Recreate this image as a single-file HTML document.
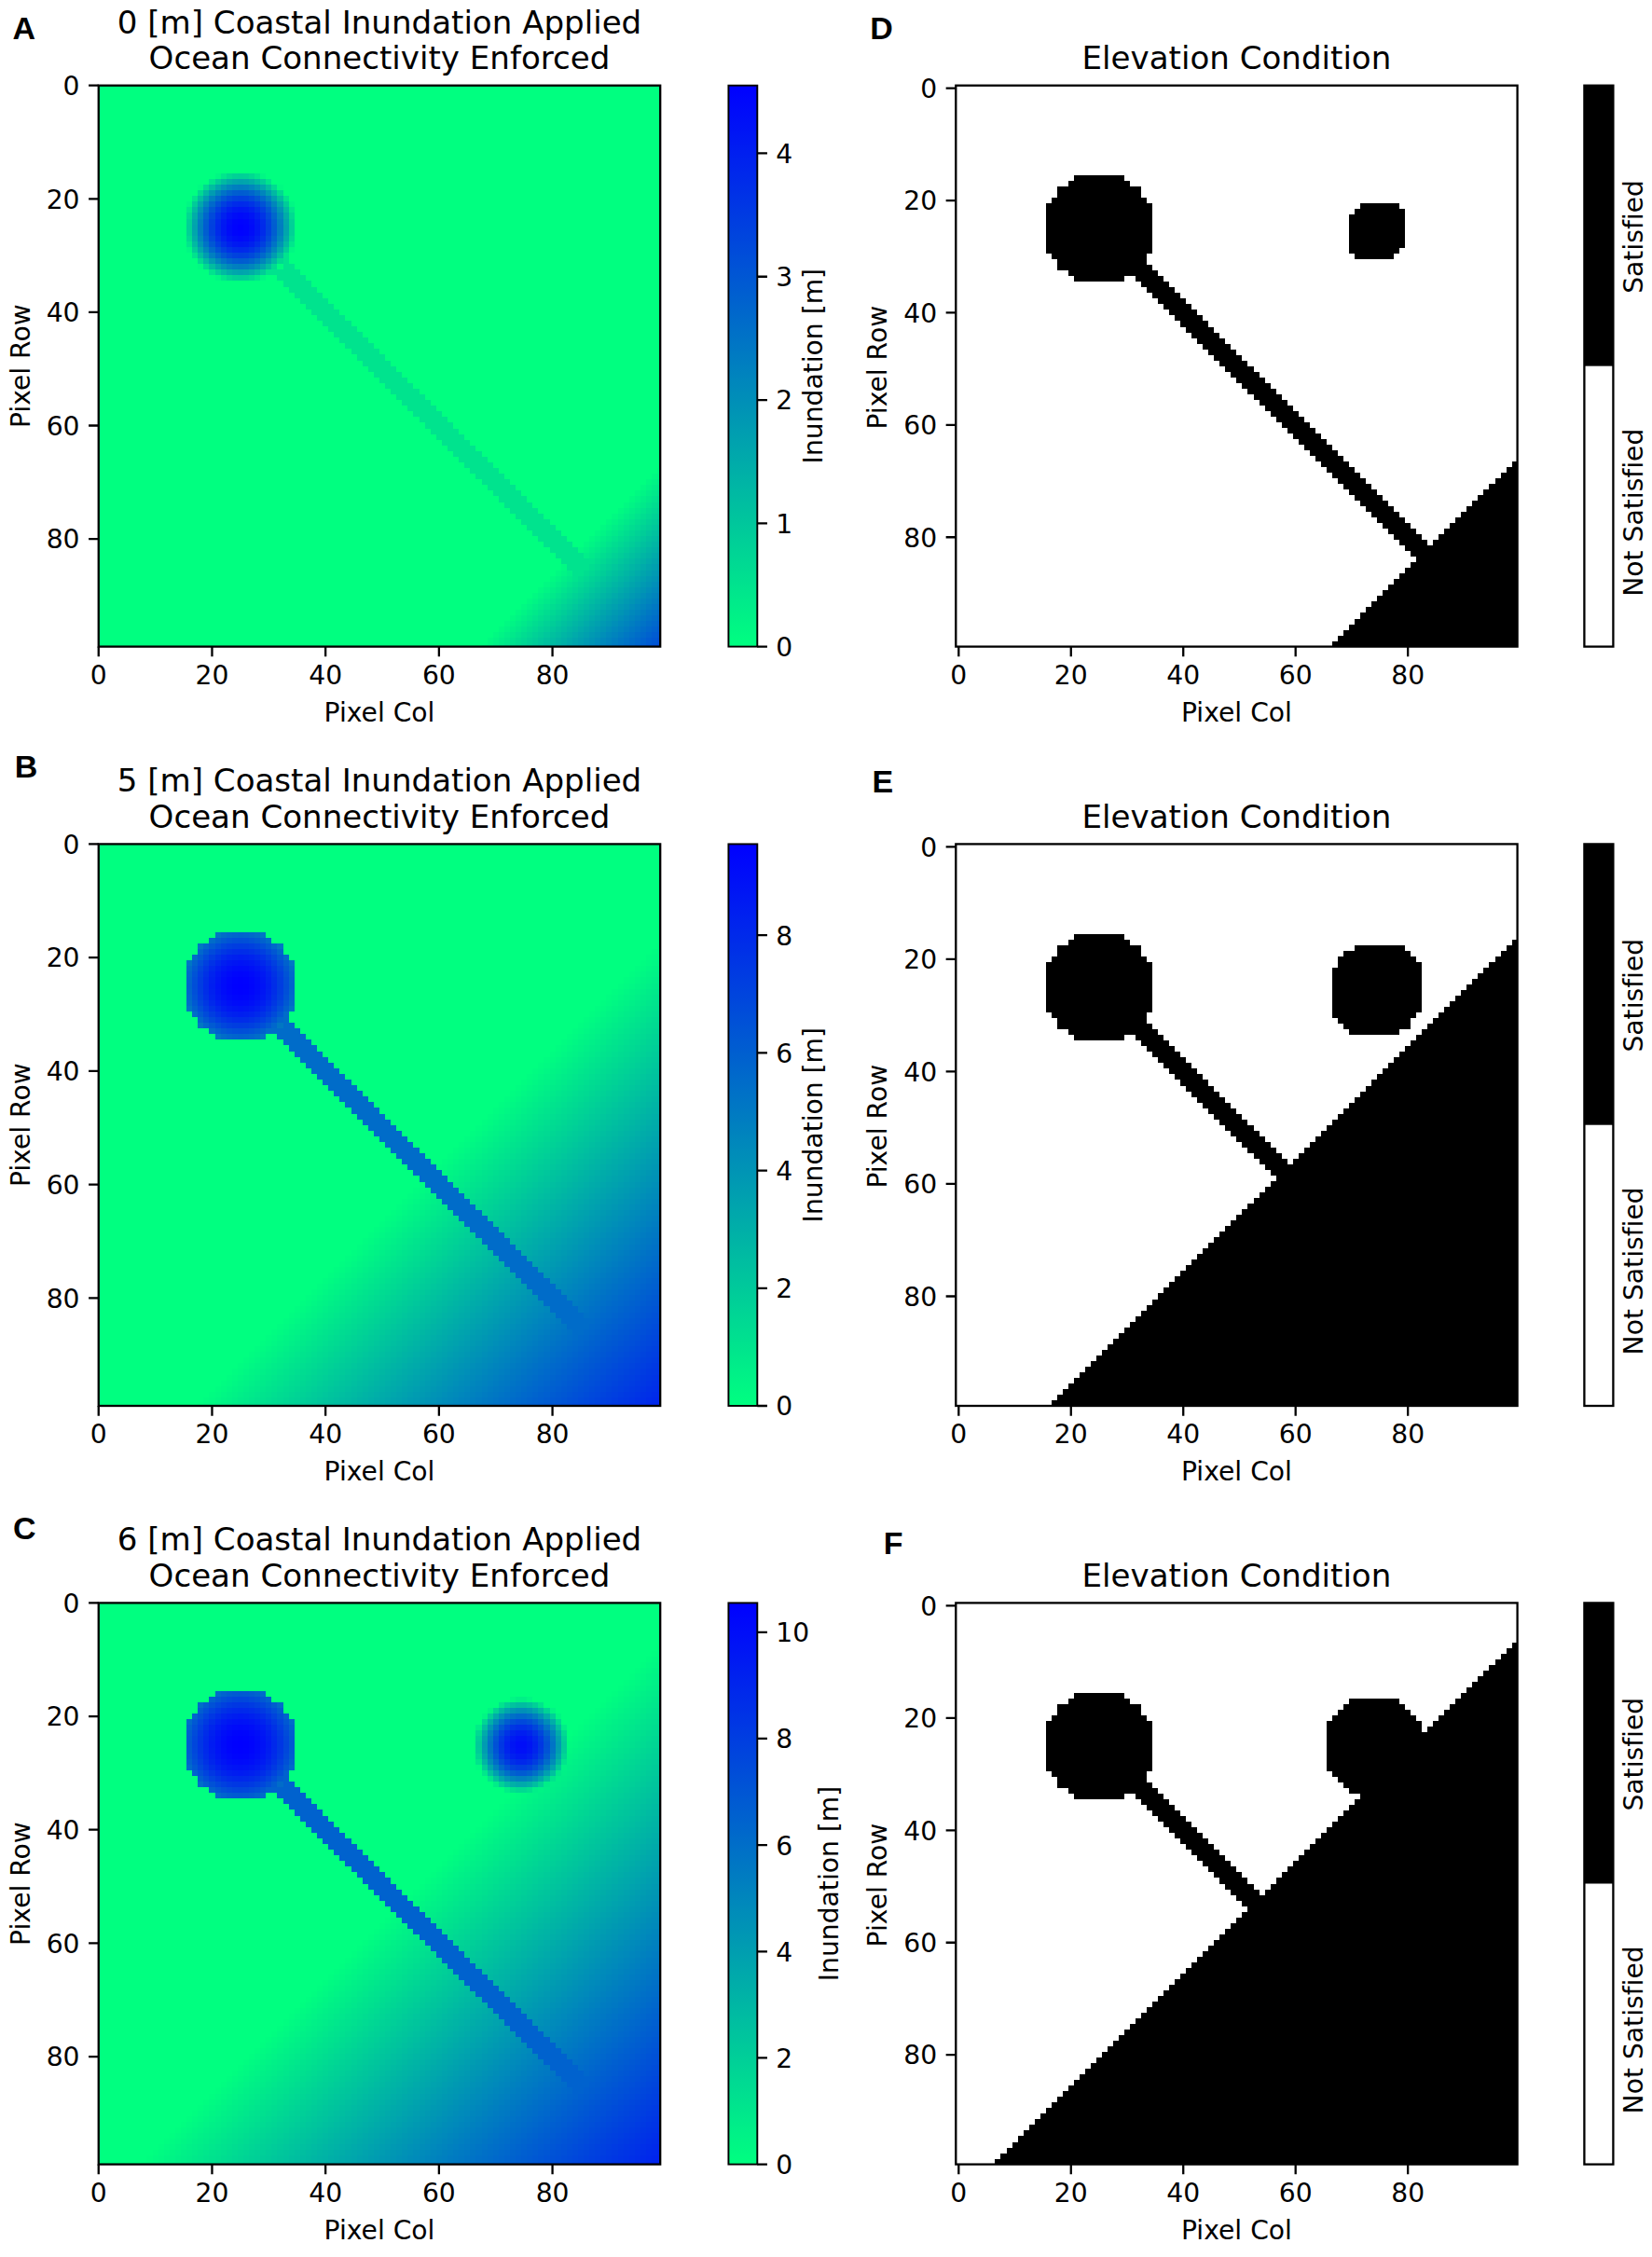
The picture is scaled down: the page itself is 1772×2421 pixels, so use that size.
<!DOCTYPE html>
<html><head><meta charset="utf-8"><title>Coastal Inundation</title>
<style>text{font-variant-ligatures:none;font-feature-settings:"liga" 0,"clig" 0}html,body{margin:0;padding:0;background:#fff}body{width:1772px;height:2421px;overflow:hidden}</style>
</head><body>
<svg width="1772" height="2421" viewBox="0 0 1772 2421" style="display:block">
<rect width="1772" height="2421" fill="#fff"/>
<defs><linearGradient id="wg" x1="0" y1="1" x2="0" y2="0"><stop offset="0" stop-color="#00ff80"/><stop offset="1" stop-color="#0000ff"/></linearGradient></defs>
<clipPath id="c0"><rect x="105.75" y="91.7" width="602.45" height="601.9"/></clipPath>
<g clip-path="url(#c0)"><rect x="105.75" y="91.7" width="602.45" height="601.9" fill="#00ff80"/>
<g transform="translate(102.71,88.66) scale(6.08535,6.07980)" shape-rendering="crispEdges">
<path fill="#00fa82" d="M18 18h1v1h-1zM32 18h1v1h-1zM18 32h1v1h-1zM32 32h1v1h-1z"/><path fill="#00f982" d="M99 68h1v1h-1zM98 69h1v1h-1zM97 70h1v1h-1zM96 71h1v1h-1zM95 72h1v1h-1zM94 73h1v1h-1zM93 74h1v1h-1zM92 75h1v1h-1zM91 76h1v1h-1zM90 77h1v1h-1zM89 78h1v1h-1zM88 79h1v1h-1zM87 80h1v1h-1zM86 81h1v1h-1zM85 82h1v1h-1zM82 85h1v1h-1zM81 86h1v1h-1zM80 87h1v1h-1zM79 88h1v1h-1zM78 89h1v1h-1zM77 90h1v1h-1zM76 91h1v1h-1zM75 92h1v1h-1zM74 93h1v1h-1zM73 94h1v1h-1zM72 95h1v1h-1zM71 96h1v1h-1zM70 97h1v1h-1zM69 98h1v1h-1zM68 99h1v1h-1z"/><path fill="#00f784" d="M21 16h1v1h-1zM29 16h1v1h-1zM16 21h1v1h-1zM34 21h1v1h-1zM16 29h1v1h-1zM34 29h1v1h-1zM21 34h1v1h-1zM29 34h1v1h-1z"/><path fill="#00f485" d="M99 69h1v1h-1zM98 70h1v1h-1zM97 71h1v1h-1zM96 72h1v1h-1zM95 73h1v1h-1zM94 74h1v1h-1zM93 75h1v1h-1zM92 76h1v1h-1zM91 77h1v1h-1zM90 78h1v1h-1zM89 79h1v1h-1zM88 80h1v1h-1zM87 81h1v1h-1zM86 82h1v1h-1zM82 86h1v1h-1zM81 87h1v1h-1zM80 88h1v1h-1zM79 89h1v1h-1zM78 90h1v1h-1zM77 91h1v1h-1zM76 92h1v1h-1zM75 93h1v1h-1zM74 94h1v1h-1zM73 95h1v1h-1zM72 96h1v1h-1zM71 97h1v1h-1zM70 98h1v1h-1zM69 99h1v1h-1z"/><path fill="#00ee88" d="M99 70h1v1h-1zM98 71h1v1h-1zM97 72h1v1h-1zM96 73h1v1h-1zM95 74h1v1h-1zM94 75h1v1h-1zM93 76h1v1h-1zM92 77h1v1h-1zM91 78h1v1h-1zM90 79h1v1h-1zM89 80h1v1h-1zM88 81h1v1h-1zM87 82h1v1h-1zM86 83h1v1h-1zM83 86h1v1h-1zM82 87h1v1h-1zM81 88h1v1h-1zM80 89h1v1h-1zM79 90h1v1h-1zM78 91h1v1h-1zM77 92h1v1h-1zM76 93h1v1h-1zM75 94h1v1h-1zM74 95h1v1h-1zM73 96h1v1h-1zM72 97h1v1h-1zM71 98h1v1h-1zM70 99h1v1h-1z"/><path fill="#00e98a" d="M99 71h1v1h-1zM98 72h1v1h-1zM97 73h1v1h-1zM96 74h1v1h-1zM95 75h1v1h-1zM94 76h1v1h-1zM93 77h1v1h-1zM92 78h1v1h-1zM91 79h1v1h-1zM90 80h1v1h-1zM89 81h1v1h-1zM88 82h1v1h-1zM87 83h1v1h-1zM83 87h1v1h-1zM82 88h1v1h-1zM81 89h1v1h-1zM80 90h1v1h-1zM79 91h1v1h-1zM78 92h1v1h-1zM77 93h1v1h-1zM76 94h1v1h-1zM75 95h1v1h-1zM74 96h1v1h-1zM73 97h1v1h-1zM72 98h1v1h-1zM71 99h1v1h-1z"/><path fill="#00e68c" d="M22 16h1v1h-1zM28 16h1v1h-1zM16 22h1v1h-1zM34 22h1v1h-1zM16 28h1v1h-1zM34 28h1v1h-1zM22 34h1v1h-1zM28 34h1v1h-1z"/><path fill="#00e38e" d="M20 17h1v1h-1zM30 17h1v1h-1zM17 20h1v1h-1zM33 20h1v1h-1zM17 30h1v1h-1zM33 30h1v1h-1zM33 31h1v1h-1zM33 32h2v1h-2zM20 33h1v1h-1zM30 33h6v1h-6zM32 34h5v1h-5zM33 35h5v1h-5zM34 36h5v1h-5zM35 37h5v1h-5zM36 38h5v1h-5zM37 39h5v1h-5zM38 40h5v1h-5zM39 41h5v1h-5zM40 42h5v1h-5zM41 43h5v1h-5zM42 44h5v1h-5zM43 45h5v1h-5zM44 46h5v1h-5zM45 47h5v1h-5zM46 48h5v1h-5zM47 49h5v1h-5zM48 50h5v1h-5zM49 51h5v1h-5zM50 52h5v1h-5zM51 53h5v1h-5zM52 54h5v1h-5zM53 55h5v1h-5zM54 56h5v1h-5zM55 57h5v1h-5zM56 58h5v1h-5zM57 59h5v1h-5zM58 60h5v1h-5zM59 61h5v1h-5zM60 62h5v1h-5zM61 63h5v1h-5zM62 64h5v1h-5zM63 65h5v1h-5zM64 66h5v1h-5zM65 67h5v1h-5zM66 68h5v1h-5zM67 69h5v1h-5zM68 70h5v1h-5zM69 71h5v1h-5zM70 72h5v1h-5zM99 72h1v1h-1zM71 73h5v1h-5zM98 73h1v1h-1zM72 74h5v1h-5zM97 74h1v1h-1zM73 75h5v1h-5zM96 75h1v1h-1zM74 76h5v1h-5zM95 76h1v1h-1zM75 77h5v1h-5zM94 77h1v1h-1zM76 78h5v1h-5zM93 78h1v1h-1zM77 79h5v1h-5zM92 79h1v1h-1zM78 80h5v1h-5zM91 80h1v1h-1zM79 81h5v1h-5zM90 81h1v1h-1zM80 82h5v1h-5zM89 82h1v1h-1zM81 83h5v1h-5zM88 83h1v1h-1zM82 84h6v1h-6zM83 85h4v1h-4zM84 86h2v1h-2zM84 87h1v1h-1zM83 88h1v1h-1zM82 89h1v1h-1zM81 90h1v1h-1zM80 91h1v1h-1zM79 92h1v1h-1zM78 93h1v1h-1zM77 94h1v1h-1zM76 95h1v1h-1zM75 96h1v1h-1zM74 97h1v1h-1zM73 98h1v1h-1zM72 99h1v1h-1z"/><path fill="#00dd90" d="M99 73h1v1h-1zM98 74h1v1h-1zM97 75h1v1h-1zM96 76h1v1h-1zM95 77h1v1h-1zM94 78h1v1h-1zM93 79h1v1h-1zM92 80h1v1h-1zM91 81h1v1h-1zM90 82h1v1h-1zM89 83h1v1h-1zM88 84h1v1h-1zM87 85h1v1h-1zM86 86h1v1h-1zM85 87h1v1h-1zM84 88h1v1h-1zM83 89h1v1h-1zM82 90h1v1h-1zM81 91h1v1h-1zM80 92h1v1h-1zM79 93h1v1h-1zM78 94h1v1h-1zM77 95h1v1h-1zM76 96h1v1h-1zM75 97h1v1h-1zM74 98h1v1h-1zM73 99h1v1h-1z"/><path fill="#00d992" d="M23 16h1v1h-1zM27 16h1v1h-1zM19 18h1v1h-1zM31 18h1v1h-1zM18 19h1v1h-1zM32 19h1v1h-1zM16 23h1v1h-1zM34 23h1v1h-1zM16 27h1v1h-1zM34 27h1v1h-1zM18 31h1v1h-1zM32 31h1v1h-1zM19 32h1v1h-1zM31 32h1v1h-1zM23 34h1v1h-1zM27 34h1v1h-1z"/><path fill="#00d893" d="M99 74h1v1h-1zM98 75h1v1h-1zM97 76h1v1h-1zM96 77h1v1h-1zM95 78h1v1h-1zM94 79h1v1h-1zM93 80h1v1h-1zM92 81h1v1h-1zM91 82h1v1h-1zM90 83h1v1h-1zM89 84h1v1h-1zM88 85h1v1h-1zM87 86h1v1h-1zM86 87h1v1h-1zM85 88h1v1h-1zM84 89h1v1h-1zM83 90h1v1h-1zM82 91h1v1h-1zM81 92h1v1h-1zM80 93h1v1h-1zM79 94h1v1h-1zM78 95h1v1h-1zM77 96h1v1h-1zM76 97h1v1h-1zM75 98h1v1h-1zM74 99h1v1h-1z"/><path fill="#00d296" d="M99 75h1v1h-1zM98 76h1v1h-1zM97 77h1v1h-1zM96 78h1v1h-1zM95 79h1v1h-1zM94 80h1v1h-1zM93 81h1v1h-1zM92 82h1v1h-1zM91 83h1v1h-1zM90 84h1v1h-1zM89 85h1v1h-1zM88 86h1v1h-1zM87 87h1v1h-1zM86 88h1v1h-1zM85 89h1v1h-1zM84 90h1v1h-1zM83 91h1v1h-1zM82 92h1v1h-1zM81 93h1v1h-1zM80 94h1v1h-1zM79 95h1v1h-1zM78 96h1v1h-1zM77 97h1v1h-1zM76 98h1v1h-1zM75 99h1v1h-1z"/><path fill="#00d196" d="M24 16h1v1h-1zM26 16h1v1h-1zM16 24h1v1h-1zM34 24h1v1h-1zM16 26h1v1h-1zM34 26h1v1h-1zM24 34h1v1h-1zM26 34h1v1h-1z"/><path fill="#00cf98" d="M25 16h1v1h-1zM16 25h1v1h-1zM34 25h1v1h-1zM25 34h1v1h-1z"/><path fill="#00cd98" d="M99 76h1v1h-1zM98 77h1v1h-1zM97 78h1v1h-1zM96 79h1v1h-1zM95 80h1v1h-1zM94 81h1v1h-1zM93 82h1v1h-1zM92 83h1v1h-1zM91 84h1v1h-1zM90 85h1v1h-1zM89 86h1v1h-1zM88 87h1v1h-1zM87 88h1v1h-1zM86 89h1v1h-1zM85 90h1v1h-1zM84 91h1v1h-1zM83 92h1v1h-1zM82 93h1v1h-1zM81 94h1v1h-1zM80 95h1v1h-1zM79 96h1v1h-1zM78 97h1v1h-1zM77 98h1v1h-1zM76 99h1v1h-1z"/><path fill="#00cc99" d="M21 17h1v1h-1zM29 17h1v1h-1zM17 21h1v1h-1zM33 21h1v1h-1zM17 29h1v1h-1zM33 29h1v1h-1zM21 33h1v1h-1zM29 33h1v1h-1z"/><path fill="#00c79c" d="M99 77h1v1h-1zM98 78h1v1h-1zM97 79h1v1h-1zM96 80h1v1h-1zM95 81h1v1h-1zM94 82h1v1h-1zM93 83h1v1h-1zM92 84h1v1h-1zM91 85h1v1h-1zM90 86h1v1h-1zM89 87h1v1h-1zM88 88h1v1h-1zM87 89h1v1h-1zM86 90h1v1h-1zM85 91h1v1h-1zM84 92h1v1h-1zM83 93h1v1h-1zM82 94h1v1h-1zM81 95h1v1h-1zM80 96h1v1h-1zM79 97h1v1h-1zM78 98h1v1h-1zM77 99h1v1h-1z"/><path fill="#00c19e" d="M99 78h1v1h-1zM98 79h1v1h-1zM97 80h1v1h-1zM96 81h1v1h-1zM95 82h1v1h-1zM94 83h1v1h-1zM93 84h1v1h-1zM92 85h1v1h-1zM91 86h1v1h-1zM90 87h1v1h-1zM89 88h1v1h-1zM88 89h1v1h-1zM87 90h1v1h-1zM86 91h1v1h-1zM85 92h1v1h-1zM84 93h1v1h-1zM83 94h1v1h-1zM82 95h1v1h-1zM81 96h1v1h-1zM80 97h1v1h-1zM79 98h1v1h-1zM78 99h1v1h-1z"/><path fill="#00bda0" d="M20 18h1v1h-1zM30 18h1v1h-1zM18 20h1v1h-1zM32 20h1v1h-1zM18 30h1v1h-1zM32 30h1v1h-1zM20 32h1v1h-1zM30 32h1v1h-1z"/><path fill="#00bca1" d="M99 79h1v1h-1zM98 80h1v1h-1zM97 81h1v1h-1zM96 82h1v1h-1zM95 83h1v1h-1zM94 84h1v1h-1zM93 85h1v1h-1zM92 86h1v1h-1zM91 87h1v1h-1zM90 88h1v1h-1zM89 89h1v1h-1zM88 90h1v1h-1zM87 91h1v1h-1zM86 92h1v1h-1zM85 93h1v1h-1zM84 94h1v1h-1zM83 95h1v1h-1zM82 96h1v1h-1zM81 97h1v1h-1zM80 98h1v1h-1zM79 99h1v1h-1z"/><path fill="#00baa2" d="M22 17h1v1h-1zM28 17h1v1h-1zM17 22h1v1h-1zM33 22h1v1h-1zM17 28h1v1h-1zM33 28h1v1h-1zM22 33h1v1h-1zM28 33h1v1h-1z"/><path fill="#00b8a3" d="M19 19h1v1h-1zM31 19h1v1h-1zM19 31h1v1h-1zM31 31h1v1h-1z"/><path fill="#00b6a4" d="M99 80h1v1h-1zM98 81h1v1h-1zM97 82h1v1h-1zM96 83h1v1h-1zM95 84h1v1h-1zM94 85h1v1h-1zM93 86h1v1h-1zM92 87h1v1h-1zM91 88h1v1h-1zM90 89h1v1h-1zM89 90h1v1h-1zM88 91h1v1h-1zM87 92h1v1h-1zM86 93h1v1h-1zM85 94h1v1h-1zM84 95h1v1h-1zM83 96h1v1h-1zM82 97h1v1h-1zM81 98h1v1h-1zM80 99h1v1h-1z"/><path fill="#00b1a6" d="M99 81h1v1h-1zM98 82h1v1h-1zM97 83h1v1h-1zM96 84h1v1h-1zM95 85h1v1h-1zM94 86h1v1h-1zM93 87h1v1h-1zM92 88h1v1h-1zM91 89h1v1h-1zM90 90h1v1h-1zM89 91h1v1h-1zM88 92h1v1h-1zM87 93h1v1h-1zM86 94h1v1h-1zM85 95h1v1h-1zM84 96h1v1h-1zM83 97h1v1h-1zM82 98h1v1h-1zM81 99h1v1h-1z"/><path fill="#00ada8" d="M23 17h1v1h-1zM27 17h1v1h-1zM17 23h1v1h-1zM33 23h1v1h-1zM17 27h1v1h-1zM33 27h1v1h-1zM23 33h1v1h-1zM27 33h1v1h-1z"/><path fill="#00abaa" d="M99 82h1v1h-1zM98 83h1v1h-1zM97 84h1v1h-1zM96 85h1v1h-1zM95 86h1v1h-1zM94 87h1v1h-1zM93 88h1v1h-1zM92 89h1v1h-1zM91 90h1v1h-1zM90 91h1v1h-1zM89 92h1v1h-1zM88 93h1v1h-1zM87 94h1v1h-1zM86 95h1v1h-1zM85 96h1v1h-1zM84 97h1v1h-1zM83 98h1v1h-1zM82 99h1v1h-1z"/><path fill="#00a6ac" d="M24 17h1v1h-1zM26 17h1v1h-1zM21 18h1v1h-1zM29 18h1v1h-1zM18 21h1v1h-1zM32 21h1v1h-1zM17 24h1v1h-1zM33 24h1v1h-1zM17 26h1v1h-1zM33 26h1v1h-1zM18 29h1v1h-1zM32 29h1v1h-1zM21 32h1v1h-1zM29 32h1v1h-1zM24 33h1v1h-1zM26 33h1v1h-1z"/><path fill="#00a5ac" d="M99 83h1v1h-1zM98 84h1v1h-1zM97 85h1v1h-1zM96 86h1v1h-1zM95 87h1v1h-1zM94 88h1v1h-1zM93 89h1v1h-1zM92 90h1v1h-1zM91 91h1v1h-1zM90 92h1v1h-1zM89 93h1v1h-1zM88 94h1v1h-1zM87 95h1v1h-1zM86 96h1v1h-1zM85 97h1v1h-1zM84 98h1v1h-1zM83 99h1v1h-1z"/><path fill="#00a3ae" d="M25 17h1v1h-1zM17 25h1v1h-1zM33 25h1v1h-1zM25 33h1v1h-1z"/><path fill="#00a0af" d="M99 84h1v1h-1zM98 85h1v1h-1zM97 86h1v1h-1zM96 87h1v1h-1zM95 88h1v1h-1zM94 89h1v1h-1zM93 90h1v1h-1zM92 91h1v1h-1zM91 92h1v1h-1zM90 93h1v1h-1zM89 94h1v1h-1zM88 95h1v1h-1zM87 96h1v1h-1zM86 97h1v1h-1zM85 98h1v1h-1zM84 99h1v1h-1z"/><path fill="#009cb1" d="M20 19h1v1h-1zM30 19h1v1h-1zM19 20h1v1h-1zM31 20h1v1h-1zM19 30h1v1h-1zM31 30h1v1h-1zM20 31h1v1h-1zM30 31h1v1h-1z"/><path fill="#009ab2" d="M99 85h1v1h-1zM98 86h1v1h-1zM97 87h1v1h-1zM96 88h1v1h-1zM95 89h1v1h-1zM94 90h1v1h-1zM93 91h1v1h-1zM92 92h1v1h-1zM91 93h1v1h-1zM90 94h1v1h-1zM89 95h1v1h-1zM88 96h1v1h-1zM87 97h1v1h-1zM86 98h1v1h-1zM85 99h1v1h-1z"/><path fill="#0095b4" d="M99 86h1v1h-1zM98 87h1v1h-1zM97 88h1v1h-1zM96 89h1v1h-1zM95 90h1v1h-1zM94 91h1v1h-1zM93 92h1v1h-1zM92 93h1v1h-1zM91 94h1v1h-1zM90 95h1v1h-1zM89 96h1v1h-1zM88 97h1v1h-1zM87 98h1v1h-1zM86 99h1v1h-1z"/><path fill="#0094b5" d="M22 18h1v1h-1zM28 18h1v1h-1zM18 22h1v1h-1zM32 22h1v1h-1zM18 28h1v1h-1zM32 28h1v1h-1zM22 32h1v1h-1zM28 32h1v1h-1z"/><path fill="#008fb8" d="M99 87h1v1h-1zM98 88h1v1h-1zM97 89h1v1h-1zM96 90h1v1h-1zM95 91h1v1h-1zM94 92h1v1h-1zM93 93h1v1h-1zM92 94h1v1h-1zM91 95h1v1h-1zM90 96h1v1h-1zM89 97h1v1h-1zM88 98h1v1h-1zM87 99h1v1h-1z"/><path fill="#0089bb" d="M99 88h1v1h-1zM98 89h1v1h-1zM97 90h1v1h-1zM96 91h1v1h-1zM95 92h1v1h-1zM94 93h1v1h-1zM93 94h1v1h-1zM92 95h1v1h-1zM91 96h1v1h-1zM90 97h1v1h-1zM89 98h1v1h-1zM88 99h1v1h-1z"/><path fill="#0087bc" d="M23 18h1v1h-1zM27 18h1v1h-1zM18 23h1v1h-1zM32 23h1v1h-1zM18 27h1v1h-1zM32 27h1v1h-1zM23 32h1v1h-1zM27 32h1v1h-1z"/><path fill="#0085bc" d="M21 19h1v1h-1zM29 19h1v1h-1zM19 21h1v1h-1zM31 21h1v1h-1zM19 29h1v1h-1zM31 29h1v1h-1zM21 31h1v1h-1zM29 31h1v1h-1z"/><path fill="#0084bd" d="M99 89h1v1h-1zM98 90h1v1h-1zM97 91h1v1h-1zM96 92h1v1h-1zM95 93h1v1h-1zM94 94h1v1h-1zM93 95h1v1h-1zM92 96h1v1h-1zM91 97h1v1h-1zM90 98h1v1h-1zM89 99h1v1h-1z"/><path fill="#007fc0" d="M24 18h1v1h-1zM26 18h1v1h-1zM20 20h1v1h-1zM30 20h1v1h-1zM18 24h1v1h-1zM32 24h1v1h-1zM18 26h1v1h-1zM32 26h1v1h-1zM20 30h1v1h-1zM30 30h1v1h-1zM24 32h1v1h-1zM26 32h1v1h-1z"/><path fill="#007ec0" d="M99 90h1v1h-1zM98 91h1v1h-1zM97 92h1v1h-1zM96 93h1v1h-1zM95 94h1v1h-1zM94 95h1v1h-1zM93 96h1v1h-1zM92 97h1v1h-1zM91 98h1v1h-1zM90 99h1v1h-1z"/><path fill="#007dc0" d="M25 18h1v1h-1zM18 25h1v1h-1zM32 25h1v1h-1zM25 32h1v1h-1z"/><path fill="#0078c3" d="M99 91h1v1h-1zM98 92h1v1h-1zM97 93h1v1h-1zM96 94h1v1h-1zM95 95h1v1h-1zM94 96h1v1h-1zM93 97h1v1h-1zM92 98h1v1h-1zM91 99h1v1h-1z"/><path fill="#0073c6" d="M22 19h1v1h-1zM28 19h1v1h-1zM19 22h1v1h-1zM31 22h1v1h-1zM19 28h1v1h-1zM31 28h1v1h-1zM22 31h1v1h-1zM28 31h1v1h-1zM99 92h1v1h-1zM98 93h1v1h-1zM97 94h1v1h-1zM96 95h1v1h-1zM95 96h1v1h-1zM94 97h1v1h-1zM93 98h1v1h-1zM92 99h1v1h-1z"/><path fill="#006dc8" d="M99 93h1v1h-1zM98 94h1v1h-1zM97 95h1v1h-1zM96 96h1v1h-1zM95 97h1v1h-1zM94 98h1v1h-1zM93 99h1v1h-1z"/><path fill="#0069cb" d="M21 20h1v1h-1zM29 20h1v1h-1zM20 21h1v1h-1zM30 21h1v1h-1zM20 29h1v1h-1zM30 29h1v1h-1zM21 30h1v1h-1zM29 30h1v1h-1z"/><path fill="#0068cb" d="M99 94h1v1h-1zM98 95h1v1h-1zM97 96h1v1h-1zM96 97h1v1h-1zM95 98h1v1h-1zM94 99h1v1h-1z"/><path fill="#0066cc" d="M23 19h1v1h-1zM27 19h1v1h-1zM19 23h1v1h-1zM31 23h1v1h-1zM19 27h1v1h-1zM31 27h1v1h-1zM23 31h1v1h-1zM27 31h1v1h-1z"/><path fill="#0062ce" d="M99 95h1v1h-1zM98 96h1v1h-1zM97 97h1v1h-1zM96 98h1v1h-1zM95 99h1v1h-1z"/><path fill="#005ed0" d="M24 19h1v1h-1zM26 19h1v1h-1zM19 24h1v1h-1zM31 24h1v1h-1zM19 26h1v1h-1zM31 26h1v1h-1zM24 31h1v1h-1zM26 31h1v1h-1z"/><path fill="#005cd1" d="M25 19h1v1h-1zM19 25h1v1h-1zM31 25h1v1h-1zM25 31h1v1h-1zM99 96h1v1h-1zM98 97h1v1h-1zM97 98h1v1h-1zM96 99h1v1h-1z"/><path fill="#0057d3" d="M22 20h1v1h-1zM28 20h1v1h-1zM20 22h1v1h-1zM30 22h1v1h-1zM20 28h1v1h-1zM30 28h1v1h-1zM22 30h1v1h-1zM28 30h1v1h-1zM99 97h1v1h-1zM98 98h1v1h-1zM97 99h1v1h-1z"/><path fill="#0052d6" d="M21 21h1v1h-1zM29 21h1v1h-1zM21 29h1v1h-1zM29 29h1v1h-1z"/><path fill="#0051d6" d="M99 98h1v1h-1zM98 99h1v1h-1z"/><path fill="#004cd9" d="M99 99h1v1h-1z"/><path fill="#004ada" d="M23 20h1v1h-1zM27 20h1v1h-1zM20 23h1v1h-1zM30 23h1v1h-1zM20 27h1v1h-1zM30 27h1v1h-1zM23 30h1v1h-1zM27 30h1v1h-1z"/><path fill="#0042de" d="M24 20h1v1h-1zM26 20h1v1h-1zM20 24h1v1h-1zM30 24h1v1h-1zM20 26h1v1h-1zM30 26h1v1h-1zM24 30h1v1h-1zM26 30h1v1h-1z"/><path fill="#0040df" d="M25 20h1v1h-1zM22 21h1v1h-1zM28 21h1v1h-1zM21 22h1v1h-1zM29 22h1v1h-1zM20 25h1v1h-1zM30 25h1v1h-1zM21 28h1v1h-1zM29 28h1v1h-1zM22 29h1v1h-1zM28 29h1v1h-1zM25 30h1v1h-1z"/><path fill="#0033e6" d="M23 21h1v1h-1zM27 21h1v1h-1zM21 23h1v1h-1zM29 23h1v1h-1zM21 27h1v1h-1zM29 27h1v1h-1zM23 29h1v1h-1zM27 29h1v1h-1z"/><path fill="#002ee8" d="M22 22h1v1h-1zM28 22h1v1h-1zM22 28h1v1h-1zM28 28h1v1h-1z"/><path fill="#002bea" d="M24 21h1v1h-1zM26 21h1v1h-1zM21 24h1v1h-1zM29 24h1v1h-1zM21 26h1v1h-1zM29 26h1v1h-1zM24 29h1v1h-1zM26 29h1v1h-1z"/><path fill="#0029eb" d="M25 21h1v1h-1zM21 25h1v1h-1zM29 25h1v1h-1zM25 29h1v1h-1z"/><path fill="#0021ee" d="M23 22h1v1h-1zM27 22h1v1h-1zM22 23h1v1h-1zM28 23h1v1h-1zM22 27h1v1h-1zM28 27h1v1h-1zM23 28h1v1h-1zM27 28h1v1h-1z"/><path fill="#0019f2" d="M24 22h1v1h-1zM26 22h1v1h-1zM22 24h1v1h-1zM28 24h1v1h-1zM22 26h1v1h-1zM28 26h1v1h-1zM24 28h1v1h-1zM26 28h1v1h-1z"/><path fill="#0017f3" d="M25 22h1v1h-1zM22 25h1v1h-1zM28 25h1v1h-1zM25 28h1v1h-1z"/><path fill="#0014f5" d="M23 23h1v1h-1zM27 23h1v1h-1zM23 27h1v1h-1zM27 27h1v1h-1z"/><path fill="#000df8" d="M24 23h1v1h-1zM26 23h1v1h-1zM23 24h1v1h-1zM27 24h1v1h-1zM23 26h1v1h-1zM27 26h1v1h-1zM24 27h1v1h-1zM26 27h1v1h-1z"/><path fill="#000afa" d="M25 23h1v1h-1zM23 25h1v1h-1zM27 25h1v1h-1zM25 27h1v1h-1z"/><path fill="#0005fc" d="M24 24h1v1h-1zM26 24h1v1h-1zM24 26h1v1h-1zM26 26h1v1h-1z"/><path fill="#0003fe" d="M25 24h1v1h-1zM24 25h1v1h-1zM26 25h1v1h-1zM25 26h1v1h-1z"/><path fill="#0000ff" d="M25 25h1v1h-1z"/>
</g></g>
<path d="M105.75 693.6v10.65M227.46 693.6v10.65M349.16 693.6v10.65M470.87 693.6v10.65M592.58 693.6v10.65M105.75 91.7h-10.65M105.75 213.3h-10.65M105.75 334.89h-10.65M105.75 456.49h-10.65M105.75 578.08h-10.65" stroke="#000" stroke-width="2.3" fill="none"/>
<rect x="105.75" y="91.7" width="602.45" height="601.9" fill="none" stroke="#000" stroke-width="2.3"/>
<text x="105.75" y="733.9" font-family='"DejaVu Sans","Liberation Sans",sans-serif' font-size="28.2" text-anchor="middle" fill="#000">0</text>
<text x="227.46" y="733.9" font-family='"DejaVu Sans","Liberation Sans",sans-serif' font-size="28.2" text-anchor="middle" fill="#000">20</text>
<text x="349.16" y="733.9" font-family='"DejaVu Sans","Liberation Sans",sans-serif' font-size="28.2" text-anchor="middle" fill="#000">40</text>
<text x="470.87" y="733.9" font-family='"DejaVu Sans","Liberation Sans",sans-serif' font-size="28.2" text-anchor="middle" fill="#000">60</text>
<text x="592.58" y="733.9" font-family='"DejaVu Sans","Liberation Sans",sans-serif' font-size="28.2" text-anchor="middle" fill="#000">80</text>
<text x="85.55" y="102" font-family='"DejaVu Sans","Liberation Sans",sans-serif' font-size="28.2" text-anchor="end" fill="#000">0</text>
<text x="85.55" y="223.6" font-family='"DejaVu Sans","Liberation Sans",sans-serif' font-size="28.2" text-anchor="end" fill="#000">20</text>
<text x="85.55" y="345.19" font-family='"DejaVu Sans","Liberation Sans",sans-serif' font-size="28.2" text-anchor="end" fill="#000">40</text>
<text x="85.55" y="466.79" font-family='"DejaVu Sans","Liberation Sans",sans-serif' font-size="28.2" text-anchor="end" fill="#000">60</text>
<text x="85.55" y="588.38" font-family='"DejaVu Sans","Liberation Sans",sans-serif' font-size="28.2" text-anchor="end" fill="#000">80</text>
<text x="406.98" y="773.6" font-family='"DejaVu Sans","Liberation Sans",sans-serif' font-size="28.2" text-anchor="middle" fill="#000">Pixel Col</text>
<text transform="translate(31.75,392.65) rotate(-90)" font-family='"DejaVu Sans","Liberation Sans",sans-serif' font-size="28.2" text-anchor="middle" fill="#000">Pixel Row</text>
<text x="406.98" y="35.7" font-family='"DejaVu Sans","Liberation Sans",sans-serif' font-size="34.1" text-anchor="middle" fill="#000">0 [m] Coastal Inundation Applied</text>
<text x="406.98" y="73.9" font-family='"DejaVu Sans","Liberation Sans",sans-serif' font-size="34.1" text-anchor="middle" fill="#000">Ocean Connectivity Enforced</text>
<rect x="781.4" y="91.7" width="30.9" height="601.9" fill="url(#wg)" stroke="#000" stroke-width="1.9"/>
<text x="832.3" y="704" font-family='"DejaVu Sans","Liberation Sans",sans-serif' font-size="28.2" text-anchor="start" fill="#000">0</text>
<text x="832.3" y="571.71" font-family='"DejaVu Sans","Liberation Sans",sans-serif' font-size="28.2" text-anchor="start" fill="#000">1</text>
<text x="832.3" y="439.43" font-family='"DejaVu Sans","Liberation Sans",sans-serif' font-size="28.2" text-anchor="start" fill="#000">2</text>
<text x="832.3" y="307.14" font-family='"DejaVu Sans","Liberation Sans",sans-serif' font-size="28.2" text-anchor="start" fill="#000">3</text>
<text x="832.3" y="174.86" font-family='"DejaVu Sans","Liberation Sans",sans-serif' font-size="28.2" text-anchor="start" fill="#000">4</text>
<path d="M812.3 693.6h10.65M812.3 561.31h10.65M812.3 429.03h10.65M812.3 296.74h10.65M812.3 164.46h10.65" stroke="#000" stroke-width="2.3" fill="none"/>
<text transform="translate(882,392.65) rotate(-90)" font-family='"DejaVu Sans","Liberation Sans",sans-serif' font-size="28.2" text-anchor="middle" fill="#000">Inundation [m]</text>
<text x="13.6" y="42" font-family='"Liberation Sans","DejaVu Sans",sans-serif' font-size="34" text-anchor="start" font-weight="bold" fill="#000">A</text>
<g transform="translate(1025.3,91.7) scale(6.02300,6.01900)" shape-rendering="crispEdges">
<path fill="#000" d="M21 16h9v1h-9zM20 17h11v1h-11zM18 18h15v1h-15zM18 19h15v1h-15zM17 20h17v1h-17zM16 21h19v1h-19zM72 21h7v1h-7zM16 22h19v1h-19zM71 22h9v1h-9zM16 23h19v1h-19zM70 23h10v1h-10zM16 24h19v1h-19zM70 24h10v1h-10zM16 25h19v1h-19zM70 25h10v1h-10zM16 26h19v1h-19zM70 26h10v1h-10zM16 27h19v1h-19zM70 27h10v1h-10zM16 28h19v1h-19zM70 28h10v1h-10zM16 29h19v1h-19zM70 29h9v1h-9zM17 30h17v1h-17zM71 30h7v1h-7zM18 31h16v1h-16zM18 32h17v1h-17zM20 33h16v1h-16zM21 34h9v1h-9zM32 34h5v1h-5zM33 35h5v1h-5zM34 36h5v1h-5zM35 37h5v1h-5zM36 38h5v1h-5zM37 39h5v1h-5zM38 40h5v1h-5zM39 41h5v1h-5zM40 42h5v1h-5zM41 43h5v1h-5zM42 44h5v1h-5zM43 45h5v1h-5zM44 46h5v1h-5zM45 47h5v1h-5zM46 48h5v1h-5zM47 49h5v1h-5zM48 50h5v1h-5zM49 51h5v1h-5zM50 52h5v1h-5zM51 53h5v1h-5zM52 54h5v1h-5zM53 55h5v1h-5zM54 56h5v1h-5zM55 57h5v1h-5zM56 58h5v1h-5zM57 59h5v1h-5zM58 60h5v1h-5zM59 61h5v1h-5zM60 62h5v1h-5zM61 63h5v1h-5zM62 64h5v1h-5zM63 65h5v1h-5zM64 66h5v1h-5zM65 67h5v1h-5zM99 67h1v1h-1zM66 68h5v1h-5zM98 68h2v1h-2zM67 69h5v1h-5zM97 69h3v1h-3zM68 70h5v1h-5zM96 70h4v1h-4zM69 71h5v1h-5zM95 71h5v1h-5zM70 72h5v1h-5zM94 72h6v1h-6zM71 73h5v1h-5zM93 73h7v1h-7zM72 74h5v1h-5zM92 74h8v1h-8zM73 75h5v1h-5zM91 75h9v1h-9zM74 76h5v1h-5zM90 76h10v1h-10zM75 77h5v1h-5zM89 77h11v1h-11zM76 78h5v1h-5zM88 78h12v1h-12zM77 79h5v1h-5zM87 79h13v1h-13zM78 80h5v1h-5zM86 80h14v1h-14zM79 81h5v1h-5zM85 81h15v1h-15zM80 82h20v1h-20zM81 83h19v1h-19zM82 84h18v1h-18zM81 85h19v1h-19zM80 86h20v1h-20zM79 87h21v1h-21zM78 88h22v1h-22zM77 89h23v1h-23zM76 90h24v1h-24zM75 91h25v1h-25zM74 92h26v1h-26zM73 93h27v1h-27zM72 94h28v1h-28zM71 95h29v1h-29zM70 96h30v1h-30zM69 97h31v1h-31zM68 98h32v1h-32zM67 99h33v1h-33z"/>
</g>
<path d="M1028.31 693.6v10.65M1148.77 693.6v10.65M1269.23 693.6v10.65M1389.69 693.6v10.65M1510.15 693.6v10.65M1025.3 94.71h-10.65M1025.3 215.09h-10.65M1025.3 335.47h-10.65M1025.3 455.85h-10.65M1025.3 576.23h-10.65" stroke="#000" stroke-width="2.3" fill="none"/>
<rect x="1025.3" y="91.7" width="602.3" height="601.9" fill="none" stroke="#000" stroke-width="2.3"/>
<text x="1028.31" y="733.9" font-family='"DejaVu Sans","Liberation Sans",sans-serif' font-size="28.2" text-anchor="middle" fill="#000">0</text>
<text x="1148.77" y="733.9" font-family='"DejaVu Sans","Liberation Sans",sans-serif' font-size="28.2" text-anchor="middle" fill="#000">20</text>
<text x="1269.23" y="733.9" font-family='"DejaVu Sans","Liberation Sans",sans-serif' font-size="28.2" text-anchor="middle" fill="#000">40</text>
<text x="1389.69" y="733.9" font-family='"DejaVu Sans","Liberation Sans",sans-serif' font-size="28.2" text-anchor="middle" fill="#000">60</text>
<text x="1510.15" y="733.9" font-family='"DejaVu Sans","Liberation Sans",sans-serif' font-size="28.2" text-anchor="middle" fill="#000">80</text>
<text x="1005.1" y="105.01" font-family='"DejaVu Sans","Liberation Sans",sans-serif' font-size="28.2" text-anchor="end" fill="#000">0</text>
<text x="1005.1" y="225.39" font-family='"DejaVu Sans","Liberation Sans",sans-serif' font-size="28.2" text-anchor="end" fill="#000">20</text>
<text x="1005.1" y="345.77" font-family='"DejaVu Sans","Liberation Sans",sans-serif' font-size="28.2" text-anchor="end" fill="#000">40</text>
<text x="1005.1" y="466.15" font-family='"DejaVu Sans","Liberation Sans",sans-serif' font-size="28.2" text-anchor="end" fill="#000">60</text>
<text x="1005.1" y="586.53" font-family='"DejaVu Sans","Liberation Sans",sans-serif' font-size="28.2" text-anchor="end" fill="#000">80</text>
<text x="1326.45" y="773.6" font-family='"DejaVu Sans","Liberation Sans",sans-serif' font-size="28.2" text-anchor="middle" fill="#000">Pixel Col</text>
<text transform="translate(951,394.15) rotate(-90)" font-family='"DejaVu Sans","Liberation Sans",sans-serif' font-size="28.2" text-anchor="middle" fill="#000">Pixel Row</text>
<text x="1326.45" y="73.9" font-family='"DejaVu Sans","Liberation Sans",sans-serif' font-size="34.1" text-anchor="middle" fill="#000">Elevation Condition</text>
<rect x="1699.4" y="91.7" width="31" height="300.95" fill="#000"/>
<rect x="1699.4" y="91.7" width="31" height="601.9" fill="none" stroke="#000" stroke-width="2.3"/>
<text transform="translate(1762.3,254) rotate(-90)" font-family='"DejaVu Sans","Liberation Sans",sans-serif' font-size="28.2" text-anchor="middle" fill="#000">Satisfied</text>
<text transform="translate(1762.3,549.7) rotate(-90)" font-family='"DejaVu Sans","Liberation Sans",sans-serif' font-size="28.2" text-anchor="middle" fill="#000">Not Satisfied</text>
<text x="933.3" y="41.8" font-family='"Liberation Sans","DejaVu Sans",sans-serif' font-size="34" text-anchor="start" font-weight="bold" fill="#000">D</text>
<clipPath id="c1"><rect x="105.75" y="905.4" width="602.45" height="602.6"/></clipPath>
<g clip-path="url(#c1)"><rect x="105.75" y="905.4" width="602.45" height="602.6" fill="#00ff80"/>
<g transform="translate(102.71,902.36) scale(6.08535,6.08687)" shape-rendering="crispEdges">
<path fill="#00fc81" d="M99 18h1v1h-1zM98 19h1v1h-1zM97 20h1v1h-1zM96 21h1v1h-1zM95 22h1v1h-1zM94 23h1v1h-1zM93 24h1v1h-1zM92 25h1v1h-1zM91 26h1v1h-1zM90 27h1v1h-1zM89 28h1v1h-1zM88 29h1v1h-1zM87 30h1v1h-1zM86 31h1v1h-1zM85 32h1v1h-1zM84 33h1v1h-1zM83 34h1v1h-1zM82 35h1v1h-1zM81 36h1v1h-1zM80 37h1v1h-1zM79 38h1v1h-1zM78 39h1v1h-1zM77 40h1v1h-1zM76 41h1v1h-1zM75 42h1v1h-1zM74 43h1v1h-1zM73 44h1v1h-1zM72 45h1v1h-1zM71 46h1v1h-1zM70 47h1v1h-1zM69 48h1v1h-1zM68 49h1v1h-1zM67 50h1v1h-1zM66 51h1v1h-1zM65 52h1v1h-1zM64 53h1v1h-1zM63 54h1v1h-1zM62 55h1v1h-1zM61 56h1v1h-1zM60 57h1v1h-1zM57 60h1v1h-1zM56 61h1v1h-1zM55 62h1v1h-1zM54 63h1v1h-1zM53 64h1v1h-1zM52 65h1v1h-1zM51 66h1v1h-1zM50 67h1v1h-1zM49 68h1v1h-1zM48 69h1v1h-1zM47 70h1v1h-1zM46 71h1v1h-1zM45 72h1v1h-1zM44 73h1v1h-1zM43 74h1v1h-1zM42 75h1v1h-1zM41 76h1v1h-1zM40 77h1v1h-1zM39 78h1v1h-1zM38 79h1v1h-1zM37 80h1v1h-1zM36 81h1v1h-1zM35 82h1v1h-1zM34 83h1v1h-1zM33 84h1v1h-1zM32 85h1v1h-1zM31 86h1v1h-1zM30 87h1v1h-1zM29 88h1v1h-1zM28 89h1v1h-1zM27 90h1v1h-1zM26 91h1v1h-1zM25 92h1v1h-1zM24 93h1v1h-1zM23 94h1v1h-1zM22 95h1v1h-1zM21 96h1v1h-1zM20 97h1v1h-1zM19 98h1v1h-1zM18 99h1v1h-1z"/><path fill="#00fa82" d="M99 19h1v1h-1zM98 20h1v1h-1zM97 21h1v1h-1zM96 22h1v1h-1zM95 23h1v1h-1zM94 24h1v1h-1zM93 25h1v1h-1zM92 26h1v1h-1zM91 27h1v1h-1zM90 28h1v1h-1zM89 29h1v1h-1zM88 30h1v1h-1zM87 31h1v1h-1zM86 32h1v1h-1zM85 33h1v1h-1zM84 34h1v1h-1zM83 35h1v1h-1zM82 36h1v1h-1zM81 37h1v1h-1zM80 38h1v1h-1zM79 39h1v1h-1zM78 40h1v1h-1zM77 41h1v1h-1zM76 42h1v1h-1zM75 43h1v1h-1zM74 44h1v1h-1zM73 45h1v1h-1zM72 46h1v1h-1zM71 47h1v1h-1zM70 48h1v1h-1zM69 49h1v1h-1zM68 50h1v1h-1zM67 51h1v1h-1zM66 52h1v1h-1zM65 53h1v1h-1zM64 54h1v1h-1zM63 55h1v1h-1zM62 56h1v1h-1zM61 57h1v1h-1zM57 61h1v1h-1zM56 62h1v1h-1zM55 63h1v1h-1zM54 64h1v1h-1zM53 65h1v1h-1zM52 66h1v1h-1zM51 67h1v1h-1zM50 68h1v1h-1zM49 69h1v1h-1zM48 70h1v1h-1zM47 71h1v1h-1zM46 72h1v1h-1zM45 73h1v1h-1zM44 74h1v1h-1zM43 75h1v1h-1zM42 76h1v1h-1zM41 77h1v1h-1zM40 78h1v1h-1zM39 79h1v1h-1zM38 80h1v1h-1zM37 81h1v1h-1zM36 82h1v1h-1zM35 83h1v1h-1zM34 84h1v1h-1zM33 85h1v1h-1zM32 86h1v1h-1zM31 87h1v1h-1zM30 88h1v1h-1zM29 89h1v1h-1zM28 90h1v1h-1zM27 91h1v1h-1zM26 92h1v1h-1zM25 93h1v1h-1zM24 94h1v1h-1zM23 95h1v1h-1zM22 96h1v1h-1zM21 97h1v1h-1zM20 98h1v1h-1zM19 99h1v1h-1z"/><path fill="#00f784" d="M99 20h1v1h-1zM98 21h1v1h-1zM97 22h1v1h-1zM96 23h1v1h-1zM95 24h1v1h-1zM94 25h1v1h-1zM93 26h1v1h-1zM92 27h1v1h-1zM91 28h1v1h-1zM90 29h1v1h-1zM89 30h1v1h-1zM88 31h1v1h-1zM87 32h1v1h-1zM86 33h1v1h-1zM85 34h1v1h-1zM84 35h1v1h-1zM83 36h1v1h-1zM82 37h1v1h-1zM81 38h1v1h-1zM80 39h1v1h-1zM79 40h1v1h-1zM78 41h1v1h-1zM77 42h1v1h-1zM76 43h1v1h-1zM75 44h1v1h-1zM74 45h1v1h-1zM73 46h1v1h-1zM72 47h1v1h-1zM71 48h1v1h-1zM70 49h1v1h-1zM69 50h1v1h-1zM68 51h1v1h-1zM67 52h1v1h-1zM66 53h1v1h-1zM65 54h1v1h-1zM64 55h1v1h-1zM63 56h1v1h-1zM62 57h1v1h-1zM61 58h1v1h-1zM58 61h1v1h-1zM57 62h1v1h-1zM56 63h1v1h-1zM55 64h1v1h-1zM54 65h1v1h-1zM53 66h1v1h-1zM52 67h1v1h-1zM51 68h1v1h-1zM50 69h1v1h-1zM49 70h1v1h-1zM48 71h1v1h-1zM47 72h1v1h-1zM46 73h1v1h-1zM45 74h1v1h-1zM44 75h1v1h-1zM43 76h1v1h-1zM42 77h1v1h-1zM41 78h1v1h-1zM40 79h1v1h-1zM39 80h1v1h-1zM38 81h1v1h-1zM37 82h1v1h-1zM36 83h1v1h-1zM35 84h1v1h-1zM34 85h1v1h-1zM33 86h1v1h-1zM32 87h1v1h-1zM31 88h1v1h-1zM30 89h1v1h-1zM29 90h1v1h-1zM28 91h1v1h-1zM27 92h1v1h-1zM26 93h1v1h-1zM25 94h1v1h-1zM24 95h1v1h-1zM23 96h1v1h-1zM22 97h1v1h-1zM21 98h1v1h-1zM20 99h1v1h-1z"/><path fill="#00f485" d="M99 21h1v1h-1zM98 22h1v1h-1zM97 23h1v1h-1zM96 24h1v1h-1zM95 25h1v1h-1zM94 26h1v1h-1zM93 27h1v1h-1zM92 28h1v1h-1zM91 29h1v1h-1zM90 30h1v1h-1zM89 31h1v1h-1zM88 32h1v1h-1zM87 33h1v1h-1zM86 34h1v1h-1zM85 35h1v1h-1zM84 36h1v1h-1zM83 37h1v1h-1zM82 38h1v1h-1zM81 39h1v1h-1zM80 40h1v1h-1zM79 41h1v1h-1zM78 42h1v1h-1zM77 43h1v1h-1zM76 44h1v1h-1zM75 45h1v1h-1zM74 46h1v1h-1zM73 47h1v1h-1zM72 48h1v1h-1zM71 49h1v1h-1zM70 50h1v1h-1zM69 51h1v1h-1zM68 52h1v1h-1zM67 53h1v1h-1zM66 54h1v1h-1zM65 55h1v1h-1zM64 56h1v1h-1zM63 57h1v1h-1zM62 58h1v1h-1zM58 62h1v1h-1zM57 63h1v1h-1zM56 64h1v1h-1zM55 65h1v1h-1zM54 66h1v1h-1zM53 67h1v1h-1zM52 68h1v1h-1zM51 69h1v1h-1zM50 70h1v1h-1zM49 71h1v1h-1zM48 72h1v1h-1zM47 73h1v1h-1zM46 74h1v1h-1zM45 75h1v1h-1zM44 76h1v1h-1zM43 77h1v1h-1zM42 78h1v1h-1zM41 79h1v1h-1zM40 80h1v1h-1zM39 81h1v1h-1zM38 82h1v1h-1zM37 83h1v1h-1zM36 84h1v1h-1zM35 85h1v1h-1zM34 86h1v1h-1zM33 87h1v1h-1zM32 88h1v1h-1zM31 89h1v1h-1zM30 90h1v1h-1zM29 91h1v1h-1zM28 92h1v1h-1zM27 93h1v1h-1zM26 94h1v1h-1zM25 95h1v1h-1zM24 96h1v1h-1zM23 97h1v1h-1zM22 98h1v1h-1zM21 99h1v1h-1z"/><path fill="#00f286" d="M99 22h1v1h-1zM98 23h1v1h-1zM97 24h1v1h-1zM96 25h1v1h-1zM95 26h1v1h-1zM94 27h1v1h-1zM93 28h1v1h-1zM92 29h1v1h-1zM91 30h1v1h-1zM90 31h1v1h-1zM89 32h1v1h-1zM88 33h1v1h-1zM87 34h1v1h-1zM86 35h1v1h-1zM85 36h1v1h-1zM84 37h1v1h-1zM83 38h1v1h-1zM82 39h1v1h-1zM81 40h1v1h-1zM80 41h1v1h-1zM79 42h1v1h-1zM78 43h1v1h-1zM77 44h1v1h-1zM76 45h1v1h-1zM75 46h1v1h-1zM74 47h1v1h-1zM73 48h1v1h-1zM72 49h1v1h-1zM71 50h1v1h-1zM70 51h1v1h-1zM69 52h1v1h-1zM68 53h1v1h-1zM67 54h1v1h-1zM66 55h1v1h-1zM65 56h1v1h-1zM64 57h1v1h-1zM63 58h1v1h-1zM62 59h1v1h-1zM59 62h1v1h-1zM58 63h1v1h-1zM57 64h1v1h-1zM56 65h1v1h-1zM55 66h1v1h-1zM54 67h1v1h-1zM53 68h1v1h-1zM52 69h1v1h-1zM51 70h1v1h-1zM50 71h1v1h-1zM49 72h1v1h-1zM48 73h1v1h-1zM47 74h1v1h-1zM46 75h1v1h-1zM45 76h1v1h-1zM44 77h1v1h-1zM43 78h1v1h-1zM42 79h1v1h-1zM41 80h1v1h-1zM40 81h1v1h-1zM39 82h1v1h-1zM38 83h1v1h-1zM37 84h1v1h-1zM36 85h1v1h-1zM35 86h1v1h-1zM34 87h1v1h-1zM33 88h1v1h-1zM32 89h1v1h-1zM31 90h1v1h-1zM30 91h1v1h-1zM29 92h1v1h-1zM28 93h1v1h-1zM27 94h1v1h-1zM26 95h1v1h-1zM25 96h1v1h-1zM24 97h1v1h-1zM23 98h1v1h-1zM22 99h1v1h-1z"/><path fill="#00ef88" d="M99 23h1v1h-1zM98 24h1v1h-1zM97 25h1v1h-1zM96 26h1v1h-1zM95 27h1v1h-1zM94 28h1v1h-1zM93 29h1v1h-1zM92 30h1v1h-1zM91 31h1v1h-1zM90 32h1v1h-1zM89 33h1v1h-1zM88 34h1v1h-1zM87 35h1v1h-1zM86 36h1v1h-1zM85 37h1v1h-1zM84 38h1v1h-1zM83 39h1v1h-1zM82 40h1v1h-1zM81 41h1v1h-1zM80 42h1v1h-1zM79 43h1v1h-1zM78 44h1v1h-1zM77 45h1v1h-1zM76 46h1v1h-1zM75 47h1v1h-1zM74 48h1v1h-1zM73 49h1v1h-1zM72 50h1v1h-1zM71 51h1v1h-1zM70 52h1v1h-1zM69 53h1v1h-1zM68 54h1v1h-1zM67 55h1v1h-1zM66 56h1v1h-1zM65 57h1v1h-1zM64 58h1v1h-1zM63 59h1v1h-1zM59 63h1v1h-1zM58 64h1v1h-1zM57 65h1v1h-1zM56 66h1v1h-1zM55 67h1v1h-1zM54 68h1v1h-1zM53 69h1v1h-1zM52 70h1v1h-1zM51 71h1v1h-1zM50 72h1v1h-1zM49 73h1v1h-1zM48 74h1v1h-1zM47 75h1v1h-1zM46 76h1v1h-1zM45 77h1v1h-1zM44 78h1v1h-1zM43 79h1v1h-1zM42 80h1v1h-1zM41 81h1v1h-1zM40 82h1v1h-1zM39 83h1v1h-1zM38 84h1v1h-1zM37 85h1v1h-1zM36 86h1v1h-1zM35 87h1v1h-1zM34 88h1v1h-1zM33 89h1v1h-1zM32 90h1v1h-1zM31 91h1v1h-1zM30 92h1v1h-1zM29 93h1v1h-1zM28 94h1v1h-1zM27 95h1v1h-1zM26 96h1v1h-1zM25 97h1v1h-1zM24 98h1v1h-1zM23 99h1v1h-1z"/><path fill="#00ec89" d="M99 24h1v1h-1zM98 25h1v1h-1zM97 26h1v1h-1zM96 27h1v1h-1zM95 28h1v1h-1zM94 29h1v1h-1zM93 30h1v1h-1zM92 31h1v1h-1zM91 32h1v1h-1zM90 33h1v1h-1zM89 34h1v1h-1zM88 35h1v1h-1zM87 36h1v1h-1zM86 37h1v1h-1zM85 38h1v1h-1zM84 39h1v1h-1zM83 40h1v1h-1zM82 41h1v1h-1zM81 42h1v1h-1zM80 43h1v1h-1zM79 44h1v1h-1zM78 45h1v1h-1zM77 46h1v1h-1zM76 47h1v1h-1zM75 48h1v1h-1zM74 49h1v1h-1zM73 50h1v1h-1zM72 51h1v1h-1zM71 52h1v1h-1zM70 53h1v1h-1zM69 54h1v1h-1zM68 55h1v1h-1zM67 56h1v1h-1zM66 57h1v1h-1zM65 58h1v1h-1zM64 59h1v1h-1zM63 60h1v1h-1zM60 63h1v1h-1zM59 64h1v1h-1zM58 65h1v1h-1zM57 66h1v1h-1zM56 67h1v1h-1zM55 68h1v1h-1zM54 69h1v1h-1zM53 70h1v1h-1zM52 71h1v1h-1zM51 72h1v1h-1zM50 73h1v1h-1zM49 74h1v1h-1zM48 75h1v1h-1zM47 76h1v1h-1zM46 77h1v1h-1zM45 78h1v1h-1zM44 79h1v1h-1zM43 80h1v1h-1zM42 81h1v1h-1zM41 82h1v1h-1zM40 83h1v1h-1zM39 84h1v1h-1zM38 85h1v1h-1zM37 86h1v1h-1zM36 87h1v1h-1zM35 88h1v1h-1zM34 89h1v1h-1zM33 90h1v1h-1zM32 91h1v1h-1zM31 92h1v1h-1zM30 93h1v1h-1zM29 94h1v1h-1zM28 95h1v1h-1zM27 96h1v1h-1zM26 97h1v1h-1zM25 98h1v1h-1zM24 99h1v1h-1z"/><path fill="#00ea8a" d="M99 25h1v1h-1zM98 26h1v1h-1zM97 27h1v1h-1zM96 28h1v1h-1zM95 29h1v1h-1zM94 30h1v1h-1zM93 31h1v1h-1zM92 32h1v1h-1zM91 33h1v1h-1zM90 34h1v1h-1zM89 35h1v1h-1zM88 36h1v1h-1zM87 37h1v1h-1zM86 38h1v1h-1zM85 39h1v1h-1zM84 40h1v1h-1zM83 41h1v1h-1zM82 42h1v1h-1zM81 43h1v1h-1zM80 44h1v1h-1zM79 45h1v1h-1zM78 46h1v1h-1zM77 47h1v1h-1zM76 48h1v1h-1zM75 49h1v1h-1zM74 50h1v1h-1zM73 51h1v1h-1zM72 52h1v1h-1zM71 53h1v1h-1zM70 54h1v1h-1zM69 55h1v1h-1zM68 56h1v1h-1zM67 57h1v1h-1zM66 58h1v1h-1zM65 59h1v1h-1zM64 60h1v1h-1zM60 64h1v1h-1zM59 65h1v1h-1zM58 66h1v1h-1zM57 67h1v1h-1zM56 68h1v1h-1zM55 69h1v1h-1zM54 70h1v1h-1zM53 71h1v1h-1zM52 72h1v1h-1zM51 73h1v1h-1zM50 74h1v1h-1zM49 75h1v1h-1zM48 76h1v1h-1zM47 77h1v1h-1zM46 78h1v1h-1zM45 79h1v1h-1zM44 80h1v1h-1zM43 81h1v1h-1zM42 82h1v1h-1zM41 83h1v1h-1zM40 84h1v1h-1zM39 85h1v1h-1zM38 86h1v1h-1zM37 87h1v1h-1zM36 88h1v1h-1zM35 89h1v1h-1zM34 90h1v1h-1zM33 91h1v1h-1zM32 92h1v1h-1zM31 93h1v1h-1zM30 94h1v1h-1zM29 95h1v1h-1zM28 96h1v1h-1zM27 97h1v1h-1zM26 98h1v1h-1zM25 99h1v1h-1z"/><path fill="#00e78c" d="M99 26h1v1h-1zM98 27h1v1h-1zM97 28h1v1h-1zM96 29h1v1h-1zM95 30h1v1h-1zM94 31h1v1h-1zM93 32h1v1h-1zM92 33h1v1h-1zM91 34h1v1h-1zM90 35h1v1h-1zM89 36h1v1h-1zM88 37h1v1h-1zM87 38h1v1h-1zM86 39h1v1h-1zM85 40h1v1h-1zM84 41h1v1h-1zM83 42h1v1h-1zM82 43h1v1h-1zM81 44h1v1h-1zM80 45h1v1h-1zM79 46h1v1h-1zM78 47h1v1h-1zM77 48h1v1h-1zM76 49h1v1h-1zM75 50h1v1h-1zM74 51h1v1h-1zM73 52h1v1h-1zM72 53h1v1h-1zM71 54h1v1h-1zM70 55h1v1h-1zM69 56h1v1h-1zM68 57h1v1h-1zM67 58h1v1h-1zM66 59h1v1h-1zM65 60h1v1h-1zM64 61h1v1h-1zM61 64h1v1h-1zM60 65h1v1h-1zM59 66h1v1h-1zM58 67h1v1h-1zM57 68h1v1h-1zM56 69h1v1h-1zM55 70h1v1h-1zM54 71h1v1h-1zM53 72h1v1h-1zM52 73h1v1h-1zM51 74h1v1h-1zM50 75h1v1h-1zM49 76h1v1h-1zM48 77h1v1h-1zM47 78h1v1h-1zM46 79h1v1h-1zM45 80h1v1h-1zM44 81h1v1h-1zM43 82h1v1h-1zM42 83h1v1h-1zM41 84h1v1h-1zM40 85h1v1h-1zM39 86h1v1h-1zM38 87h1v1h-1zM37 88h1v1h-1zM36 89h1v1h-1zM35 90h1v1h-1zM34 91h1v1h-1zM33 92h1v1h-1zM32 93h1v1h-1zM31 94h1v1h-1zM30 95h1v1h-1zM29 96h1v1h-1zM28 97h1v1h-1zM27 98h1v1h-1zM26 99h1v1h-1z"/><path fill="#00e48d" d="M99 27h1v1h-1zM98 28h1v1h-1zM97 29h1v1h-1zM96 30h1v1h-1zM95 31h1v1h-1zM94 32h1v1h-1zM93 33h1v1h-1zM92 34h1v1h-1zM91 35h1v1h-1zM90 36h1v1h-1zM89 37h1v1h-1zM88 38h1v1h-1zM87 39h1v1h-1zM86 40h1v1h-1zM85 41h1v1h-1zM84 42h1v1h-1zM83 43h1v1h-1zM82 44h1v1h-1zM81 45h1v1h-1zM80 46h1v1h-1zM79 47h1v1h-1zM78 48h1v1h-1zM77 49h1v1h-1zM76 50h1v1h-1zM75 51h1v1h-1zM74 52h1v1h-1zM73 53h1v1h-1zM72 54h1v1h-1zM71 55h1v1h-1zM70 56h1v1h-1zM69 57h1v1h-1zM68 58h1v1h-1zM67 59h1v1h-1zM66 60h1v1h-1zM65 61h1v1h-1zM61 65h1v1h-1zM60 66h1v1h-1zM59 67h1v1h-1zM58 68h1v1h-1zM57 69h1v1h-1zM56 70h1v1h-1zM55 71h1v1h-1zM54 72h1v1h-1zM53 73h1v1h-1zM52 74h1v1h-1zM51 75h1v1h-1zM50 76h1v1h-1zM49 77h1v1h-1zM48 78h1v1h-1zM47 79h1v1h-1zM46 80h1v1h-1zM45 81h1v1h-1zM44 82h1v1h-1zM43 83h1v1h-1zM42 84h1v1h-1zM41 85h1v1h-1zM40 86h1v1h-1zM39 87h1v1h-1zM38 88h1v1h-1zM37 89h1v1h-1zM36 90h1v1h-1zM35 91h1v1h-1zM34 92h1v1h-1zM33 93h1v1h-1zM32 94h1v1h-1zM31 95h1v1h-1zM30 96h1v1h-1zM29 97h1v1h-1zM28 98h1v1h-1zM27 99h1v1h-1z"/><path fill="#00e28e" d="M99 28h1v1h-1zM98 29h1v1h-1zM97 30h1v1h-1zM96 31h1v1h-1zM95 32h1v1h-1zM94 33h1v1h-1zM93 34h1v1h-1zM92 35h1v1h-1zM91 36h1v1h-1zM90 37h1v1h-1zM89 38h1v1h-1zM88 39h1v1h-1zM87 40h1v1h-1zM86 41h1v1h-1zM85 42h1v1h-1zM84 43h1v1h-1zM83 44h1v1h-1zM82 45h1v1h-1zM81 46h1v1h-1zM80 47h1v1h-1zM79 48h1v1h-1zM78 49h1v1h-1zM77 50h1v1h-1zM76 51h1v1h-1zM75 52h1v1h-1zM74 53h1v1h-1zM73 54h1v1h-1zM72 55h1v1h-1zM71 56h1v1h-1zM70 57h1v1h-1zM69 58h1v1h-1zM68 59h1v1h-1zM67 60h1v1h-1zM66 61h1v1h-1zM65 62h1v1h-1zM62 65h1v1h-1zM61 66h1v1h-1zM60 67h1v1h-1zM59 68h1v1h-1zM58 69h1v1h-1zM57 70h1v1h-1zM56 71h1v1h-1zM55 72h1v1h-1zM54 73h1v1h-1zM53 74h1v1h-1zM52 75h1v1h-1zM51 76h1v1h-1zM50 77h1v1h-1zM49 78h1v1h-1zM48 79h1v1h-1zM47 80h1v1h-1zM46 81h1v1h-1zM45 82h1v1h-1zM44 83h1v1h-1zM43 84h1v1h-1zM42 85h1v1h-1zM41 86h1v1h-1zM40 87h1v1h-1zM39 88h1v1h-1zM38 89h1v1h-1zM37 90h1v1h-1zM36 91h1v1h-1zM35 92h1v1h-1zM34 93h1v1h-1zM33 94h1v1h-1zM32 95h1v1h-1zM31 96h1v1h-1zM30 97h1v1h-1zM29 98h1v1h-1zM28 99h1v1h-1z"/><path fill="#00df90" d="M99 29h1v1h-1zM98 30h1v1h-1zM97 31h1v1h-1zM96 32h1v1h-1zM95 33h1v1h-1zM94 34h1v1h-1zM93 35h1v1h-1zM92 36h1v1h-1zM91 37h1v1h-1zM90 38h1v1h-1zM89 39h1v1h-1zM88 40h1v1h-1zM87 41h1v1h-1zM86 42h1v1h-1zM85 43h1v1h-1zM84 44h1v1h-1zM83 45h1v1h-1zM82 46h1v1h-1zM81 47h1v1h-1zM80 48h1v1h-1zM79 49h1v1h-1zM78 50h1v1h-1zM77 51h1v1h-1zM76 52h1v1h-1zM75 53h1v1h-1zM74 54h1v1h-1zM73 55h1v1h-1zM72 56h1v1h-1zM71 57h1v1h-1zM70 58h1v1h-1zM69 59h1v1h-1zM68 60h1v1h-1zM67 61h1v1h-1zM66 62h1v1h-1zM62 66h1v1h-1zM61 67h1v1h-1zM60 68h1v1h-1zM59 69h1v1h-1zM58 70h1v1h-1zM57 71h1v1h-1zM56 72h1v1h-1zM55 73h1v1h-1zM54 74h1v1h-1zM53 75h1v1h-1zM52 76h1v1h-1zM51 77h1v1h-1zM50 78h1v1h-1zM49 79h1v1h-1zM48 80h1v1h-1zM47 81h1v1h-1zM46 82h1v1h-1zM45 83h1v1h-1zM44 84h1v1h-1zM43 85h1v1h-1zM42 86h1v1h-1zM41 87h1v1h-1zM40 88h1v1h-1zM39 89h1v1h-1zM38 90h1v1h-1zM37 91h1v1h-1zM36 92h1v1h-1zM35 93h1v1h-1zM34 94h1v1h-1zM33 95h1v1h-1zM32 96h1v1h-1zM31 97h1v1h-1zM30 98h1v1h-1zM29 99h1v1h-1z"/><path fill="#00dc91" d="M99 30h1v1h-1zM98 31h1v1h-1zM97 32h1v1h-1zM96 33h1v1h-1zM95 34h1v1h-1zM94 35h1v1h-1zM93 36h1v1h-1zM92 37h1v1h-1zM91 38h1v1h-1zM90 39h1v1h-1zM89 40h1v1h-1zM88 41h1v1h-1zM87 42h1v1h-1zM86 43h1v1h-1zM85 44h1v1h-1zM84 45h1v1h-1zM83 46h1v1h-1zM82 47h1v1h-1zM81 48h1v1h-1zM80 49h1v1h-1zM79 50h1v1h-1zM78 51h1v1h-1zM77 52h1v1h-1zM76 53h1v1h-1zM75 54h1v1h-1zM74 55h1v1h-1zM73 56h1v1h-1zM72 57h1v1h-1zM71 58h1v1h-1zM70 59h1v1h-1zM69 60h1v1h-1zM68 61h1v1h-1zM67 62h1v1h-1zM66 63h1v1h-1zM63 66h1v1h-1zM62 67h1v1h-1zM61 68h1v1h-1zM60 69h1v1h-1zM59 70h1v1h-1zM58 71h1v1h-1zM57 72h1v1h-1zM56 73h1v1h-1zM55 74h1v1h-1zM54 75h1v1h-1zM53 76h1v1h-1zM52 77h1v1h-1zM51 78h1v1h-1zM50 79h1v1h-1zM49 80h1v1h-1zM48 81h1v1h-1zM47 82h1v1h-1zM46 83h1v1h-1zM45 84h1v1h-1zM44 85h1v1h-1zM43 86h1v1h-1zM42 87h1v1h-1zM41 88h1v1h-1zM40 89h1v1h-1zM39 90h1v1h-1zM38 91h1v1h-1zM37 92h1v1h-1zM36 93h1v1h-1zM35 94h1v1h-1zM34 95h1v1h-1zM33 96h1v1h-1zM32 97h1v1h-1zM31 98h1v1h-1zM30 99h1v1h-1z"/><path fill="#00da92" d="M99 31h1v1h-1zM98 32h1v1h-1zM97 33h1v1h-1zM96 34h1v1h-1zM95 35h1v1h-1zM94 36h1v1h-1zM93 37h1v1h-1zM92 38h1v1h-1zM91 39h1v1h-1zM90 40h1v1h-1zM89 41h1v1h-1zM88 42h1v1h-1zM87 43h1v1h-1zM86 44h1v1h-1zM85 45h1v1h-1zM84 46h1v1h-1zM83 47h1v1h-1zM82 48h1v1h-1zM81 49h1v1h-1zM80 50h1v1h-1zM79 51h1v1h-1zM78 52h1v1h-1zM77 53h1v1h-1zM76 54h1v1h-1zM75 55h1v1h-1zM74 56h1v1h-1zM73 57h1v1h-1zM72 58h1v1h-1zM71 59h1v1h-1zM70 60h1v1h-1zM69 61h1v1h-1zM68 62h1v1h-1zM67 63h1v1h-1zM63 67h1v1h-1zM62 68h1v1h-1zM61 69h1v1h-1zM60 70h1v1h-1zM59 71h1v1h-1zM58 72h1v1h-1zM57 73h1v1h-1zM56 74h1v1h-1zM55 75h1v1h-1zM54 76h1v1h-1zM53 77h1v1h-1zM52 78h1v1h-1zM51 79h1v1h-1zM50 80h1v1h-1zM49 81h1v1h-1zM48 82h1v1h-1zM47 83h1v1h-1zM46 84h1v1h-1zM45 85h1v1h-1zM44 86h1v1h-1zM43 87h1v1h-1zM42 88h1v1h-1zM41 89h1v1h-1zM40 90h1v1h-1zM39 91h1v1h-1zM38 92h1v1h-1zM37 93h1v1h-1zM36 94h1v1h-1zM35 95h1v1h-1zM34 96h1v1h-1zM33 97h1v1h-1zM32 98h1v1h-1zM31 99h1v1h-1z"/><path fill="#00d793" d="M99 32h1v1h-1zM98 33h1v1h-1zM97 34h1v1h-1zM96 35h1v1h-1zM95 36h1v1h-1zM94 37h1v1h-1zM93 38h1v1h-1zM92 39h1v1h-1zM91 40h1v1h-1zM90 41h1v1h-1zM89 42h1v1h-1zM88 43h1v1h-1zM87 44h1v1h-1zM86 45h1v1h-1zM85 46h1v1h-1zM84 47h1v1h-1zM83 48h1v1h-1zM82 49h1v1h-1zM81 50h1v1h-1zM80 51h1v1h-1zM79 52h1v1h-1zM78 53h1v1h-1zM77 54h1v1h-1zM76 55h1v1h-1zM75 56h1v1h-1zM74 57h1v1h-1zM73 58h1v1h-1zM72 59h1v1h-1zM71 60h1v1h-1zM70 61h1v1h-1zM69 62h1v1h-1zM68 63h1v1h-1zM67 64h1v1h-1zM64 67h1v1h-1zM63 68h1v1h-1zM62 69h1v1h-1zM61 70h1v1h-1zM60 71h1v1h-1zM59 72h1v1h-1zM58 73h1v1h-1zM57 74h1v1h-1zM56 75h1v1h-1zM55 76h1v1h-1zM54 77h1v1h-1zM53 78h1v1h-1zM52 79h1v1h-1zM51 80h1v1h-1zM50 81h1v1h-1zM49 82h1v1h-1zM48 83h1v1h-1zM47 84h1v1h-1zM46 85h1v1h-1zM45 86h1v1h-1zM44 87h1v1h-1zM43 88h1v1h-1zM42 89h1v1h-1zM41 90h1v1h-1zM40 91h1v1h-1zM39 92h1v1h-1zM38 93h1v1h-1zM37 94h1v1h-1zM36 95h1v1h-1zM35 96h1v1h-1zM34 97h1v1h-1zM33 98h1v1h-1zM32 99h1v1h-1z"/><path fill="#00d495" d="M99 33h1v1h-1zM98 34h1v1h-1zM97 35h1v1h-1zM96 36h1v1h-1zM95 37h1v1h-1zM94 38h1v1h-1zM93 39h1v1h-1zM92 40h1v1h-1zM91 41h1v1h-1zM90 42h1v1h-1zM89 43h1v1h-1zM88 44h1v1h-1zM87 45h1v1h-1zM86 46h1v1h-1zM85 47h1v1h-1zM84 48h1v1h-1zM83 49h1v1h-1zM82 50h1v1h-1zM81 51h1v1h-1zM80 52h1v1h-1zM79 53h1v1h-1zM78 54h1v1h-1zM77 55h1v1h-1zM76 56h1v1h-1zM75 57h1v1h-1zM74 58h1v1h-1zM73 59h1v1h-1zM72 60h1v1h-1zM71 61h1v1h-1zM70 62h1v1h-1zM69 63h1v1h-1zM68 64h1v1h-1zM64 68h1v1h-1zM63 69h1v1h-1zM62 70h1v1h-1zM61 71h1v1h-1zM60 72h1v1h-1zM59 73h1v1h-1zM58 74h1v1h-1zM57 75h1v1h-1zM56 76h1v1h-1zM55 77h1v1h-1zM54 78h1v1h-1zM53 79h1v1h-1zM52 80h1v1h-1zM51 81h1v1h-1zM50 82h1v1h-1zM49 83h1v1h-1zM48 84h1v1h-1zM47 85h1v1h-1zM46 86h1v1h-1zM45 87h1v1h-1zM44 88h1v1h-1zM43 89h1v1h-1zM42 90h1v1h-1zM41 91h1v1h-1zM40 92h1v1h-1zM39 93h1v1h-1zM38 94h1v1h-1zM37 95h1v1h-1zM36 96h1v1h-1zM35 97h1v1h-1zM34 98h1v1h-1zM33 99h1v1h-1z"/><path fill="#00d296" d="M99 34h1v1h-1zM98 35h1v1h-1zM97 36h1v1h-1zM96 37h1v1h-1zM95 38h1v1h-1zM94 39h1v1h-1zM93 40h1v1h-1zM92 41h1v1h-1zM91 42h1v1h-1zM90 43h1v1h-1zM89 44h1v1h-1zM88 45h1v1h-1zM87 46h1v1h-1zM86 47h1v1h-1zM85 48h1v1h-1zM84 49h1v1h-1zM83 50h1v1h-1zM82 51h1v1h-1zM81 52h1v1h-1zM80 53h1v1h-1zM79 54h1v1h-1zM78 55h1v1h-1zM77 56h1v1h-1zM76 57h1v1h-1zM75 58h1v1h-1zM74 59h1v1h-1zM73 60h1v1h-1zM72 61h1v1h-1zM71 62h1v1h-1zM70 63h1v1h-1zM69 64h1v1h-1zM68 65h1v1h-1zM65 68h1v1h-1zM64 69h1v1h-1zM63 70h1v1h-1zM62 71h1v1h-1zM61 72h1v1h-1zM60 73h1v1h-1zM59 74h1v1h-1zM58 75h1v1h-1zM57 76h1v1h-1zM56 77h1v1h-1zM55 78h1v1h-1zM54 79h1v1h-1zM53 80h1v1h-1zM52 81h1v1h-1zM51 82h1v1h-1zM50 83h1v1h-1zM49 84h1v1h-1zM48 85h1v1h-1zM47 86h1v1h-1zM46 87h1v1h-1zM45 88h1v1h-1zM44 89h1v1h-1zM43 90h1v1h-1zM42 91h1v1h-1zM41 92h1v1h-1zM40 93h1v1h-1zM39 94h1v1h-1zM38 95h1v1h-1zM37 96h1v1h-1zM36 97h1v1h-1zM35 98h1v1h-1zM34 99h1v1h-1z"/><path fill="#00cf98" d="M99 35h1v1h-1zM98 36h1v1h-1zM97 37h1v1h-1zM96 38h1v1h-1zM95 39h1v1h-1zM94 40h1v1h-1zM93 41h1v1h-1zM92 42h1v1h-1zM91 43h1v1h-1zM90 44h1v1h-1zM89 45h1v1h-1zM88 46h1v1h-1zM87 47h1v1h-1zM86 48h1v1h-1zM85 49h1v1h-1zM84 50h1v1h-1zM83 51h1v1h-1zM82 52h1v1h-1zM81 53h1v1h-1zM80 54h1v1h-1zM79 55h1v1h-1zM78 56h1v1h-1zM77 57h1v1h-1zM76 58h1v1h-1zM75 59h1v1h-1zM74 60h1v1h-1zM73 61h1v1h-1zM72 62h1v1h-1zM71 63h1v1h-1zM70 64h1v1h-1zM69 65h1v1h-1zM65 69h1v1h-1zM64 70h1v1h-1zM63 71h1v1h-1zM62 72h1v1h-1zM61 73h1v1h-1zM60 74h1v1h-1zM59 75h1v1h-1zM58 76h1v1h-1zM57 77h1v1h-1zM56 78h1v1h-1zM55 79h1v1h-1zM54 80h1v1h-1zM53 81h1v1h-1zM52 82h1v1h-1zM51 83h1v1h-1zM50 84h1v1h-1zM49 85h1v1h-1zM48 86h1v1h-1zM47 87h1v1h-1zM46 88h1v1h-1zM45 89h1v1h-1zM44 90h1v1h-1zM43 91h1v1h-1zM42 92h1v1h-1zM41 93h1v1h-1zM40 94h1v1h-1zM39 95h1v1h-1zM38 96h1v1h-1zM37 97h1v1h-1zM36 98h1v1h-1zM35 99h1v1h-1z"/><path fill="#00cc99" d="M99 36h1v1h-1zM98 37h1v1h-1zM97 38h1v1h-1zM96 39h1v1h-1zM95 40h1v1h-1zM94 41h1v1h-1zM93 42h1v1h-1zM92 43h1v1h-1zM91 44h1v1h-1zM90 45h1v1h-1zM89 46h1v1h-1zM88 47h1v1h-1zM87 48h1v1h-1zM86 49h1v1h-1zM85 50h1v1h-1zM84 51h1v1h-1zM83 52h1v1h-1zM82 53h1v1h-1zM81 54h1v1h-1zM80 55h1v1h-1zM79 56h1v1h-1zM78 57h1v1h-1zM77 58h1v1h-1zM76 59h1v1h-1zM75 60h1v1h-1zM74 61h1v1h-1zM73 62h1v1h-1zM72 63h1v1h-1zM71 64h1v1h-1zM70 65h1v1h-1zM69 66h1v1h-1zM66 69h1v1h-1zM65 70h1v1h-1zM64 71h1v1h-1zM63 72h1v1h-1zM62 73h1v1h-1zM61 74h1v1h-1zM60 75h1v1h-1zM59 76h1v1h-1zM58 77h1v1h-1zM57 78h1v1h-1zM56 79h1v1h-1zM55 80h1v1h-1zM54 81h1v1h-1zM53 82h1v1h-1zM52 83h1v1h-1zM51 84h1v1h-1zM50 85h1v1h-1zM49 86h1v1h-1zM48 87h1v1h-1zM47 88h1v1h-1zM46 89h1v1h-1zM45 90h1v1h-1zM44 91h1v1h-1zM43 92h1v1h-1zM42 93h1v1h-1zM41 94h1v1h-1zM40 95h1v1h-1zM39 96h1v1h-1zM38 97h1v1h-1zM37 98h1v1h-1zM36 99h1v1h-1z"/><path fill="#00ca9a" d="M99 37h1v1h-1zM98 38h1v1h-1zM97 39h1v1h-1zM96 40h1v1h-1zM95 41h1v1h-1zM94 42h1v1h-1zM93 43h1v1h-1zM92 44h1v1h-1zM91 45h1v1h-1zM90 46h1v1h-1zM89 47h1v1h-1zM88 48h1v1h-1zM87 49h1v1h-1zM86 50h1v1h-1zM85 51h1v1h-1zM84 52h1v1h-1zM83 53h1v1h-1zM82 54h1v1h-1zM81 55h1v1h-1zM80 56h1v1h-1zM79 57h1v1h-1zM78 58h1v1h-1zM77 59h1v1h-1zM76 60h1v1h-1zM75 61h1v1h-1zM74 62h1v1h-1zM73 63h1v1h-1zM72 64h1v1h-1zM71 65h1v1h-1zM70 66h1v1h-1zM66 70h1v1h-1zM65 71h1v1h-1zM64 72h1v1h-1zM63 73h1v1h-1zM62 74h1v1h-1zM61 75h1v1h-1zM60 76h1v1h-1zM59 77h1v1h-1zM58 78h1v1h-1zM57 79h1v1h-1zM56 80h1v1h-1zM55 81h1v1h-1zM54 82h1v1h-1zM53 83h1v1h-1zM52 84h1v1h-1zM51 85h1v1h-1zM50 86h1v1h-1zM49 87h1v1h-1zM48 88h1v1h-1zM47 89h1v1h-1zM46 90h1v1h-1zM45 91h1v1h-1zM44 92h1v1h-1zM43 93h1v1h-1zM42 94h1v1h-1zM41 95h1v1h-1zM40 96h1v1h-1zM39 97h1v1h-1zM38 98h1v1h-1zM37 99h1v1h-1z"/><path fill="#00c79c" d="M99 38h1v1h-1zM98 39h1v1h-1zM97 40h1v1h-1zM96 41h1v1h-1zM95 42h1v1h-1zM94 43h1v1h-1zM93 44h1v1h-1zM92 45h1v1h-1zM91 46h1v1h-1zM90 47h1v1h-1zM89 48h1v1h-1zM88 49h1v1h-1zM87 50h1v1h-1zM86 51h1v1h-1zM85 52h1v1h-1zM84 53h1v1h-1zM83 54h1v1h-1zM82 55h1v1h-1zM81 56h1v1h-1zM80 57h1v1h-1zM79 58h1v1h-1zM78 59h1v1h-1zM77 60h1v1h-1zM76 61h1v1h-1zM75 62h1v1h-1zM74 63h1v1h-1zM73 64h1v1h-1zM72 65h1v1h-1zM71 66h1v1h-1zM70 67h1v1h-1zM67 70h1v1h-1zM66 71h1v1h-1zM65 72h1v1h-1zM64 73h1v1h-1zM63 74h1v1h-1zM62 75h1v1h-1zM61 76h1v1h-1zM60 77h1v1h-1zM59 78h1v1h-1zM58 79h1v1h-1zM57 80h1v1h-1zM56 81h1v1h-1zM55 82h1v1h-1zM54 83h1v1h-1zM53 84h1v1h-1zM52 85h1v1h-1zM51 86h1v1h-1zM50 87h1v1h-1zM49 88h1v1h-1zM48 89h1v1h-1zM47 90h1v1h-1zM46 91h1v1h-1zM45 92h1v1h-1zM44 93h1v1h-1zM43 94h1v1h-1zM42 95h1v1h-1zM41 96h1v1h-1zM40 97h1v1h-1zM39 98h1v1h-1zM38 99h1v1h-1z"/><path fill="#00c49d" d="M99 39h1v1h-1zM98 40h1v1h-1zM97 41h1v1h-1zM96 42h1v1h-1zM95 43h1v1h-1zM94 44h1v1h-1zM93 45h1v1h-1zM92 46h1v1h-1zM91 47h1v1h-1zM90 48h1v1h-1zM89 49h1v1h-1zM88 50h1v1h-1zM87 51h1v1h-1zM86 52h1v1h-1zM85 53h1v1h-1zM84 54h1v1h-1zM83 55h1v1h-1zM82 56h1v1h-1zM81 57h1v1h-1zM80 58h1v1h-1zM79 59h1v1h-1zM78 60h1v1h-1zM77 61h1v1h-1zM76 62h1v1h-1zM75 63h1v1h-1zM74 64h1v1h-1zM73 65h1v1h-1zM72 66h1v1h-1zM71 67h1v1h-1zM67 71h1v1h-1zM66 72h1v1h-1zM65 73h1v1h-1zM64 74h1v1h-1zM63 75h1v1h-1zM62 76h1v1h-1zM61 77h1v1h-1zM60 78h1v1h-1zM59 79h1v1h-1zM58 80h1v1h-1zM57 81h1v1h-1zM56 82h1v1h-1zM55 83h1v1h-1zM54 84h1v1h-1zM53 85h1v1h-1zM52 86h1v1h-1zM51 87h1v1h-1zM50 88h1v1h-1zM49 89h1v1h-1zM48 90h1v1h-1zM47 91h1v1h-1zM46 92h1v1h-1zM45 93h1v1h-1zM44 94h1v1h-1zM43 95h1v1h-1zM42 96h1v1h-1zM41 97h1v1h-1zM40 98h1v1h-1zM39 99h1v1h-1z"/><path fill="#00c29e" d="M99 40h1v1h-1zM98 41h1v1h-1zM97 42h1v1h-1zM96 43h1v1h-1zM95 44h1v1h-1zM94 45h1v1h-1zM93 46h1v1h-1zM92 47h1v1h-1zM91 48h1v1h-1zM90 49h1v1h-1zM89 50h1v1h-1zM88 51h1v1h-1zM87 52h1v1h-1zM86 53h1v1h-1zM85 54h1v1h-1zM84 55h1v1h-1zM83 56h1v1h-1zM82 57h1v1h-1zM81 58h1v1h-1zM80 59h1v1h-1zM79 60h1v1h-1zM78 61h1v1h-1zM77 62h1v1h-1zM76 63h1v1h-1zM75 64h1v1h-1zM74 65h1v1h-1zM73 66h1v1h-1zM72 67h1v1h-1zM71 68h1v1h-1zM68 71h1v1h-1zM67 72h1v1h-1zM66 73h1v1h-1zM65 74h1v1h-1zM64 75h1v1h-1zM63 76h1v1h-1zM62 77h1v1h-1zM61 78h1v1h-1zM60 79h1v1h-1zM59 80h1v1h-1zM58 81h1v1h-1zM57 82h1v1h-1zM56 83h1v1h-1zM55 84h1v1h-1zM54 85h1v1h-1zM53 86h1v1h-1zM52 87h1v1h-1zM51 88h1v1h-1zM50 89h1v1h-1zM49 90h1v1h-1zM48 91h1v1h-1zM47 92h1v1h-1zM46 93h1v1h-1zM45 94h1v1h-1zM44 95h1v1h-1zM43 96h1v1h-1zM42 97h1v1h-1zM41 98h1v1h-1zM40 99h1v1h-1z"/><path fill="#00bfa0" d="M99 41h1v1h-1zM98 42h1v1h-1zM97 43h1v1h-1zM96 44h1v1h-1zM95 45h1v1h-1zM94 46h1v1h-1zM93 47h1v1h-1zM92 48h1v1h-1zM91 49h1v1h-1zM90 50h1v1h-1zM89 51h1v1h-1zM88 52h1v1h-1zM87 53h1v1h-1zM86 54h1v1h-1zM85 55h1v1h-1zM84 56h1v1h-1zM83 57h1v1h-1zM82 58h1v1h-1zM81 59h1v1h-1zM80 60h1v1h-1zM79 61h1v1h-1zM78 62h1v1h-1zM77 63h1v1h-1zM76 64h1v1h-1zM75 65h1v1h-1zM74 66h1v1h-1zM73 67h1v1h-1zM72 68h1v1h-1zM68 72h1v1h-1zM67 73h1v1h-1zM66 74h1v1h-1zM65 75h1v1h-1zM64 76h1v1h-1zM63 77h1v1h-1zM62 78h1v1h-1zM61 79h1v1h-1zM60 80h1v1h-1zM59 81h1v1h-1zM58 82h1v1h-1zM57 83h1v1h-1zM56 84h1v1h-1zM55 85h1v1h-1zM54 86h1v1h-1zM53 87h1v1h-1zM52 88h1v1h-1zM51 89h1v1h-1zM50 90h1v1h-1zM49 91h1v1h-1zM48 92h1v1h-1zM47 93h1v1h-1zM46 94h1v1h-1zM45 95h1v1h-1zM44 96h1v1h-1zM43 97h1v1h-1zM42 98h1v1h-1zM41 99h1v1h-1z"/><path fill="#00bca1" d="M99 42h1v1h-1zM98 43h1v1h-1zM97 44h1v1h-1zM96 45h1v1h-1zM95 46h1v1h-1zM94 47h1v1h-1zM93 48h1v1h-1zM92 49h1v1h-1zM91 50h1v1h-1zM90 51h1v1h-1zM89 52h1v1h-1zM88 53h1v1h-1zM87 54h1v1h-1zM86 55h1v1h-1zM85 56h1v1h-1zM84 57h1v1h-1zM83 58h1v1h-1zM82 59h1v1h-1zM81 60h1v1h-1zM80 61h1v1h-1zM79 62h1v1h-1zM78 63h1v1h-1zM77 64h1v1h-1zM76 65h1v1h-1zM75 66h1v1h-1zM74 67h1v1h-1zM73 68h1v1h-1zM72 69h1v1h-1zM69 72h1v1h-1zM68 73h1v1h-1zM67 74h1v1h-1zM66 75h1v1h-1zM65 76h1v1h-1zM64 77h1v1h-1zM63 78h1v1h-1zM62 79h1v1h-1zM61 80h1v1h-1zM60 81h1v1h-1zM59 82h1v1h-1zM58 83h1v1h-1zM57 84h1v1h-1zM56 85h1v1h-1zM55 86h1v1h-1zM54 87h1v1h-1zM53 88h1v1h-1zM52 89h1v1h-1zM51 90h1v1h-1zM50 91h1v1h-1zM49 92h1v1h-1zM48 93h1v1h-1zM47 94h1v1h-1zM46 95h1v1h-1zM45 96h1v1h-1zM44 97h1v1h-1zM43 98h1v1h-1zM42 99h1v1h-1z"/><path fill="#00baa2" d="M99 43h1v1h-1zM98 44h1v1h-1zM97 45h1v1h-1zM96 46h1v1h-1zM95 47h1v1h-1zM94 48h1v1h-1zM93 49h1v1h-1zM92 50h1v1h-1zM91 51h1v1h-1zM90 52h1v1h-1zM89 53h1v1h-1zM88 54h1v1h-1zM87 55h1v1h-1zM86 56h1v1h-1zM85 57h1v1h-1zM84 58h1v1h-1zM83 59h1v1h-1zM82 60h1v1h-1zM81 61h1v1h-1zM80 62h1v1h-1zM79 63h1v1h-1zM78 64h1v1h-1zM77 65h1v1h-1zM76 66h1v1h-1zM75 67h1v1h-1zM74 68h1v1h-1zM73 69h1v1h-1zM69 73h1v1h-1zM68 74h1v1h-1zM67 75h1v1h-1zM66 76h1v1h-1zM65 77h1v1h-1zM64 78h1v1h-1zM63 79h1v1h-1zM62 80h1v1h-1zM61 81h1v1h-1zM60 82h1v1h-1zM59 83h1v1h-1zM58 84h1v1h-1zM57 85h1v1h-1zM56 86h1v1h-1zM55 87h1v1h-1zM54 88h1v1h-1zM53 89h1v1h-1zM52 90h1v1h-1zM51 91h1v1h-1zM50 92h1v1h-1zM49 93h1v1h-1zM48 94h1v1h-1zM47 95h1v1h-1zM46 96h1v1h-1zM45 97h1v1h-1zM44 98h1v1h-1zM43 99h1v1h-1z"/><path fill="#00b7a3" d="M99 44h1v1h-1zM98 45h1v1h-1zM97 46h1v1h-1zM96 47h1v1h-1zM95 48h1v1h-1zM94 49h1v1h-1zM93 50h1v1h-1zM92 51h1v1h-1zM91 52h1v1h-1zM90 53h1v1h-1zM89 54h1v1h-1zM88 55h1v1h-1zM87 56h1v1h-1zM86 57h1v1h-1zM85 58h1v1h-1zM84 59h1v1h-1zM83 60h1v1h-1zM82 61h1v1h-1zM81 62h1v1h-1zM80 63h1v1h-1zM79 64h1v1h-1zM78 65h1v1h-1zM77 66h1v1h-1zM76 67h1v1h-1zM75 68h1v1h-1zM74 69h1v1h-1zM73 70h1v1h-1zM70 73h1v1h-1zM69 74h1v1h-1zM68 75h1v1h-1zM67 76h1v1h-1zM66 77h1v1h-1zM65 78h1v1h-1zM64 79h1v1h-1zM63 80h1v1h-1zM62 81h1v1h-1zM61 82h1v1h-1zM60 83h1v1h-1zM59 84h1v1h-1zM58 85h1v1h-1zM57 86h1v1h-1zM56 87h1v1h-1zM55 88h1v1h-1zM54 89h1v1h-1zM53 90h1v1h-1zM52 91h1v1h-1zM51 92h1v1h-1zM50 93h1v1h-1zM49 94h1v1h-1zM48 95h1v1h-1zM47 96h1v1h-1zM46 97h1v1h-1zM45 98h1v1h-1zM44 99h1v1h-1z"/><path fill="#00b4a5" d="M99 45h1v1h-1zM98 46h1v1h-1zM97 47h1v1h-1zM96 48h1v1h-1zM95 49h1v1h-1zM94 50h1v1h-1zM93 51h1v1h-1zM92 52h1v1h-1zM91 53h1v1h-1zM90 54h1v1h-1zM89 55h1v1h-1zM88 56h1v1h-1zM87 57h1v1h-1zM86 58h1v1h-1zM85 59h1v1h-1zM84 60h1v1h-1zM83 61h1v1h-1zM82 62h1v1h-1zM81 63h1v1h-1zM80 64h1v1h-1zM79 65h1v1h-1zM78 66h1v1h-1zM77 67h1v1h-1zM76 68h1v1h-1zM75 69h1v1h-1zM74 70h1v1h-1zM70 74h1v1h-1zM69 75h1v1h-1zM68 76h1v1h-1zM67 77h1v1h-1zM66 78h1v1h-1zM65 79h1v1h-1zM64 80h1v1h-1zM63 81h1v1h-1zM62 82h1v1h-1zM61 83h1v1h-1zM60 84h1v1h-1zM59 85h1v1h-1zM58 86h1v1h-1zM57 87h1v1h-1zM56 88h1v1h-1zM55 89h1v1h-1zM54 90h1v1h-1zM53 91h1v1h-1zM52 92h1v1h-1zM51 93h1v1h-1zM50 94h1v1h-1zM49 95h1v1h-1zM48 96h1v1h-1zM47 97h1v1h-1zM46 98h1v1h-1zM45 99h1v1h-1z"/><path fill="#00b2a6" d="M99 46h1v1h-1zM98 47h1v1h-1zM97 48h1v1h-1zM96 49h1v1h-1zM95 50h1v1h-1zM94 51h1v1h-1zM93 52h1v1h-1zM92 53h1v1h-1zM91 54h1v1h-1zM90 55h1v1h-1zM89 56h1v1h-1zM88 57h1v1h-1zM87 58h1v1h-1zM86 59h1v1h-1zM85 60h1v1h-1zM84 61h1v1h-1zM83 62h1v1h-1zM82 63h1v1h-1zM81 64h1v1h-1zM80 65h1v1h-1zM79 66h1v1h-1zM78 67h1v1h-1zM77 68h1v1h-1zM76 69h1v1h-1zM75 70h1v1h-1zM74 71h1v1h-1zM71 74h1v1h-1zM70 75h1v1h-1zM69 76h1v1h-1zM68 77h1v1h-1zM67 78h1v1h-1zM66 79h1v1h-1zM65 80h1v1h-1zM64 81h1v1h-1zM63 82h1v1h-1zM62 83h1v1h-1zM61 84h1v1h-1zM60 85h1v1h-1zM59 86h1v1h-1zM58 87h1v1h-1zM57 88h1v1h-1zM56 89h1v1h-1zM55 90h1v1h-1zM54 91h1v1h-1zM53 92h1v1h-1zM52 93h1v1h-1zM51 94h1v1h-1zM50 95h1v1h-1zM49 96h1v1h-1zM48 97h1v1h-1zM47 98h1v1h-1zM46 99h1v1h-1z"/><path fill="#00afa8" d="M99 47h1v1h-1zM98 48h1v1h-1zM97 49h1v1h-1zM96 50h1v1h-1zM95 51h1v1h-1zM94 52h1v1h-1zM93 53h1v1h-1zM92 54h1v1h-1zM91 55h1v1h-1zM90 56h1v1h-1zM89 57h1v1h-1zM88 58h1v1h-1zM87 59h1v1h-1zM86 60h1v1h-1zM85 61h1v1h-1zM84 62h1v1h-1zM83 63h1v1h-1zM82 64h1v1h-1zM81 65h1v1h-1zM80 66h1v1h-1zM79 67h1v1h-1zM78 68h1v1h-1zM77 69h1v1h-1zM76 70h1v1h-1zM75 71h1v1h-1zM71 75h1v1h-1zM70 76h1v1h-1zM69 77h1v1h-1zM68 78h1v1h-1zM67 79h1v1h-1zM66 80h1v1h-1zM65 81h1v1h-1zM64 82h1v1h-1zM63 83h1v1h-1zM62 84h1v1h-1zM61 85h1v1h-1zM60 86h1v1h-1zM59 87h1v1h-1zM58 88h1v1h-1zM57 89h1v1h-1zM56 90h1v1h-1zM55 91h1v1h-1zM54 92h1v1h-1zM53 93h1v1h-1zM52 94h1v1h-1zM51 95h1v1h-1zM50 96h1v1h-1zM49 97h1v1h-1zM48 98h1v1h-1zM47 99h1v1h-1z"/><path fill="#00aca9" d="M99 48h1v1h-1zM98 49h1v1h-1zM97 50h1v1h-1zM96 51h1v1h-1zM95 52h1v1h-1zM94 53h1v1h-1zM93 54h1v1h-1zM92 55h1v1h-1zM91 56h1v1h-1zM90 57h1v1h-1zM89 58h1v1h-1zM88 59h1v1h-1zM87 60h1v1h-1zM86 61h1v1h-1zM85 62h1v1h-1zM84 63h1v1h-1zM83 64h1v1h-1zM82 65h1v1h-1zM81 66h1v1h-1zM80 67h1v1h-1zM79 68h1v1h-1zM78 69h1v1h-1zM77 70h1v1h-1zM76 71h1v1h-1zM75 72h1v1h-1zM72 75h1v1h-1zM71 76h1v1h-1zM70 77h1v1h-1zM69 78h1v1h-1zM68 79h1v1h-1zM67 80h1v1h-1zM66 81h1v1h-1zM65 82h1v1h-1zM64 83h1v1h-1zM63 84h1v1h-1zM62 85h1v1h-1zM61 86h1v1h-1zM60 87h1v1h-1zM59 88h1v1h-1zM58 89h1v1h-1zM57 90h1v1h-1zM56 91h1v1h-1zM55 92h1v1h-1zM54 93h1v1h-1zM53 94h1v1h-1zM52 95h1v1h-1zM51 96h1v1h-1zM50 97h1v1h-1zM49 98h1v1h-1zM48 99h1v1h-1z"/><path fill="#00aaaa" d="M99 49h1v1h-1zM98 50h1v1h-1zM97 51h1v1h-1zM96 52h1v1h-1zM95 53h1v1h-1zM94 54h1v1h-1zM93 55h1v1h-1zM92 56h1v1h-1zM91 57h1v1h-1zM90 58h1v1h-1zM89 59h1v1h-1zM88 60h1v1h-1zM87 61h1v1h-1zM86 62h1v1h-1zM85 63h1v1h-1zM84 64h1v1h-1zM83 65h1v1h-1zM82 66h1v1h-1zM81 67h1v1h-1zM80 68h1v1h-1zM79 69h1v1h-1zM78 70h1v1h-1zM77 71h1v1h-1zM76 72h1v1h-1zM72 76h1v1h-1zM71 77h1v1h-1zM70 78h1v1h-1zM69 79h1v1h-1zM68 80h1v1h-1zM67 81h1v1h-1zM66 82h1v1h-1zM65 83h1v1h-1zM64 84h1v1h-1zM63 85h1v1h-1zM62 86h1v1h-1zM61 87h1v1h-1zM60 88h1v1h-1zM59 89h1v1h-1zM58 90h1v1h-1zM57 91h1v1h-1zM56 92h1v1h-1zM55 93h1v1h-1zM54 94h1v1h-1zM53 95h1v1h-1zM52 96h1v1h-1zM51 97h1v1h-1zM50 98h1v1h-1zM49 99h1v1h-1z"/><path fill="#00a7ac" d="M99 50h1v1h-1zM98 51h1v1h-1zM97 52h1v1h-1zM96 53h1v1h-1zM95 54h1v1h-1zM94 55h1v1h-1zM93 56h1v1h-1zM92 57h1v1h-1zM91 58h1v1h-1zM90 59h1v1h-1zM89 60h1v1h-1zM88 61h1v1h-1zM87 62h1v1h-1zM86 63h1v1h-1zM85 64h1v1h-1zM84 65h1v1h-1zM83 66h1v1h-1zM82 67h1v1h-1zM81 68h1v1h-1zM80 69h1v1h-1zM79 70h1v1h-1zM78 71h1v1h-1zM77 72h1v1h-1zM76 73h1v1h-1zM73 76h1v1h-1zM72 77h1v1h-1zM71 78h1v1h-1zM70 79h1v1h-1zM69 80h1v1h-1zM68 81h1v1h-1zM67 82h1v1h-1zM66 83h1v1h-1zM65 84h1v1h-1zM64 85h1v1h-1zM63 86h1v1h-1zM62 87h1v1h-1zM61 88h1v1h-1zM60 89h1v1h-1zM59 90h1v1h-1zM58 91h1v1h-1zM57 92h1v1h-1zM56 93h1v1h-1zM55 94h1v1h-1zM54 95h1v1h-1zM53 96h1v1h-1zM52 97h1v1h-1zM51 98h1v1h-1zM50 99h1v1h-1z"/><path fill="#00a4ad" d="M99 51h1v1h-1zM98 52h1v1h-1zM97 53h1v1h-1zM96 54h1v1h-1zM95 55h1v1h-1zM94 56h1v1h-1zM93 57h1v1h-1zM92 58h1v1h-1zM91 59h1v1h-1zM90 60h1v1h-1zM89 61h1v1h-1zM88 62h1v1h-1zM87 63h1v1h-1zM86 64h1v1h-1zM85 65h1v1h-1zM84 66h1v1h-1zM83 67h1v1h-1zM82 68h1v1h-1zM81 69h1v1h-1zM80 70h1v1h-1zM79 71h1v1h-1zM78 72h1v1h-1zM77 73h1v1h-1zM73 77h1v1h-1zM72 78h1v1h-1zM71 79h1v1h-1zM70 80h1v1h-1zM69 81h1v1h-1zM68 82h1v1h-1zM67 83h1v1h-1zM66 84h1v1h-1zM65 85h1v1h-1zM64 86h1v1h-1zM63 87h1v1h-1zM62 88h1v1h-1zM61 89h1v1h-1zM60 90h1v1h-1zM59 91h1v1h-1zM58 92h1v1h-1zM57 93h1v1h-1zM56 94h1v1h-1zM55 95h1v1h-1zM54 96h1v1h-1zM53 97h1v1h-1zM52 98h1v1h-1zM51 99h1v1h-1z"/><path fill="#00a2ae" d="M99 52h1v1h-1zM98 53h1v1h-1zM97 54h1v1h-1zM96 55h1v1h-1zM95 56h1v1h-1zM94 57h1v1h-1zM93 58h1v1h-1zM92 59h1v1h-1zM91 60h1v1h-1zM90 61h1v1h-1zM89 62h1v1h-1zM88 63h1v1h-1zM87 64h1v1h-1zM86 65h1v1h-1zM85 66h1v1h-1zM84 67h1v1h-1zM83 68h1v1h-1zM82 69h1v1h-1zM81 70h1v1h-1zM80 71h1v1h-1zM79 72h1v1h-1zM78 73h1v1h-1zM77 74h1v1h-1zM74 77h1v1h-1zM73 78h1v1h-1zM72 79h1v1h-1zM71 80h1v1h-1zM70 81h1v1h-1zM69 82h1v1h-1zM68 83h1v1h-1zM67 84h1v1h-1zM66 85h1v1h-1zM65 86h1v1h-1zM64 87h1v1h-1zM63 88h1v1h-1zM62 89h1v1h-1zM61 90h1v1h-1zM60 91h1v1h-1zM59 92h1v1h-1zM58 93h1v1h-1zM57 94h1v1h-1zM56 95h1v1h-1zM55 96h1v1h-1zM54 97h1v1h-1zM53 98h1v1h-1zM52 99h1v1h-1z"/><path fill="#009fb0" d="M99 53h1v1h-1zM98 54h1v1h-1zM97 55h1v1h-1zM96 56h1v1h-1zM95 57h1v1h-1zM94 58h1v1h-1zM93 59h1v1h-1zM92 60h1v1h-1zM91 61h1v1h-1zM90 62h1v1h-1zM89 63h1v1h-1zM88 64h1v1h-1zM87 65h1v1h-1zM86 66h1v1h-1zM85 67h1v1h-1zM84 68h1v1h-1zM83 69h1v1h-1zM82 70h1v1h-1zM81 71h1v1h-1zM80 72h1v1h-1zM79 73h1v1h-1zM78 74h1v1h-1zM74 78h1v1h-1zM73 79h1v1h-1zM72 80h1v1h-1zM71 81h1v1h-1zM70 82h1v1h-1zM69 83h1v1h-1zM68 84h1v1h-1zM67 85h1v1h-1zM66 86h1v1h-1zM65 87h1v1h-1zM64 88h1v1h-1zM63 89h1v1h-1zM62 90h1v1h-1zM61 91h1v1h-1zM60 92h1v1h-1zM59 93h1v1h-1zM58 94h1v1h-1zM57 95h1v1h-1zM56 96h1v1h-1zM55 97h1v1h-1zM54 98h1v1h-1zM53 99h1v1h-1z"/><path fill="#009cb1" d="M99 54h1v1h-1zM98 55h1v1h-1zM97 56h1v1h-1zM96 57h1v1h-1zM95 58h1v1h-1zM94 59h1v1h-1zM93 60h1v1h-1zM92 61h1v1h-1zM91 62h1v1h-1zM90 63h1v1h-1zM89 64h1v1h-1zM88 65h1v1h-1zM87 66h1v1h-1zM86 67h1v1h-1zM85 68h1v1h-1zM84 69h1v1h-1zM83 70h1v1h-1zM82 71h1v1h-1zM81 72h1v1h-1zM80 73h1v1h-1zM79 74h1v1h-1zM78 75h1v1h-1zM75 78h1v1h-1zM74 79h1v1h-1zM73 80h1v1h-1zM72 81h1v1h-1zM71 82h1v1h-1zM70 83h1v1h-1zM69 84h1v1h-1zM68 85h1v1h-1zM67 86h1v1h-1zM66 87h1v1h-1zM65 88h1v1h-1zM64 89h1v1h-1zM63 90h1v1h-1zM62 91h1v1h-1zM61 92h1v1h-1zM60 93h1v1h-1zM59 94h1v1h-1zM58 95h1v1h-1zM57 96h1v1h-1zM56 97h1v1h-1zM55 98h1v1h-1zM54 99h1v1h-1z"/><path fill="#009ab2" d="M99 55h1v1h-1zM98 56h1v1h-1zM97 57h1v1h-1zM96 58h1v1h-1zM95 59h1v1h-1zM94 60h1v1h-1zM93 61h1v1h-1zM92 62h1v1h-1zM91 63h1v1h-1zM90 64h1v1h-1zM89 65h1v1h-1zM88 66h1v1h-1zM87 67h1v1h-1zM86 68h1v1h-1zM85 69h1v1h-1zM84 70h1v1h-1zM83 71h1v1h-1zM82 72h1v1h-1zM81 73h1v1h-1zM80 74h1v1h-1zM79 75h1v1h-1zM75 79h1v1h-1zM74 80h1v1h-1zM73 81h1v1h-1zM72 82h1v1h-1zM71 83h1v1h-1zM70 84h1v1h-1zM69 85h1v1h-1zM68 86h1v1h-1zM67 87h1v1h-1zM66 88h1v1h-1zM65 89h1v1h-1zM64 90h1v1h-1zM63 91h1v1h-1zM62 92h1v1h-1zM61 93h1v1h-1zM60 94h1v1h-1zM59 95h1v1h-1zM58 96h1v1h-1zM57 97h1v1h-1zM56 98h1v1h-1zM55 99h1v1h-1z"/><path fill="#0097b3" d="M99 56h1v1h-1zM98 57h1v1h-1zM97 58h1v1h-1zM96 59h1v1h-1zM95 60h1v1h-1zM94 61h1v1h-1zM93 62h1v1h-1zM92 63h1v1h-1zM91 64h1v1h-1zM90 65h1v1h-1zM89 66h1v1h-1zM88 67h1v1h-1zM87 68h1v1h-1zM86 69h1v1h-1zM85 70h1v1h-1zM84 71h1v1h-1zM83 72h1v1h-1zM82 73h1v1h-1zM81 74h1v1h-1zM80 75h1v1h-1zM79 76h1v1h-1zM76 79h1v1h-1zM75 80h1v1h-1zM74 81h1v1h-1zM73 82h1v1h-1zM72 83h1v1h-1zM71 84h1v1h-1zM70 85h1v1h-1zM69 86h1v1h-1zM68 87h1v1h-1zM67 88h1v1h-1zM66 89h1v1h-1zM65 90h1v1h-1zM64 91h1v1h-1zM63 92h1v1h-1zM62 93h1v1h-1zM61 94h1v1h-1zM60 95h1v1h-1zM59 96h1v1h-1zM58 97h1v1h-1zM57 98h1v1h-1zM56 99h1v1h-1z"/><path fill="#0094b5" d="M99 57h1v1h-1zM98 58h1v1h-1zM97 59h1v1h-1zM96 60h1v1h-1zM95 61h1v1h-1zM94 62h1v1h-1zM93 63h1v1h-1zM92 64h1v1h-1zM91 65h1v1h-1zM90 66h1v1h-1zM89 67h1v1h-1zM88 68h1v1h-1zM87 69h1v1h-1zM86 70h1v1h-1zM85 71h1v1h-1zM84 72h1v1h-1zM83 73h1v1h-1zM82 74h1v1h-1zM81 75h1v1h-1zM80 76h1v1h-1zM76 80h1v1h-1zM75 81h1v1h-1zM74 82h1v1h-1zM73 83h1v1h-1zM72 84h1v1h-1zM71 85h1v1h-1zM70 86h1v1h-1zM69 87h1v1h-1zM68 88h1v1h-1zM67 89h1v1h-1zM66 90h1v1h-1zM65 91h1v1h-1zM64 92h1v1h-1zM63 93h1v1h-1zM62 94h1v1h-1zM61 95h1v1h-1zM60 96h1v1h-1zM59 97h1v1h-1zM58 98h1v1h-1zM57 99h1v1h-1z"/><path fill="#0092b6" d="M99 58h1v1h-1zM98 59h1v1h-1zM97 60h1v1h-1zM96 61h1v1h-1zM95 62h1v1h-1zM94 63h1v1h-1zM93 64h1v1h-1zM92 65h1v1h-1zM91 66h1v1h-1zM90 67h1v1h-1zM89 68h1v1h-1zM88 69h1v1h-1zM87 70h1v1h-1zM86 71h1v1h-1zM85 72h1v1h-1zM84 73h1v1h-1zM83 74h1v1h-1zM82 75h1v1h-1zM81 76h1v1h-1zM80 77h1v1h-1zM77 80h1v1h-1zM76 81h1v1h-1zM75 82h1v1h-1zM74 83h1v1h-1zM73 84h1v1h-1zM72 85h1v1h-1zM71 86h1v1h-1zM70 87h1v1h-1zM69 88h1v1h-1zM68 89h1v1h-1zM67 90h1v1h-1zM66 91h1v1h-1zM65 92h1v1h-1zM64 93h1v1h-1zM63 94h1v1h-1zM62 95h1v1h-1zM61 96h1v1h-1zM60 97h1v1h-1zM59 98h1v1h-1zM58 99h1v1h-1z"/><path fill="#008fb8" d="M99 59h1v1h-1zM98 60h1v1h-1zM97 61h1v1h-1zM96 62h1v1h-1zM95 63h1v1h-1zM94 64h1v1h-1zM93 65h1v1h-1zM92 66h1v1h-1zM91 67h1v1h-1zM90 68h1v1h-1zM89 69h1v1h-1zM88 70h1v1h-1zM87 71h1v1h-1zM86 72h1v1h-1zM85 73h1v1h-1zM84 74h1v1h-1zM83 75h1v1h-1zM82 76h1v1h-1zM81 77h1v1h-1zM77 81h1v1h-1zM76 82h1v1h-1zM75 83h1v1h-1zM74 84h1v1h-1zM73 85h1v1h-1zM72 86h1v1h-1zM71 87h1v1h-1zM70 88h1v1h-1zM69 89h1v1h-1zM68 90h1v1h-1zM67 91h1v1h-1zM66 92h1v1h-1zM65 93h1v1h-1zM64 94h1v1h-1zM63 95h1v1h-1zM62 96h1v1h-1zM61 97h1v1h-1zM60 98h1v1h-1zM59 99h1v1h-1z"/><path fill="#008cb9" d="M99 60h1v1h-1zM98 61h1v1h-1zM97 62h1v1h-1zM96 63h1v1h-1zM95 64h1v1h-1zM94 65h1v1h-1zM93 66h1v1h-1zM92 67h1v1h-1zM91 68h1v1h-1zM90 69h1v1h-1zM89 70h1v1h-1zM88 71h1v1h-1zM87 72h1v1h-1zM86 73h1v1h-1zM85 74h1v1h-1zM84 75h1v1h-1zM83 76h1v1h-1zM82 77h1v1h-1zM81 78h1v1h-1zM78 81h1v1h-1zM77 82h1v1h-1zM76 83h1v1h-1zM75 84h1v1h-1zM74 85h1v1h-1zM73 86h1v1h-1zM72 87h1v1h-1zM71 88h1v1h-1zM70 89h1v1h-1zM69 90h1v1h-1zM68 91h1v1h-1zM67 92h1v1h-1zM66 93h1v1h-1zM65 94h1v1h-1zM64 95h1v1h-1zM63 96h1v1h-1zM62 97h1v1h-1zM61 98h1v1h-1zM60 99h1v1h-1z"/><path fill="#008aba" d="M99 61h1v1h-1zM98 62h1v1h-1zM97 63h1v1h-1zM96 64h1v1h-1zM95 65h1v1h-1zM94 66h1v1h-1zM93 67h1v1h-1zM92 68h1v1h-1zM91 69h1v1h-1zM90 70h1v1h-1zM89 71h1v1h-1zM88 72h1v1h-1zM87 73h1v1h-1zM86 74h1v1h-1zM85 75h1v1h-1zM84 76h1v1h-1zM83 77h1v1h-1zM82 78h1v1h-1zM78 82h1v1h-1zM77 83h1v1h-1zM76 84h1v1h-1zM75 85h1v1h-1zM74 86h1v1h-1zM73 87h1v1h-1zM72 88h1v1h-1zM71 89h1v1h-1zM70 90h1v1h-1zM69 91h1v1h-1zM68 92h1v1h-1zM67 93h1v1h-1zM66 94h1v1h-1zM65 95h1v1h-1zM64 96h1v1h-1zM63 97h1v1h-1zM62 98h1v1h-1zM61 99h1v1h-1z"/><path fill="#0087bc" d="M99 62h1v1h-1zM98 63h1v1h-1zM97 64h1v1h-1zM96 65h1v1h-1zM95 66h1v1h-1zM94 67h1v1h-1zM93 68h1v1h-1zM92 69h1v1h-1zM91 70h1v1h-1zM90 71h1v1h-1zM89 72h1v1h-1zM88 73h1v1h-1zM87 74h1v1h-1zM86 75h1v1h-1zM85 76h1v1h-1zM84 77h1v1h-1zM83 78h1v1h-1zM82 79h1v1h-1zM79 82h1v1h-1zM78 83h1v1h-1zM77 84h1v1h-1zM76 85h1v1h-1zM75 86h1v1h-1zM74 87h1v1h-1zM73 88h1v1h-1zM72 89h1v1h-1zM71 90h1v1h-1zM70 91h1v1h-1zM69 92h1v1h-1zM68 93h1v1h-1zM67 94h1v1h-1zM66 95h1v1h-1zM65 96h1v1h-1zM64 97h1v1h-1zM63 98h1v1h-1zM62 99h1v1h-1z"/><path fill="#0084bd" d="M99 63h1v1h-1zM98 64h1v1h-1zM97 65h1v1h-1zM96 66h1v1h-1zM95 67h1v1h-1zM94 68h1v1h-1zM93 69h1v1h-1zM92 70h1v1h-1zM91 71h1v1h-1zM90 72h1v1h-1zM89 73h1v1h-1zM88 74h1v1h-1zM87 75h1v1h-1zM86 76h1v1h-1zM85 77h1v1h-1zM84 78h1v1h-1zM83 79h1v1h-1zM79 83h1v1h-1zM78 84h1v1h-1zM77 85h1v1h-1zM76 86h1v1h-1zM75 87h1v1h-1zM74 88h1v1h-1zM73 89h1v1h-1zM72 90h1v1h-1zM71 91h1v1h-1zM70 92h1v1h-1zM69 93h1v1h-1zM68 94h1v1h-1zM67 95h1v1h-1zM66 96h1v1h-1zM65 97h1v1h-1zM64 98h1v1h-1zM63 99h1v1h-1z"/><path fill="#0082be" d="M99 64h1v1h-1zM98 65h1v1h-1zM97 66h1v1h-1zM96 67h1v1h-1zM95 68h1v1h-1zM94 69h1v1h-1zM93 70h1v1h-1zM92 71h1v1h-1zM91 72h1v1h-1zM90 73h1v1h-1zM89 74h1v1h-1zM88 75h1v1h-1zM87 76h1v1h-1zM86 77h1v1h-1zM85 78h1v1h-1zM84 79h1v1h-1zM83 80h1v1h-1zM80 83h1v1h-1zM79 84h1v1h-1zM78 85h1v1h-1zM77 86h1v1h-1zM76 87h1v1h-1zM75 88h1v1h-1zM74 89h1v1h-1zM73 90h1v1h-1zM72 91h1v1h-1zM71 92h1v1h-1zM70 93h1v1h-1zM69 94h1v1h-1zM68 95h1v1h-1zM67 96h1v1h-1zM66 97h1v1h-1zM65 98h1v1h-1zM64 99h1v1h-1z"/><path fill="#007fc0" d="M99 65h1v1h-1zM98 66h1v1h-1zM97 67h1v1h-1zM96 68h1v1h-1zM95 69h1v1h-1zM94 70h1v1h-1zM93 71h1v1h-1zM92 72h1v1h-1zM91 73h1v1h-1zM90 74h1v1h-1zM89 75h1v1h-1zM88 76h1v1h-1zM87 77h1v1h-1zM86 78h1v1h-1zM85 79h1v1h-1zM84 80h1v1h-1zM80 84h1v1h-1zM79 85h1v1h-1zM78 86h1v1h-1zM77 87h1v1h-1zM76 88h1v1h-1zM75 89h1v1h-1zM74 90h1v1h-1zM73 91h1v1h-1zM72 92h1v1h-1zM71 93h1v1h-1zM70 94h1v1h-1zM69 95h1v1h-1zM68 96h1v1h-1zM67 97h1v1h-1zM66 98h1v1h-1zM65 99h1v1h-1z"/><path fill="#007cc1" d="M99 66h1v1h-1zM98 67h1v1h-1zM97 68h1v1h-1zM96 69h1v1h-1zM95 70h1v1h-1zM94 71h1v1h-1zM93 72h1v1h-1zM92 73h1v1h-1zM91 74h1v1h-1zM90 75h1v1h-1zM89 76h1v1h-1zM88 77h1v1h-1zM87 78h1v1h-1zM86 79h1v1h-1zM85 80h1v1h-1zM84 81h1v1h-1zM81 84h1v1h-1zM80 85h1v1h-1zM79 86h1v1h-1zM78 87h1v1h-1zM77 88h1v1h-1zM76 89h1v1h-1zM75 90h1v1h-1zM74 91h1v1h-1zM73 92h1v1h-1zM72 93h1v1h-1zM71 94h1v1h-1zM70 95h1v1h-1zM69 96h1v1h-1zM68 97h1v1h-1zM67 98h1v1h-1zM66 99h1v1h-1z"/><path fill="#0079c2" d="M99 67h1v1h-1zM98 68h1v1h-1zM97 69h1v1h-1zM96 70h1v1h-1zM95 71h1v1h-1zM94 72h1v1h-1zM93 73h1v1h-1zM92 74h1v1h-1zM91 75h1v1h-1zM90 76h1v1h-1zM89 77h1v1h-1zM88 78h1v1h-1zM87 79h1v1h-1zM86 80h1v1h-1zM85 81h1v1h-1zM81 85h1v1h-1zM80 86h1v1h-1zM79 87h1v1h-1zM78 88h1v1h-1zM77 89h1v1h-1zM76 90h1v1h-1zM75 91h1v1h-1zM74 92h1v1h-1zM73 93h1v1h-1zM72 94h1v1h-1zM71 95h1v1h-1zM70 96h1v1h-1zM69 97h1v1h-1zM68 98h1v1h-1zM67 99h1v1h-1z"/><path fill="#0077c3" d="M18 18h1v1h-1zM32 18h1v1h-1zM18 32h1v1h-1zM32 32h1v1h-1zM99 68h1v1h-1zM98 69h1v1h-1zM97 70h1v1h-1zM96 71h1v1h-1zM95 72h1v1h-1zM94 73h1v1h-1zM93 74h1v1h-1zM92 75h1v1h-1zM91 76h1v1h-1zM90 77h1v1h-1zM89 78h1v1h-1zM88 79h1v1h-1zM87 80h1v1h-1zM86 81h1v1h-1zM85 82h1v1h-1zM82 85h1v1h-1zM81 86h1v1h-1zM80 87h1v1h-1zM79 88h1v1h-1zM78 89h1v1h-1zM77 90h1v1h-1zM76 91h1v1h-1zM75 92h1v1h-1zM74 93h1v1h-1zM73 94h1v1h-1zM72 95h1v1h-1zM71 96h1v1h-1zM70 97h1v1h-1zM69 98h1v1h-1zM68 99h1v1h-1z"/><path fill="#0076c4" d="M21 16h1v1h-1zM29 16h1v1h-1zM16 21h1v1h-1zM34 21h1v1h-1zM16 29h1v1h-1zM34 29h1v1h-1zM21 34h1v1h-1zM29 34h1v1h-1z"/><path fill="#0074c5" d="M99 69h1v1h-1zM98 70h1v1h-1zM97 71h1v1h-1zM96 72h1v1h-1zM95 73h1v1h-1zM94 74h1v1h-1zM93 75h1v1h-1zM92 76h1v1h-1zM91 77h1v1h-1zM90 78h1v1h-1zM89 79h1v1h-1zM88 80h1v1h-1zM87 81h1v1h-1zM86 82h1v1h-1zM82 86h1v1h-1zM81 87h1v1h-1zM80 88h1v1h-1zM79 89h1v1h-1zM78 90h1v1h-1zM77 91h1v1h-1zM76 92h1v1h-1zM75 93h1v1h-1zM74 94h1v1h-1zM73 95h1v1h-1zM72 96h1v1h-1zM71 97h1v1h-1zM70 98h1v1h-1zM69 99h1v1h-1z"/><path fill="#0071c6" d="M99 70h1v1h-1zM98 71h1v1h-1zM97 72h1v1h-1zM96 73h1v1h-1zM95 74h1v1h-1zM94 75h1v1h-1zM93 76h1v1h-1zM92 77h1v1h-1zM91 78h1v1h-1zM90 79h1v1h-1zM89 80h1v1h-1zM88 81h1v1h-1zM87 82h1v1h-1zM86 83h1v1h-1zM83 86h1v1h-1zM82 87h1v1h-1zM81 88h1v1h-1zM80 89h1v1h-1zM79 90h1v1h-1zM78 91h1v1h-1zM77 92h1v1h-1zM76 93h1v1h-1zM75 94h1v1h-1zM74 95h1v1h-1zM73 96h1v1h-1zM72 97h1v1h-1zM71 98h1v1h-1zM70 99h1v1h-1z"/><path fill="#006fc8" d="M99 71h1v1h-1zM98 72h1v1h-1zM97 73h1v1h-1zM96 74h1v1h-1zM95 75h1v1h-1zM94 76h1v1h-1zM93 77h1v1h-1zM92 78h1v1h-1zM91 79h1v1h-1zM90 80h1v1h-1zM89 81h1v1h-1zM88 82h1v1h-1zM87 83h1v1h-1zM83 87h1v1h-1zM82 88h1v1h-1zM81 89h1v1h-1zM80 90h1v1h-1zM79 91h1v1h-1zM78 92h1v1h-1zM77 93h1v1h-1zM76 94h1v1h-1zM75 95h1v1h-1zM74 96h1v1h-1zM73 97h1v1h-1zM72 98h1v1h-1zM71 99h1v1h-1z"/><path fill="#006dc8" d="M22 16h1v1h-1zM28 16h1v1h-1zM16 22h1v1h-1zM34 22h1v1h-1zM16 28h1v1h-1zM34 28h1v1h-1zM22 34h1v1h-1zM28 34h1v1h-1z"/><path fill="#006cc9" d="M20 17h1v1h-1zM30 17h1v1h-1zM17 20h1v1h-1zM33 20h1v1h-1zM17 30h1v1h-1zM33 30h1v1h-1zM33 31h1v1h-1zM33 32h2v1h-2zM20 33h1v1h-1zM30 33h6v1h-6zM32 34h5v1h-5zM33 35h5v1h-5zM34 36h5v1h-5zM35 37h5v1h-5zM36 38h5v1h-5zM37 39h5v1h-5zM38 40h5v1h-5zM39 41h5v1h-5zM40 42h5v1h-5zM41 43h5v1h-5zM42 44h5v1h-5zM43 45h5v1h-5zM44 46h5v1h-5zM45 47h5v1h-5zM46 48h5v1h-5zM47 49h5v1h-5zM48 50h5v1h-5zM49 51h5v1h-5zM50 52h5v1h-5zM51 53h5v1h-5zM52 54h5v1h-5zM53 55h5v1h-5zM54 56h5v1h-5zM55 57h5v1h-5zM56 58h5v1h-5zM57 59h5v1h-5zM58 60h5v1h-5zM59 61h5v1h-5zM60 62h5v1h-5zM61 63h5v1h-5zM62 64h5v1h-5zM63 65h5v1h-5zM64 66h5v1h-5zM65 67h5v1h-5zM66 68h5v1h-5zM67 69h5v1h-5zM68 70h5v1h-5zM69 71h5v1h-5zM70 72h5v1h-5zM99 72h1v1h-1zM71 73h5v1h-5zM98 73h1v1h-1zM72 74h5v1h-5zM97 74h1v1h-1zM73 75h5v1h-5zM96 75h1v1h-1zM74 76h5v1h-5zM95 76h1v1h-1zM75 77h5v1h-5zM94 77h1v1h-1zM76 78h5v1h-5zM93 78h1v1h-1zM77 79h5v1h-5zM92 79h1v1h-1zM78 80h5v1h-5zM91 80h1v1h-1zM79 81h5v1h-5zM90 81h1v1h-1zM80 82h5v1h-5zM89 82h1v1h-1zM81 83h5v1h-5zM88 83h1v1h-1zM82 84h6v1h-6zM83 85h4v1h-4zM84 86h2v1h-2zM84 87h1v1h-1zM83 88h1v1h-1zM82 89h1v1h-1zM81 90h1v1h-1zM80 91h1v1h-1zM79 92h1v1h-1zM78 93h1v1h-1zM77 94h1v1h-1zM76 95h1v1h-1zM75 96h1v1h-1zM74 97h1v1h-1zM73 98h1v1h-1zM72 99h1v1h-1z"/><path fill="#0069cb" d="M99 73h1v1h-1zM98 74h1v1h-1zM97 75h1v1h-1zM96 76h1v1h-1zM95 77h1v1h-1zM94 78h1v1h-1zM93 79h1v1h-1zM92 80h1v1h-1zM91 81h1v1h-1zM90 82h1v1h-1zM89 83h1v1h-1zM88 84h1v1h-1zM87 85h1v1h-1zM86 86h1v1h-1zM85 87h1v1h-1zM84 88h1v1h-1zM83 89h1v1h-1zM82 90h1v1h-1zM81 91h1v1h-1zM80 92h1v1h-1zM79 93h1v1h-1zM78 94h1v1h-1zM77 95h1v1h-1zM76 96h1v1h-1zM75 97h1v1h-1zM74 98h1v1h-1zM73 99h1v1h-1z"/><path fill="#0067cc" d="M23 16h1v1h-1zM27 16h1v1h-1zM19 18h1v1h-1zM31 18h1v1h-1zM18 19h1v1h-1zM32 19h1v1h-1zM16 23h1v1h-1zM34 23h1v1h-1zM16 27h1v1h-1zM34 27h1v1h-1zM18 31h1v1h-1zM32 31h1v1h-1zM19 32h1v1h-1zM31 32h1v1h-1zM23 34h1v1h-1zM27 34h1v1h-1zM99 74h1v1h-1zM98 75h1v1h-1zM97 76h1v1h-1zM96 77h1v1h-1zM95 78h1v1h-1zM94 79h1v1h-1zM93 80h1v1h-1zM92 81h1v1h-1zM91 82h1v1h-1zM90 83h1v1h-1zM89 84h1v1h-1zM88 85h1v1h-1zM87 86h1v1h-1zM86 87h1v1h-1zM85 88h1v1h-1zM84 89h1v1h-1zM83 90h1v1h-1zM82 91h1v1h-1zM81 92h1v1h-1zM80 93h1v1h-1zM79 94h1v1h-1zM78 95h1v1h-1zM77 96h1v1h-1zM76 97h1v1h-1zM75 98h1v1h-1zM74 99h1v1h-1z"/><path fill="#0064cd" d="M24 16h1v1h-1zM26 16h1v1h-1zM16 24h1v1h-1zM34 24h1v1h-1zM16 26h1v1h-1zM34 26h1v1h-1zM24 34h1v1h-1zM26 34h1v1h-1zM99 75h1v1h-1zM98 76h1v1h-1zM97 77h1v1h-1zM96 78h1v1h-1zM95 79h1v1h-1zM94 80h1v1h-1zM93 81h1v1h-1zM92 82h1v1h-1zM91 83h1v1h-1zM90 84h1v1h-1zM89 85h1v1h-1zM88 86h1v1h-1zM87 87h1v1h-1zM86 88h1v1h-1zM85 89h1v1h-1zM84 90h1v1h-1zM83 91h1v1h-1zM82 92h1v1h-1zM81 93h1v1h-1zM80 94h1v1h-1zM79 95h1v1h-1zM78 96h1v1h-1zM77 97h1v1h-1zM76 98h1v1h-1zM75 99h1v1h-1z"/><path fill="#0062ce" d="M25 16h1v1h-1zM16 25h1v1h-1zM34 25h1v1h-1zM25 34h1v1h-1z"/><path fill="#0061ce" d="M21 17h1v1h-1zM29 17h1v1h-1zM17 21h1v1h-1zM33 21h1v1h-1zM17 29h1v1h-1zM33 29h1v1h-1zM21 33h1v1h-1zM29 33h1v1h-1zM99 76h1v1h-1zM98 77h1v1h-1zM97 78h1v1h-1zM96 79h1v1h-1zM95 80h1v1h-1zM94 81h1v1h-1zM93 82h1v1h-1zM92 83h1v1h-1zM91 84h1v1h-1zM90 85h1v1h-1zM89 86h1v1h-1zM88 87h1v1h-1zM87 88h1v1h-1zM86 89h1v1h-1zM85 90h1v1h-1zM84 91h1v1h-1zM83 92h1v1h-1zM82 93h1v1h-1zM81 94h1v1h-1zM80 95h1v1h-1zM79 96h1v1h-1zM78 97h1v1h-1zM77 98h1v1h-1zM76 99h1v1h-1z"/><path fill="#005fd0" d="M99 77h1v1h-1zM98 78h1v1h-1zM97 79h1v1h-1zM96 80h1v1h-1zM95 81h1v1h-1zM94 82h1v1h-1zM93 83h1v1h-1zM92 84h1v1h-1zM91 85h1v1h-1zM90 86h1v1h-1zM89 87h1v1h-1zM88 88h1v1h-1zM87 89h1v1h-1zM86 90h1v1h-1zM85 91h1v1h-1zM84 92h1v1h-1zM83 93h1v1h-1zM82 94h1v1h-1zM81 95h1v1h-1zM80 96h1v1h-1zM79 97h1v1h-1zM78 98h1v1h-1zM77 99h1v1h-1z"/><path fill="#005cd1" d="M99 78h1v1h-1zM98 79h1v1h-1zM97 80h1v1h-1zM96 81h1v1h-1zM95 82h1v1h-1zM94 83h1v1h-1zM93 84h1v1h-1zM92 85h1v1h-1zM91 86h1v1h-1zM90 87h1v1h-1zM89 88h1v1h-1zM88 89h1v1h-1zM87 90h1v1h-1zM86 91h1v1h-1zM85 92h1v1h-1zM84 93h1v1h-1zM83 94h1v1h-1zM82 95h1v1h-1zM81 96h1v1h-1zM80 97h1v1h-1zM79 98h1v1h-1zM78 99h1v1h-1z"/><path fill="#005ad2" d="M20 18h1v1h-1zM30 18h1v1h-1zM18 20h1v1h-1zM32 20h1v1h-1zM18 30h1v1h-1zM32 30h1v1h-1zM20 32h1v1h-1zM30 32h1v1h-1z"/><path fill="#0059d2" d="M22 17h1v1h-1zM28 17h1v1h-1zM17 22h1v1h-1zM33 22h1v1h-1zM17 28h1v1h-1zM33 28h1v1h-1zM22 33h1v1h-1zM28 33h1v1h-1zM99 79h1v1h-1zM98 80h1v1h-1zM97 81h1v1h-1zM96 82h1v1h-1zM95 83h1v1h-1zM94 84h1v1h-1zM93 85h1v1h-1zM92 86h1v1h-1zM91 87h1v1h-1zM90 88h1v1h-1zM89 89h1v1h-1zM88 90h1v1h-1zM87 91h1v1h-1zM86 92h1v1h-1zM85 93h1v1h-1zM84 94h1v1h-1zM83 95h1v1h-1zM82 96h1v1h-1zM81 97h1v1h-1zM80 98h1v1h-1zM79 99h1v1h-1z"/><path fill="#0057d3" d="M19 19h1v1h-1zM31 19h1v1h-1zM19 31h1v1h-1zM31 31h1v1h-1zM99 80h1v1h-1zM98 81h1v1h-1zM97 82h1v1h-1zM96 83h1v1h-1zM95 84h1v1h-1zM94 85h1v1h-1zM93 86h1v1h-1zM92 87h1v1h-1zM91 88h1v1h-1zM90 89h1v1h-1zM89 90h1v1h-1zM88 91h1v1h-1zM87 92h1v1h-1zM86 93h1v1h-1zM85 94h1v1h-1zM84 95h1v1h-1zM83 96h1v1h-1zM82 97h1v1h-1zM81 98h1v1h-1zM80 99h1v1h-1z"/><path fill="#0054d5" d="M99 81h1v1h-1zM98 82h1v1h-1zM97 83h1v1h-1zM96 84h1v1h-1zM95 85h1v1h-1zM94 86h1v1h-1zM93 87h1v1h-1zM92 88h1v1h-1zM91 89h1v1h-1zM90 90h1v1h-1zM89 91h1v1h-1zM88 92h1v1h-1zM87 93h1v1h-1zM86 94h1v1h-1zM85 95h1v1h-1zM84 96h1v1h-1zM83 97h1v1h-1zM82 98h1v1h-1zM81 99h1v1h-1z"/><path fill="#0053d6" d="M23 17h1v1h-1zM27 17h1v1h-1zM17 23h1v1h-1zM33 23h1v1h-1zM17 27h1v1h-1zM33 27h1v1h-1zM23 33h1v1h-1zM27 33h1v1h-1z"/><path fill="#0051d6" d="M99 82h1v1h-1zM98 83h1v1h-1zM97 84h1v1h-1zM96 85h1v1h-1zM95 86h1v1h-1zM94 87h1v1h-1zM93 88h1v1h-1zM92 89h1v1h-1zM91 90h1v1h-1zM90 91h1v1h-1zM89 92h1v1h-1zM88 93h1v1h-1zM87 94h1v1h-1zM86 95h1v1h-1zM85 96h1v1h-1zM84 97h1v1h-1zM83 98h1v1h-1zM82 99h1v1h-1z"/><path fill="#004fd8" d="M24 17h1v1h-1zM26 17h1v1h-1zM21 18h1v1h-1zM29 18h1v1h-1zM18 21h1v1h-1zM32 21h1v1h-1zM17 24h1v1h-1zM33 24h1v1h-1zM17 26h1v1h-1zM33 26h1v1h-1zM18 29h1v1h-1zM32 29h1v1h-1zM21 32h1v1h-1zM29 32h1v1h-1zM24 33h1v1h-1zM26 33h1v1h-1zM99 83h1v1h-1zM98 84h1v1h-1zM97 85h1v1h-1zM96 86h1v1h-1zM95 87h1v1h-1zM94 88h1v1h-1zM93 89h1v1h-1zM92 90h1v1h-1zM91 91h1v1h-1zM90 92h1v1h-1zM89 93h1v1h-1zM88 94h1v1h-1zM87 95h1v1h-1zM86 96h1v1h-1zM85 97h1v1h-1zM84 98h1v1h-1zM83 99h1v1h-1z"/><path fill="#004ed8" d="M25 17h1v1h-1zM17 25h1v1h-1zM33 25h1v1h-1zM25 33h1v1h-1z"/><path fill="#004cd9" d="M99 84h1v1h-1zM98 85h1v1h-1zM97 86h1v1h-1zM96 87h1v1h-1zM95 88h1v1h-1zM94 89h1v1h-1zM93 90h1v1h-1zM92 91h1v1h-1zM91 92h1v1h-1zM90 93h1v1h-1zM89 94h1v1h-1zM88 95h1v1h-1zM87 96h1v1h-1zM86 97h1v1h-1zM85 98h1v1h-1zM84 99h1v1h-1z"/><path fill="#004ada" d="M20 19h1v1h-1zM30 19h1v1h-1zM19 20h1v1h-1zM31 20h1v1h-1zM19 30h1v1h-1zM31 30h1v1h-1zM20 31h1v1h-1zM30 31h1v1h-1z"/><path fill="#0049db" d="M99 85h1v1h-1zM98 86h1v1h-1zM97 87h1v1h-1zM96 88h1v1h-1zM95 89h1v1h-1zM94 90h1v1h-1zM93 91h1v1h-1zM92 92h1v1h-1zM91 93h1v1h-1zM90 94h1v1h-1zM89 95h1v1h-1zM88 96h1v1h-1zM87 97h1v1h-1zM86 98h1v1h-1zM85 99h1v1h-1z"/><path fill="#0047dc" d="M99 86h1v1h-1zM98 87h1v1h-1zM97 88h1v1h-1zM96 89h1v1h-1zM95 90h1v1h-1zM94 91h1v1h-1zM93 92h1v1h-1zM92 93h1v1h-1zM91 94h1v1h-1zM90 95h1v1h-1zM89 96h1v1h-1zM88 97h1v1h-1zM87 98h1v1h-1zM86 99h1v1h-1z"/><path fill="#0046dc" d="M22 18h1v1h-1zM28 18h1v1h-1zM18 22h1v1h-1zM32 22h1v1h-1zM18 28h1v1h-1zM32 28h1v1h-1zM22 32h1v1h-1zM28 32h1v1h-1z"/><path fill="#0044dd" d="M99 87h1v1h-1zM98 88h1v1h-1zM97 89h1v1h-1zM96 90h1v1h-1zM95 91h1v1h-1zM94 92h1v1h-1zM93 93h1v1h-1zM92 94h1v1h-1zM91 95h1v1h-1zM90 96h1v1h-1zM89 97h1v1h-1zM88 98h1v1h-1zM87 99h1v1h-1z"/><path fill="#0041de" d="M99 88h1v1h-1zM98 89h1v1h-1zM97 90h1v1h-1zM96 91h1v1h-1zM95 92h1v1h-1zM94 93h1v1h-1zM93 94h1v1h-1zM92 95h1v1h-1zM91 96h1v1h-1zM90 97h1v1h-1zM89 98h1v1h-1zM88 99h1v1h-1z"/><path fill="#0040df" d="M23 18h1v1h-1zM27 18h1v1h-1zM18 23h1v1h-1zM32 23h1v1h-1zM18 27h1v1h-1zM32 27h1v1h-1zM23 32h1v1h-1zM27 32h1v1h-1z"/><path fill="#003fe0" d="M21 19h1v1h-1zM29 19h1v1h-1zM19 21h1v1h-1zM31 21h1v1h-1zM19 29h1v1h-1zM31 29h1v1h-1zM21 31h1v1h-1zM29 31h1v1h-1zM99 89h1v1h-1zM98 90h1v1h-1zM97 91h1v1h-1zM96 92h1v1h-1zM95 93h1v1h-1zM94 94h1v1h-1zM93 95h1v1h-1zM92 96h1v1h-1zM91 97h1v1h-1zM90 98h1v1h-1zM89 99h1v1h-1z"/><path fill="#003de0" d="M24 18h1v1h-1zM26 18h1v1h-1zM20 20h1v1h-1zM30 20h1v1h-1zM18 24h1v1h-1zM32 24h1v1h-1zM18 26h1v1h-1zM32 26h1v1h-1zM20 30h1v1h-1zM30 30h1v1h-1zM24 32h1v1h-1zM26 32h1v1h-1z"/><path fill="#003ce1" d="M25 18h1v1h-1zM18 25h1v1h-1zM32 25h1v1h-1zM25 32h1v1h-1zM99 90h1v1h-1zM98 91h1v1h-1zM97 92h1v1h-1zM96 93h1v1h-1zM95 94h1v1h-1zM94 95h1v1h-1zM93 96h1v1h-1zM92 97h1v1h-1zM91 98h1v1h-1zM90 99h1v1h-1z"/><path fill="#0039e2" d="M99 91h1v1h-1zM98 92h1v1h-1zM97 93h1v1h-1zM96 94h1v1h-1zM95 95h1v1h-1zM94 96h1v1h-1zM93 97h1v1h-1zM92 98h1v1h-1zM91 99h1v1h-1z"/><path fill="#0037e3" d="M22 19h1v1h-1zM28 19h1v1h-1zM19 22h1v1h-1zM31 22h1v1h-1zM19 28h1v1h-1zM31 28h1v1h-1zM22 31h1v1h-1zM28 31h1v1h-1zM99 92h1v1h-1zM98 93h1v1h-1zM97 94h1v1h-1zM96 95h1v1h-1zM95 96h1v1h-1zM94 97h1v1h-1zM93 98h1v1h-1zM92 99h1v1h-1z"/><path fill="#0034e5" d="M99 93h1v1h-1zM98 94h1v1h-1zM97 95h1v1h-1zM96 96h1v1h-1zM95 97h1v1h-1zM94 98h1v1h-1zM93 99h1v1h-1z"/><path fill="#0032e6" d="M21 20h1v1h-1zM29 20h1v1h-1zM20 21h1v1h-1zM30 21h1v1h-1zM20 29h1v1h-1zM30 29h1v1h-1zM21 30h1v1h-1zM29 30h1v1h-1z"/><path fill="#0031e6" d="M23 19h1v1h-1zM27 19h1v1h-1zM19 23h1v1h-1zM31 23h1v1h-1zM19 27h1v1h-1zM31 27h1v1h-1zM23 31h1v1h-1zM27 31h1v1h-1zM99 94h1v1h-1zM98 95h1v1h-1zM97 96h1v1h-1zM96 97h1v1h-1zM95 98h1v1h-1zM94 99h1v1h-1z"/><path fill="#002fe8" d="M99 95h1v1h-1zM98 96h1v1h-1zM97 97h1v1h-1zM96 98h1v1h-1zM95 99h1v1h-1z"/><path fill="#002de8" d="M24 19h1v1h-1zM26 19h1v1h-1zM19 24h1v1h-1zM31 24h1v1h-1zM19 26h1v1h-1zM31 26h1v1h-1zM24 31h1v1h-1zM26 31h1v1h-1z"/><path fill="#002ce9" d="M25 19h1v1h-1zM19 25h1v1h-1zM31 25h1v1h-1zM25 31h1v1h-1zM99 96h1v1h-1zM98 97h1v1h-1zM97 98h1v1h-1zM96 99h1v1h-1z"/><path fill="#0029eb" d="M22 20h1v1h-1zM28 20h1v1h-1zM20 22h1v1h-1zM30 22h1v1h-1zM20 28h1v1h-1zM30 28h1v1h-1zM22 30h1v1h-1zM28 30h1v1h-1zM99 97h1v1h-1zM98 98h1v1h-1zM97 99h1v1h-1z"/><path fill="#0027ec" d="M21 21h1v1h-1zM29 21h1v1h-1zM21 29h1v1h-1zM29 29h1v1h-1zM99 98h1v1h-1zM98 99h1v1h-1z"/><path fill="#0024ed" d="M99 99h1v1h-1z"/><path fill="#0023ee" d="M23 20h1v1h-1zM27 20h1v1h-1zM20 23h1v1h-1zM30 23h1v1h-1zM20 27h1v1h-1zM30 27h1v1h-1zM23 30h1v1h-1zM27 30h1v1h-1z"/><path fill="#0020ef" d="M24 20h1v1h-1zM26 20h1v1h-1zM20 24h1v1h-1zM30 24h1v1h-1zM20 26h1v1h-1zM30 26h1v1h-1zM24 30h1v1h-1zM26 30h1v1h-1z"/><path fill="#001ef0" d="M25 20h1v1h-1zM22 21h1v1h-1zM28 21h1v1h-1zM21 22h1v1h-1zM29 22h1v1h-1zM20 25h1v1h-1zM30 25h1v1h-1zM21 28h1v1h-1zM29 28h1v1h-1zM22 29h1v1h-1zM28 29h1v1h-1zM25 30h1v1h-1z"/><path fill="#0018f3" d="M23 21h1v1h-1zM27 21h1v1h-1zM21 23h1v1h-1zM29 23h1v1h-1zM21 27h1v1h-1zM29 27h1v1h-1zM23 29h1v1h-1zM27 29h1v1h-1z"/><path fill="#0016f4" d="M22 22h1v1h-1zM28 22h1v1h-1zM22 28h1v1h-1zM28 28h1v1h-1z"/><path fill="#0015f4" d="M24 21h1v1h-1zM26 21h1v1h-1zM21 24h1v1h-1zM29 24h1v1h-1zM21 26h1v1h-1zM29 26h1v1h-1zM24 29h1v1h-1zM26 29h1v1h-1z"/><path fill="#0013f6" d="M25 21h1v1h-1zM21 25h1v1h-1zM29 25h1v1h-1zM25 29h1v1h-1z"/><path fill="#0010f7" d="M23 22h1v1h-1zM27 22h1v1h-1zM22 23h1v1h-1zM28 23h1v1h-1zM22 27h1v1h-1zM28 27h1v1h-1zM23 28h1v1h-1zM27 28h1v1h-1z"/><path fill="#000cf9" d="M24 22h1v1h-1zM26 22h1v1h-1zM22 24h1v1h-1zM28 24h1v1h-1zM22 26h1v1h-1zM28 26h1v1h-1zM24 28h1v1h-1zM26 28h1v1h-1z"/><path fill="#000bfa" d="M25 22h1v1h-1zM22 25h1v1h-1zM28 25h1v1h-1zM25 28h1v1h-1z"/><path fill="#000afa" d="M23 23h1v1h-1zM27 23h1v1h-1zM23 27h1v1h-1zM27 27h1v1h-1z"/><path fill="#0006fc" d="M24 23h1v1h-1zM26 23h1v1h-1zM23 24h1v1h-1zM27 24h1v1h-1zM23 26h1v1h-1zM27 26h1v1h-1zM24 27h1v1h-1zM26 27h1v1h-1z"/><path fill="#0005fc" d="M25 23h1v1h-1zM23 25h1v1h-1zM27 25h1v1h-1zM25 27h1v1h-1z"/><path fill="#0002fe" d="M24 24h1v1h-1zM26 24h1v1h-1zM24 26h1v1h-1zM26 26h1v1h-1z"/><path fill="#0001fe" d="M25 24h1v1h-1zM24 25h1v1h-1zM26 25h1v1h-1zM25 26h1v1h-1z"/><path fill="#0000ff" d="M25 25h1v1h-1z"/>
</g></g>
<path d="M105.75 1508v10.65M227.46 1508v10.65M349.16 1508v10.65M470.87 1508v10.65M592.58 1508v10.65M105.75 905.4h-10.65M105.75 1027.14h-10.65M105.75 1148.87h-10.65M105.75 1270.61h-10.65M105.75 1392.35h-10.65" stroke="#000" stroke-width="2.3" fill="none"/>
<rect x="105.75" y="905.4" width="602.45" height="602.6" fill="none" stroke="#000" stroke-width="2.3"/>
<text x="105.75" y="1548.3" font-family='"DejaVu Sans","Liberation Sans",sans-serif' font-size="28.2" text-anchor="middle" fill="#000">0</text>
<text x="227.46" y="1548.3" font-family='"DejaVu Sans","Liberation Sans",sans-serif' font-size="28.2" text-anchor="middle" fill="#000">20</text>
<text x="349.16" y="1548.3" font-family='"DejaVu Sans","Liberation Sans",sans-serif' font-size="28.2" text-anchor="middle" fill="#000">40</text>
<text x="470.87" y="1548.3" font-family='"DejaVu Sans","Liberation Sans",sans-serif' font-size="28.2" text-anchor="middle" fill="#000">60</text>
<text x="592.58" y="1548.3" font-family='"DejaVu Sans","Liberation Sans",sans-serif' font-size="28.2" text-anchor="middle" fill="#000">80</text>
<text x="85.55" y="915.7" font-family='"DejaVu Sans","Liberation Sans",sans-serif' font-size="28.2" text-anchor="end" fill="#000">0</text>
<text x="85.55" y="1037.44" font-family='"DejaVu Sans","Liberation Sans",sans-serif' font-size="28.2" text-anchor="end" fill="#000">20</text>
<text x="85.55" y="1159.17" font-family='"DejaVu Sans","Liberation Sans",sans-serif' font-size="28.2" text-anchor="end" fill="#000">40</text>
<text x="85.55" y="1280.91" font-family='"DejaVu Sans","Liberation Sans",sans-serif' font-size="28.2" text-anchor="end" fill="#000">60</text>
<text x="85.55" y="1402.65" font-family='"DejaVu Sans","Liberation Sans",sans-serif' font-size="28.2" text-anchor="end" fill="#000">80</text>
<text x="406.98" y="1588" font-family='"DejaVu Sans","Liberation Sans",sans-serif' font-size="28.2" text-anchor="middle" fill="#000">Pixel Col</text>
<text transform="translate(31.75,1206.7) rotate(-90)" font-family='"DejaVu Sans","Liberation Sans",sans-serif' font-size="28.2" text-anchor="middle" fill="#000">Pixel Row</text>
<text x="406.98" y="849.4" font-family='"DejaVu Sans","Liberation Sans",sans-serif' font-size="34.1" text-anchor="middle" fill="#000">5 [m] Coastal Inundation Applied</text>
<text x="406.98" y="887.6" font-family='"DejaVu Sans","Liberation Sans",sans-serif' font-size="34.1" text-anchor="middle" fill="#000">Ocean Connectivity Enforced</text>
<rect x="781.4" y="905.4" width="30.9" height="602.6" fill="url(#wg)" stroke="#000" stroke-width="1.9"/>
<text x="832.3" y="1518.4" font-family='"DejaVu Sans","Liberation Sans",sans-serif' font-size="28.2" text-anchor="start" fill="#000">0</text>
<text x="832.3" y="1392.2" font-family='"DejaVu Sans","Liberation Sans",sans-serif' font-size="28.2" text-anchor="start" fill="#000">2</text>
<text x="832.3" y="1266" font-family='"DejaVu Sans","Liberation Sans",sans-serif' font-size="28.2" text-anchor="start" fill="#000">4</text>
<text x="832.3" y="1139.8" font-family='"DejaVu Sans","Liberation Sans",sans-serif' font-size="28.2" text-anchor="start" fill="#000">6</text>
<text x="832.3" y="1013.6" font-family='"DejaVu Sans","Liberation Sans",sans-serif' font-size="28.2" text-anchor="start" fill="#000">8</text>
<path d="M812.3 1508h10.65M812.3 1381.8h10.65M812.3 1255.6h10.65M812.3 1129.4h10.65M812.3 1003.2h10.65" stroke="#000" stroke-width="2.3" fill="none"/>
<text transform="translate(882,1206.7) rotate(-90)" font-family='"DejaVu Sans","Liberation Sans",sans-serif' font-size="28.2" text-anchor="middle" fill="#000">Inundation [m]</text>
<text x="15.7" y="833.9" font-family='"Liberation Sans","DejaVu Sans",sans-serif' font-size="34" text-anchor="start" font-weight="bold" fill="#000">B</text>
<g transform="translate(1025.3,905.4) scale(6.02300,6.02600)" shape-rendering="crispEdges">
<path fill="#000" d="M21 16h9v1h-9zM20 17h11v1h-11zM99 17h1v1h-1zM18 18h15v1h-15zM71 18h9v1h-9zM98 18h2v1h-2zM18 19h15v1h-15zM69 19h12v1h-12zM97 19h3v1h-3zM17 20h17v1h-17zM68 20h14v1h-14zM96 20h4v1h-4zM16 21h19v1h-19zM68 21h15v1h-15zM95 21h5v1h-5zM16 22h19v1h-19zM67 22h16v1h-16zM94 22h6v1h-6zM16 23h19v1h-19zM67 23h16v1h-16zM93 23h7v1h-7zM16 24h19v1h-19zM67 24h16v1h-16zM92 24h8v1h-8zM16 25h19v1h-19zM67 25h16v1h-16zM91 25h9v1h-9zM16 26h19v1h-19zM67 26h16v1h-16zM90 26h10v1h-10zM16 27h19v1h-19zM67 27h16v1h-16zM89 27h11v1h-11zM16 28h19v1h-19zM67 28h16v1h-16zM88 28h12v1h-12zM16 29h19v1h-19zM67 29h16v1h-16zM87 29h13v1h-13zM17 30h17v1h-17zM67 30h15v1h-15zM86 30h14v1h-14zM18 31h16v1h-16zM68 31h13v1h-13zM85 31h15v1h-15zM18 32h17v1h-17zM69 32h12v1h-12zM84 32h16v1h-16zM20 33h16v1h-16zM70 33h9v1h-9zM83 33h17v1h-17zM21 34h9v1h-9zM32 34h5v1h-5zM82 34h18v1h-18zM33 35h5v1h-5zM81 35h19v1h-19zM34 36h5v1h-5zM80 36h20v1h-20zM35 37h5v1h-5zM79 37h21v1h-21zM36 38h5v1h-5zM78 38h22v1h-22zM37 39h5v1h-5zM77 39h23v1h-23zM38 40h5v1h-5zM76 40h24v1h-24zM39 41h5v1h-5zM75 41h25v1h-25zM40 42h5v1h-5zM74 42h26v1h-26zM41 43h5v1h-5zM73 43h27v1h-27zM42 44h5v1h-5zM72 44h28v1h-28zM43 45h5v1h-5zM71 45h29v1h-29zM44 46h5v1h-5zM70 46h30v1h-30zM45 47h5v1h-5zM69 47h31v1h-31zM46 48h5v1h-5zM68 48h32v1h-32zM47 49h5v1h-5zM67 49h33v1h-33zM48 50h5v1h-5zM66 50h34v1h-34zM49 51h5v1h-5zM65 51h35v1h-35zM50 52h5v1h-5zM64 52h36v1h-36zM51 53h5v1h-5zM63 53h37v1h-37zM52 54h5v1h-5zM62 54h38v1h-38zM53 55h5v1h-5zM61 55h39v1h-39zM54 56h5v1h-5zM60 56h40v1h-40zM55 57h45v1h-45zM56 58h44v1h-44zM57 59h43v1h-43zM56 60h44v1h-44zM55 61h45v1h-45zM54 62h46v1h-46zM53 63h47v1h-47zM52 64h48v1h-48zM51 65h49v1h-49zM50 66h50v1h-50zM49 67h51v1h-51zM48 68h52v1h-52zM47 69h53v1h-53zM46 70h54v1h-54zM45 71h55v1h-55zM44 72h56v1h-56zM43 73h57v1h-57zM42 74h58v1h-58zM41 75h59v1h-59zM40 76h60v1h-60zM39 77h61v1h-61zM38 78h62v1h-62zM37 79h63v1h-63zM36 80h64v1h-64zM35 81h65v1h-65zM34 82h66v1h-66zM33 83h67v1h-67zM32 84h68v1h-68zM31 85h69v1h-69zM30 86h70v1h-70zM29 87h71v1h-71zM28 88h72v1h-72zM27 89h73v1h-73zM26 90h74v1h-74zM25 91h75v1h-75zM24 92h76v1h-76zM23 93h77v1h-77zM22 94h78v1h-78zM21 95h79v1h-79zM20 96h80v1h-80zM19 97h81v1h-81zM18 98h82v1h-82zM17 99h83v1h-83z"/>
</g>
<path d="M1028.31 1508v10.65M1148.77 1508v10.65M1269.23 1508v10.65M1389.69 1508v10.65M1510.15 1508v10.65M1025.3 908.41h-10.65M1025.3 1028.93h-10.65M1025.3 1149.45h-10.65M1025.3 1269.97h-10.65M1025.3 1390.49h-10.65" stroke="#000" stroke-width="2.3" fill="none"/>
<rect x="1025.3" y="905.4" width="602.3" height="602.6" fill="none" stroke="#000" stroke-width="2.3"/>
<text x="1028.31" y="1548.3" font-family='"DejaVu Sans","Liberation Sans",sans-serif' font-size="28.2" text-anchor="middle" fill="#000">0</text>
<text x="1148.77" y="1548.3" font-family='"DejaVu Sans","Liberation Sans",sans-serif' font-size="28.2" text-anchor="middle" fill="#000">20</text>
<text x="1269.23" y="1548.3" font-family='"DejaVu Sans","Liberation Sans",sans-serif' font-size="28.2" text-anchor="middle" fill="#000">40</text>
<text x="1389.69" y="1548.3" font-family='"DejaVu Sans","Liberation Sans",sans-serif' font-size="28.2" text-anchor="middle" fill="#000">60</text>
<text x="1510.15" y="1548.3" font-family='"DejaVu Sans","Liberation Sans",sans-serif' font-size="28.2" text-anchor="middle" fill="#000">80</text>
<text x="1005.1" y="918.71" font-family='"DejaVu Sans","Liberation Sans",sans-serif' font-size="28.2" text-anchor="end" fill="#000">0</text>
<text x="1005.1" y="1039.23" font-family='"DejaVu Sans","Liberation Sans",sans-serif' font-size="28.2" text-anchor="end" fill="#000">20</text>
<text x="1005.1" y="1159.75" font-family='"DejaVu Sans","Liberation Sans",sans-serif' font-size="28.2" text-anchor="end" fill="#000">40</text>
<text x="1005.1" y="1280.27" font-family='"DejaVu Sans","Liberation Sans",sans-serif' font-size="28.2" text-anchor="end" fill="#000">60</text>
<text x="1005.1" y="1400.79" font-family='"DejaVu Sans","Liberation Sans",sans-serif' font-size="28.2" text-anchor="end" fill="#000">80</text>
<text x="1326.45" y="1588" font-family='"DejaVu Sans","Liberation Sans",sans-serif' font-size="28.2" text-anchor="middle" fill="#000">Pixel Col</text>
<text transform="translate(951,1208.2) rotate(-90)" font-family='"DejaVu Sans","Liberation Sans",sans-serif' font-size="28.2" text-anchor="middle" fill="#000">Pixel Row</text>
<text x="1326.45" y="887.6" font-family='"DejaVu Sans","Liberation Sans",sans-serif' font-size="34.1" text-anchor="middle" fill="#000">Elevation Condition</text>
<rect x="1699.4" y="905.4" width="31" height="301.3" fill="#000"/>
<rect x="1699.4" y="905.4" width="31" height="602.6" fill="none" stroke="#000" stroke-width="2.3"/>
<text transform="translate(1762.3,1067.7) rotate(-90)" font-family='"DejaVu Sans","Liberation Sans",sans-serif' font-size="28.2" text-anchor="middle" fill="#000">Satisfied</text>
<text transform="translate(1762.3,1363.4) rotate(-90)" font-family='"DejaVu Sans","Liberation Sans",sans-serif' font-size="28.2" text-anchor="middle" fill="#000">Not Satisfied</text>
<text x="935.6" y="850" font-family='"Liberation Sans","DejaVu Sans",sans-serif' font-size="34" text-anchor="start" font-weight="bold" fill="#000">E</text>
<clipPath id="c2"><rect x="105.75" y="1719.4" width="602.45" height="602.2"/></clipPath>
<g clip-path="url(#c2)"><rect x="105.75" y="1719.4" width="602.45" height="602.2" fill="#00ff80"/>
<g transform="translate(102.71,1716.36) scale(6.08535,6.08283)" shape-rendering="crispEdges">
<path fill="#00fd80" d="M99 8h1v1h-1zM98 9h1v1h-1zM97 10h1v1h-1zM96 11h1v1h-1zM95 12h1v1h-1zM94 13h1v1h-1zM93 14h1v1h-1zM92 15h1v1h-1zM91 16h1v1h-1zM90 17h1v1h-1zM89 18h1v1h-1zM88 19h1v1h-1zM87 20h1v1h-1zM86 21h1v1h-1zM85 22h1v1h-1zM84 23h1v1h-1zM83 24h1v1h-1zM73 34h1v1h-1zM72 35h1v1h-1zM71 36h1v1h-1zM70 37h1v1h-1zM69 38h1v1h-1zM68 39h1v1h-1zM67 40h1v1h-1zM66 41h1v1h-1zM65 42h1v1h-1zM64 43h1v1h-1zM63 44h1v1h-1zM62 45h1v1h-1zM61 46h1v1h-1zM60 47h1v1h-1zM59 48h1v1h-1zM58 49h1v1h-1zM57 50h1v1h-1zM56 51h1v1h-1zM55 52h1v1h-1zM52 55h1v1h-1zM51 56h1v1h-1zM50 57h1v1h-1zM49 58h1v1h-1zM48 59h1v1h-1zM47 60h1v1h-1zM46 61h1v1h-1zM45 62h1v1h-1zM44 63h1v1h-1zM43 64h1v1h-1zM42 65h1v1h-1zM41 66h1v1h-1zM40 67h1v1h-1zM39 68h1v1h-1zM38 69h1v1h-1zM37 70h1v1h-1zM36 71h1v1h-1zM35 72h1v1h-1zM34 73h1v1h-1zM33 74h1v1h-1zM32 75h1v1h-1zM31 76h1v1h-1zM30 77h1v1h-1zM29 78h1v1h-1zM28 79h1v1h-1zM27 80h1v1h-1zM26 81h1v1h-1zM25 82h1v1h-1zM24 83h1v1h-1zM23 84h1v1h-1zM22 85h1v1h-1zM21 86h1v1h-1zM20 87h1v1h-1zM19 88h1v1h-1zM18 89h1v1h-1zM17 90h1v1h-1zM16 91h1v1h-1zM15 92h1v1h-1zM14 93h1v1h-1zM13 94h1v1h-1zM12 95h1v1h-1zM11 96h1v1h-1zM10 97h1v1h-1zM9 98h1v1h-1zM8 99h1v1h-1z"/><path fill="#00fb82" d="M67 29h1v1h-1z"/><path fill="#00fa82" d="M99 9h1v1h-1zM98 10h1v1h-1zM97 11h1v1h-1zM96 12h1v1h-1zM95 13h1v1h-1zM94 14h1v1h-1zM93 15h1v1h-1zM92 16h1v1h-1zM91 17h1v1h-1zM90 18h1v1h-1zM89 19h1v1h-1zM88 20h1v1h-1zM87 21h1v1h-1zM86 22h1v1h-1zM85 23h1v1h-1zM84 24h1v1h-1zM83 25h1v1h-1zM74 34h1v1h-1zM73 35h1v1h-1zM72 36h1v1h-1zM71 37h1v1h-1zM70 38h1v1h-1zM69 39h1v1h-1zM68 40h1v1h-1zM67 41h1v1h-1zM66 42h1v1h-1zM65 43h1v1h-1zM64 44h1v1h-1zM63 45h1v1h-1zM62 46h1v1h-1zM61 47h1v1h-1zM60 48h1v1h-1zM59 49h1v1h-1zM58 50h1v1h-1zM57 51h1v1h-1zM56 52h1v1h-1zM52 56h1v1h-1zM51 57h1v1h-1zM50 58h1v1h-1zM49 59h1v1h-1zM48 60h1v1h-1zM47 61h1v1h-1zM46 62h1v1h-1zM45 63h1v1h-1zM44 64h1v1h-1zM43 65h1v1h-1zM42 66h1v1h-1zM41 67h1v1h-1zM40 68h1v1h-1zM39 69h1v1h-1zM38 70h1v1h-1zM37 71h1v1h-1zM36 72h1v1h-1zM35 73h1v1h-1zM34 74h1v1h-1zM33 75h1v1h-1zM32 76h1v1h-1zM31 77h1v1h-1zM30 78h1v1h-1zM29 79h1v1h-1zM28 80h1v1h-1zM27 81h1v1h-1zM26 82h1v1h-1zM25 83h1v1h-1zM24 84h1v1h-1zM23 85h1v1h-1zM22 86h1v1h-1zM21 87h1v1h-1zM20 88h1v1h-1zM19 89h1v1h-1zM18 90h1v1h-1zM17 91h1v1h-1zM16 92h1v1h-1zM15 93h1v1h-1zM14 94h1v1h-1zM13 95h1v1h-1zM12 96h1v1h-1zM11 97h1v1h-1zM10 98h1v1h-1zM9 99h1v1h-1z"/><path fill="#00f883" d="M99 10h1v1h-1zM98 11h1v1h-1zM97 12h1v1h-1zM96 13h1v1h-1zM95 14h1v1h-1zM94 15h1v1h-1zM93 16h1v1h-1zM92 17h1v1h-1zM91 18h1v1h-1zM90 19h1v1h-1zM89 20h1v1h-1zM88 21h1v1h-1zM87 22h1v1h-1zM86 23h1v1h-1zM85 24h1v1h-1zM84 25h1v1h-1zM83 26h1v1h-1zM75 34h1v1h-1zM74 35h1v1h-1zM73 36h1v1h-1zM72 37h1v1h-1zM71 38h1v1h-1zM70 39h1v1h-1zM69 40h1v1h-1zM68 41h1v1h-1zM67 42h1v1h-1zM66 43h1v1h-1zM65 44h1v1h-1zM64 45h1v1h-1zM63 46h1v1h-1zM62 47h1v1h-1zM61 48h1v1h-1zM60 49h1v1h-1zM59 50h1v1h-1zM58 51h1v1h-1zM57 52h1v1h-1zM56 53h1v1h-1zM53 56h1v1h-1zM52 57h1v1h-1zM51 58h1v1h-1zM50 59h1v1h-1zM49 60h1v1h-1zM48 61h1v1h-1zM47 62h1v1h-1zM46 63h1v1h-1zM45 64h1v1h-1zM44 65h1v1h-1zM43 66h1v1h-1zM42 67h1v1h-1zM41 68h1v1h-1zM40 69h1v1h-1zM39 70h1v1h-1zM38 71h1v1h-1zM37 72h1v1h-1zM36 73h1v1h-1zM35 74h1v1h-1zM34 75h1v1h-1zM33 76h1v1h-1zM32 77h1v1h-1zM31 78h1v1h-1zM30 79h1v1h-1zM29 80h1v1h-1zM28 81h1v1h-1zM27 82h1v1h-1zM26 83h1v1h-1zM25 84h1v1h-1zM24 85h1v1h-1zM23 86h1v1h-1zM22 87h1v1h-1zM21 88h1v1h-1zM20 89h1v1h-1zM19 90h1v1h-1zM18 91h1v1h-1zM17 92h1v1h-1zM16 93h1v1h-1zM15 94h1v1h-1zM14 95h1v1h-1zM13 96h1v1h-1zM12 97h1v1h-1zM11 98h1v1h-1zM10 99h1v1h-1z"/><path fill="#00f784" d="M73 17h1v1h-1zM76 17h1v1h-1z"/><path fill="#00f684" d="M68 20h1v1h-1zM81 20h1v1h-1z"/><path fill="#00f584" d="M99 11h1v1h-1zM98 12h1v1h-1zM97 13h1v1h-1zM96 14h1v1h-1zM95 15h1v1h-1zM94 16h1v1h-1zM93 17h1v1h-1zM92 18h1v1h-1zM91 19h1v1h-1zM90 20h1v1h-1zM89 21h1v1h-1zM88 22h1v1h-1zM87 23h1v1h-1zM86 24h1v1h-1zM85 25h1v1h-1zM84 26h1v1h-1zM83 27h1v1h-1zM76 34h1v1h-1zM75 35h1v1h-1zM74 36h1v1h-1zM73 37h1v1h-1zM72 38h1v1h-1zM71 39h1v1h-1zM70 40h1v1h-1zM69 41h1v1h-1zM68 42h1v1h-1zM67 43h1v1h-1zM66 44h1v1h-1zM65 45h1v1h-1zM64 46h1v1h-1zM63 47h1v1h-1zM62 48h1v1h-1zM61 49h1v1h-1zM60 50h1v1h-1zM59 51h1v1h-1zM58 52h1v1h-1zM57 53h1v1h-1zM53 57h1v1h-1zM52 58h1v1h-1zM51 59h1v1h-1zM50 60h1v1h-1zM49 61h1v1h-1zM48 62h1v1h-1zM47 63h1v1h-1zM46 64h1v1h-1zM45 65h1v1h-1zM44 66h1v1h-1zM43 67h1v1h-1zM42 68h1v1h-1zM41 69h1v1h-1zM40 70h1v1h-1zM39 71h1v1h-1zM38 72h1v1h-1zM37 73h1v1h-1zM36 74h1v1h-1zM35 75h1v1h-1zM34 76h1v1h-1zM33 77h1v1h-1zM32 78h1v1h-1zM31 79h1v1h-1zM30 80h1v1h-1zM29 81h1v1h-1zM28 82h1v1h-1zM27 83h1v1h-1zM26 84h1v1h-1zM25 85h1v1h-1zM24 86h1v1h-1zM23 87h1v1h-1zM22 88h1v1h-1zM21 89h1v1h-1zM20 90h1v1h-1zM19 91h1v1h-1zM18 92h1v1h-1zM17 93h1v1h-1zM16 94h1v1h-1zM15 95h1v1h-1zM14 96h1v1h-1zM13 97h1v1h-1zM12 98h1v1h-1zM11 99h1v1h-1z"/><path fill="#00f485" d="M69 19h1v1h-1zM80 19h1v1h-1z"/><path fill="#00f386" d="M99 12h1v1h-1zM98 13h1v1h-1zM97 14h1v1h-1zM96 15h1v1h-1zM95 16h1v1h-1zM94 17h1v1h-1zM93 18h1v1h-1zM92 19h1v1h-1zM91 20h1v1h-1zM90 21h1v1h-1zM89 22h1v1h-1zM88 23h1v1h-1zM87 24h1v1h-1zM86 25h1v1h-1zM85 26h1v1h-1zM84 27h1v1h-1zM83 28h1v1h-1zM82 29h1v1h-1zM78 33h1v1h-1zM77 34h1v1h-1zM76 35h1v1h-1zM75 36h1v1h-1zM74 37h1v1h-1zM73 38h1v1h-1zM72 39h1v1h-1zM71 40h1v1h-1zM70 41h1v1h-1zM69 42h1v1h-1zM68 43h1v1h-1zM67 44h1v1h-1zM66 45h1v1h-1zM65 46h1v1h-1zM64 47h1v1h-1zM63 48h1v1h-1zM62 49h1v1h-1zM61 50h1v1h-1zM60 51h1v1h-1zM59 52h1v1h-1zM58 53h1v1h-1zM57 54h1v1h-1zM54 57h1v1h-1zM53 58h1v1h-1zM52 59h1v1h-1zM51 60h1v1h-1zM50 61h1v1h-1zM49 62h1v1h-1zM48 63h1v1h-1zM47 64h1v1h-1zM46 65h1v1h-1zM45 66h1v1h-1zM44 67h1v1h-1zM43 68h1v1h-1zM42 69h1v1h-1zM41 70h1v1h-1zM40 71h1v1h-1zM39 72h1v1h-1zM38 73h1v1h-1zM37 74h1v1h-1zM36 75h1v1h-1zM35 76h1v1h-1zM34 77h1v1h-1zM33 78h1v1h-1zM32 79h1v1h-1zM31 80h1v1h-1zM30 81h1v1h-1zM29 82h1v1h-1zM28 83h1v1h-1zM27 84h1v1h-1zM26 85h1v1h-1zM25 86h1v1h-1zM24 87h1v1h-1zM23 88h1v1h-1zM22 89h1v1h-1zM21 90h1v1h-1zM20 91h1v1h-1zM19 92h1v1h-1zM18 93h1v1h-1zM17 94h1v1h-1zM16 95h1v1h-1zM15 96h1v1h-1zM14 97h1v1h-1zM13 98h1v1h-1zM12 99h1v1h-1z"/><path fill="#00f087" d="M99 13h1v1h-1zM98 14h1v1h-1zM97 15h1v1h-1zM96 16h1v1h-1zM74 17h2v1h-2zM95 17h1v1h-1zM94 18h1v1h-1zM93 19h1v1h-1zM92 20h1v1h-1zM91 21h1v1h-1zM90 22h1v1h-1zM89 23h1v1h-1zM88 24h1v1h-1zM87 25h1v1h-1zM86 26h1v1h-1zM85 27h1v1h-1zM84 28h1v1h-1zM83 29h1v1h-1zM82 30h1v1h-1zM81 31h1v1h-1zM80 32h1v1h-1zM79 33h1v1h-1zM78 34h1v1h-1zM77 35h1v1h-1zM76 36h1v1h-1zM75 37h1v1h-1zM74 38h1v1h-1zM73 39h1v1h-1zM72 40h1v1h-1zM71 41h1v1h-1zM70 42h1v1h-1zM69 43h1v1h-1zM68 44h1v1h-1zM67 45h1v1h-1zM66 46h1v1h-1zM65 47h1v1h-1zM64 48h1v1h-1zM63 49h1v1h-1zM62 50h1v1h-1zM61 51h1v1h-1zM60 52h1v1h-1zM59 53h1v1h-1zM58 54h1v1h-1zM54 58h1v1h-1zM53 59h1v1h-1zM52 60h1v1h-1zM51 61h1v1h-1zM50 62h1v1h-1zM49 63h1v1h-1zM48 64h1v1h-1zM47 65h1v1h-1zM46 66h1v1h-1zM45 67h1v1h-1zM44 68h1v1h-1zM43 69h1v1h-1zM42 70h1v1h-1zM41 71h1v1h-1zM40 72h1v1h-1zM39 73h1v1h-1zM38 74h1v1h-1zM37 75h1v1h-1zM36 76h1v1h-1zM35 77h1v1h-1zM34 78h1v1h-1zM33 79h1v1h-1zM32 80h1v1h-1zM31 81h1v1h-1zM30 82h1v1h-1zM29 83h1v1h-1zM28 84h1v1h-1zM27 85h1v1h-1zM26 86h1v1h-1zM25 87h1v1h-1zM24 88h1v1h-1zM23 89h1v1h-1zM22 90h1v1h-1zM21 91h1v1h-1zM20 92h1v1h-1zM19 93h1v1h-1zM18 94h1v1h-1zM17 95h1v1h-1zM16 96h1v1h-1zM15 97h1v1h-1zM14 98h1v1h-1zM13 99h1v1h-1z"/><path fill="#00ef88" d="M72 33h1v1h-1zM77 33h1v1h-1z"/><path fill="#00ee88" d="M99 14h1v1h-1zM98 15h1v1h-1zM97 16h1v1h-1zM96 17h1v1h-1zM95 18h1v1h-1zM94 19h1v1h-1zM93 20h1v1h-1zM92 21h1v1h-1zM91 22h1v1h-1zM90 23h1v1h-1zM89 24h1v1h-1zM88 25h1v1h-1zM87 26h1v1h-1zM86 27h1v1h-1zM85 28h1v1h-1zM84 29h1v1h-1zM83 30h1v1h-1zM82 31h1v1h-1zM81 32h1v1h-1zM80 33h1v1h-1zM79 34h1v1h-1zM78 35h1v1h-1zM77 36h1v1h-1zM76 37h1v1h-1zM75 38h1v1h-1zM74 39h1v1h-1zM73 40h1v1h-1zM72 41h1v1h-1zM71 42h1v1h-1zM70 43h1v1h-1zM69 44h1v1h-1zM68 45h1v1h-1zM67 46h1v1h-1zM66 47h1v1h-1zM65 48h1v1h-1zM64 49h1v1h-1zM63 50h1v1h-1zM62 51h1v1h-1zM61 52h1v1h-1zM60 53h1v1h-1zM59 54h1v1h-1zM58 55h1v1h-1zM55 58h1v1h-1zM54 59h1v1h-1zM53 60h1v1h-1zM52 61h1v1h-1zM51 62h1v1h-1zM50 63h1v1h-1zM49 64h1v1h-1zM48 65h1v1h-1zM47 66h1v1h-1zM46 67h1v1h-1zM45 68h1v1h-1zM44 69h1v1h-1zM43 70h1v1h-1zM42 71h1v1h-1zM41 72h1v1h-1zM40 73h1v1h-1zM39 74h1v1h-1zM38 75h1v1h-1zM37 76h1v1h-1zM36 77h1v1h-1zM35 78h1v1h-1zM34 79h1v1h-1zM33 80h1v1h-1zM32 81h1v1h-1zM31 82h1v1h-1zM30 83h1v1h-1zM29 84h1v1h-1zM28 85h1v1h-1zM27 86h1v1h-1zM26 87h1v1h-1zM25 88h1v1h-1zM24 89h1v1h-1zM23 90h1v1h-1zM22 91h1v1h-1zM21 92h1v1h-1zM20 93h1v1h-1zM19 94h1v1h-1zM18 95h1v1h-1zM17 96h1v1h-1zM16 97h1v1h-1zM15 98h1v1h-1zM14 99h1v1h-1z"/><path fill="#00ed88" d="M67 22h1v1h-1zM82 22h1v1h-1zM70 32h1v1h-1zM79 32h1v1h-1z"/><path fill="#00ec89" d="M99 15h1v1h-1zM98 16h1v1h-1zM97 17h1v1h-1zM96 18h1v1h-1zM95 19h1v1h-1zM94 20h1v1h-1zM93 21h1v1h-1zM92 22h1v1h-1zM91 23h1v1h-1zM90 24h1v1h-1zM89 25h1v1h-1zM88 26h1v1h-1zM87 27h1v1h-1zM86 28h1v1h-1zM85 29h1v1h-1zM84 30h1v1h-1zM83 31h1v1h-1zM82 32h1v1h-1zM81 33h1v1h-1zM80 34h1v1h-1zM79 35h1v1h-1zM78 36h1v1h-1zM77 37h1v1h-1zM76 38h1v1h-1zM75 39h1v1h-1zM74 40h1v1h-1zM73 41h1v1h-1zM72 42h1v1h-1zM71 43h1v1h-1zM70 44h1v1h-1zM69 45h1v1h-1zM68 46h1v1h-1zM67 47h1v1h-1zM66 48h1v1h-1zM65 49h1v1h-1zM64 50h1v1h-1zM63 51h1v1h-1zM62 52h1v1h-1zM61 53h1v1h-1zM60 54h1v1h-1zM59 55h1v1h-1zM55 59h1v1h-1zM54 60h1v1h-1zM53 61h1v1h-1zM52 62h1v1h-1zM51 63h1v1h-1zM50 64h1v1h-1zM49 65h1v1h-1zM48 66h1v1h-1zM47 67h1v1h-1zM46 68h1v1h-1zM45 69h1v1h-1zM44 70h1v1h-1zM43 71h1v1h-1zM42 72h1v1h-1zM41 73h1v1h-1zM40 74h1v1h-1zM39 75h1v1h-1zM38 76h1v1h-1zM37 77h1v1h-1zM36 78h1v1h-1zM35 79h1v1h-1zM34 80h1v1h-1zM33 81h1v1h-1zM32 82h1v1h-1zM31 83h1v1h-1zM30 84h1v1h-1zM29 85h1v1h-1zM28 86h1v1h-1zM27 87h1v1h-1zM26 88h1v1h-1zM25 89h1v1h-1zM24 90h1v1h-1zM23 91h1v1h-1zM22 92h1v1h-1zM21 93h1v1h-1zM20 94h1v1h-1zM19 95h1v1h-1zM18 96h1v1h-1zM17 97h1v1h-1zM16 98h1v1h-1zM15 99h1v1h-1z"/><path fill="#00e98a" d="M99 16h1v1h-1zM98 17h1v1h-1zM97 18h1v1h-1zM96 19h1v1h-1zM95 20h1v1h-1zM94 21h1v1h-1zM93 22h1v1h-1zM92 23h1v1h-1zM91 24h1v1h-1zM90 25h1v1h-1zM89 26h1v1h-1zM88 27h1v1h-1zM87 28h1v1h-1zM86 29h1v1h-1zM85 30h1v1h-1zM84 31h1v1h-1zM83 32h1v1h-1zM82 33h1v1h-1zM81 34h1v1h-1zM80 35h1v1h-1zM79 36h1v1h-1zM78 37h1v1h-1zM77 38h1v1h-1zM76 39h1v1h-1zM75 40h1v1h-1zM74 41h1v1h-1zM73 42h1v1h-1zM72 43h1v1h-1zM71 44h1v1h-1zM70 45h1v1h-1zM69 46h1v1h-1zM68 47h1v1h-1zM67 48h1v1h-1zM66 49h1v1h-1zM65 50h1v1h-1zM64 51h1v1h-1zM63 52h1v1h-1zM62 53h1v1h-1zM61 54h1v1h-1zM60 55h1v1h-1zM59 56h1v1h-1zM56 59h1v1h-1zM55 60h1v1h-1zM54 61h1v1h-1zM53 62h1v1h-1zM52 63h1v1h-1zM51 64h1v1h-1zM50 65h1v1h-1zM49 66h1v1h-1zM48 67h1v1h-1zM47 68h1v1h-1zM46 69h1v1h-1zM45 70h1v1h-1zM44 71h1v1h-1zM43 72h1v1h-1zM42 73h1v1h-1zM41 74h1v1h-1zM40 75h1v1h-1zM39 76h1v1h-1zM38 77h1v1h-1zM37 78h1v1h-1zM36 79h1v1h-1zM35 80h1v1h-1zM34 81h1v1h-1zM33 82h1v1h-1zM32 83h1v1h-1zM31 84h1v1h-1zM30 85h1v1h-1zM29 86h1v1h-1zM28 87h1v1h-1zM27 88h1v1h-1zM26 89h1v1h-1zM25 90h1v1h-1zM24 91h1v1h-1zM23 92h1v1h-1zM22 93h1v1h-1zM21 94h1v1h-1zM20 95h1v1h-1zM19 96h1v1h-1zM18 97h1v1h-1zM17 98h1v1h-1zM16 99h1v1h-1z"/><path fill="#00e88b" d="M68 30h1v1h-1zM81 30h1v1h-1z"/><path fill="#00e78c" d="M99 17h1v1h-1zM98 18h1v1h-1zM97 19h1v1h-1zM96 20h1v1h-1zM95 21h1v1h-1zM94 22h1v1h-1zM93 23h1v1h-1zM92 24h1v1h-1zM91 25h1v1h-1zM90 26h1v1h-1zM89 27h1v1h-1zM88 28h1v1h-1zM87 29h1v1h-1zM86 30h1v1h-1zM85 31h1v1h-1zM84 32h1v1h-1zM83 33h1v1h-1zM82 34h1v1h-1zM81 35h1v1h-1zM80 36h1v1h-1zM79 37h1v1h-1zM78 38h1v1h-1zM77 39h1v1h-1zM76 40h1v1h-1zM75 41h1v1h-1zM74 42h1v1h-1zM73 43h1v1h-1zM72 44h1v1h-1zM71 45h1v1h-1zM70 46h1v1h-1zM69 47h1v1h-1zM68 48h1v1h-1zM67 49h1v1h-1zM66 50h1v1h-1zM65 51h1v1h-1zM64 52h1v1h-1zM63 53h1v1h-1zM62 54h1v1h-1zM61 55h1v1h-1zM60 56h1v1h-1zM56 60h1v1h-1zM55 61h1v1h-1zM54 62h1v1h-1zM53 63h1v1h-1zM52 64h1v1h-1zM51 65h1v1h-1zM50 66h1v1h-1zM49 67h1v1h-1zM48 68h1v1h-1zM47 69h1v1h-1zM46 70h1v1h-1zM45 71h1v1h-1zM44 72h1v1h-1zM43 73h1v1h-1zM42 74h1v1h-1zM41 75h1v1h-1zM40 76h1v1h-1zM39 77h1v1h-1zM38 78h1v1h-1zM37 79h1v1h-1zM36 80h1v1h-1zM35 81h1v1h-1zM34 82h1v1h-1zM33 83h1v1h-1zM32 84h1v1h-1zM31 85h1v1h-1zM30 86h1v1h-1zM29 87h1v1h-1zM28 88h1v1h-1zM27 89h1v1h-1zM26 90h1v1h-1zM25 91h1v1h-1zM24 92h1v1h-1zM23 93h1v1h-1zM22 94h1v1h-1zM21 95h1v1h-1zM20 96h1v1h-1zM19 97h1v1h-1zM18 98h1v1h-1zM17 99h1v1h-1z"/><path fill="#00e48d" d="M71 18h1v1h-1zM78 18h1v1h-1zM99 18h1v1h-1zM98 19h1v1h-1zM97 20h1v1h-1zM96 21h1v1h-1zM95 22h1v1h-1zM94 23h1v1h-1zM93 24h1v1h-1zM92 25h1v1h-1zM91 26h1v1h-1zM90 27h1v1h-1zM67 28h1v1h-1zM82 28h1v1h-1zM89 28h1v1h-1zM88 29h1v1h-1zM87 30h1v1h-1zM69 31h1v1h-1zM80 31h1v1h-1zM86 31h1v1h-1zM85 32h1v1h-1zM84 33h1v1h-1zM83 34h1v1h-1zM82 35h1v1h-1zM81 36h1v1h-1zM80 37h1v1h-1zM79 38h1v1h-1zM78 39h1v1h-1zM77 40h1v1h-1zM76 41h1v1h-1zM75 42h1v1h-1zM74 43h1v1h-1zM73 44h1v1h-1zM72 45h1v1h-1zM71 46h1v1h-1zM70 47h1v1h-1zM69 48h1v1h-1zM68 49h1v1h-1zM67 50h1v1h-1zM66 51h1v1h-1zM65 52h1v1h-1zM64 53h1v1h-1zM63 54h1v1h-1zM62 55h1v1h-1zM61 56h1v1h-1zM60 57h1v1h-1zM57 60h1v1h-1zM56 61h1v1h-1zM55 62h1v1h-1zM54 63h1v1h-1zM53 64h1v1h-1zM52 65h1v1h-1zM51 66h1v1h-1zM50 67h1v1h-1zM49 68h1v1h-1zM48 69h1v1h-1zM47 70h1v1h-1zM46 71h1v1h-1zM45 72h1v1h-1zM44 73h1v1h-1zM43 74h1v1h-1zM42 75h1v1h-1zM41 76h1v1h-1zM40 77h1v1h-1zM39 78h1v1h-1zM38 79h1v1h-1zM37 80h1v1h-1zM36 81h1v1h-1zM35 82h1v1h-1zM34 83h1v1h-1zM33 84h1v1h-1zM32 85h1v1h-1zM31 86h1v1h-1zM30 87h1v1h-1zM29 88h1v1h-1zM28 89h1v1h-1zM27 90h1v1h-1zM26 91h1v1h-1zM25 92h1v1h-1zM24 93h1v1h-1zM23 94h1v1h-1zM22 95h1v1h-1zM21 96h1v1h-1zM20 97h1v1h-1zM19 98h1v1h-1zM18 99h1v1h-1z"/><path fill="#00e28e" d="M99 19h1v1h-1zM98 20h1v1h-1zM97 21h1v1h-1zM96 22h1v1h-1zM95 23h1v1h-1zM94 24h1v1h-1zM93 25h1v1h-1zM92 26h1v1h-1zM91 27h1v1h-1zM90 28h1v1h-1zM89 29h1v1h-1zM88 30h1v1h-1zM87 31h1v1h-1zM86 32h1v1h-1zM85 33h1v1h-1zM84 34h1v1h-1zM83 35h1v1h-1zM82 36h1v1h-1zM81 37h1v1h-1zM80 38h1v1h-1zM79 39h1v1h-1zM78 40h1v1h-1zM77 41h1v1h-1zM76 42h1v1h-1zM75 43h1v1h-1zM74 44h1v1h-1zM73 45h1v1h-1zM72 46h1v1h-1zM71 47h1v1h-1zM70 48h1v1h-1zM69 49h1v1h-1zM68 50h1v1h-1zM67 51h1v1h-1zM66 52h1v1h-1zM65 53h1v1h-1zM64 54h1v1h-1zM63 55h1v1h-1zM62 56h1v1h-1zM61 57h1v1h-1zM57 61h1v1h-1zM56 62h1v1h-1zM55 63h1v1h-1zM54 64h1v1h-1zM53 65h1v1h-1zM52 66h1v1h-1zM51 67h1v1h-1zM50 68h1v1h-1zM49 69h1v1h-1zM48 70h1v1h-1zM47 71h1v1h-1zM46 72h1v1h-1zM45 73h1v1h-1zM44 74h1v1h-1zM43 75h1v1h-1zM42 76h1v1h-1zM41 77h1v1h-1zM40 78h1v1h-1zM39 79h1v1h-1zM38 80h1v1h-1zM37 81h1v1h-1zM36 82h1v1h-1zM35 83h1v1h-1zM34 84h1v1h-1zM33 85h1v1h-1zM32 86h1v1h-1zM31 87h1v1h-1zM30 88h1v1h-1zM29 89h1v1h-1zM28 90h1v1h-1zM27 91h1v1h-1zM26 92h1v1h-1zM25 93h1v1h-1zM24 94h1v1h-1zM23 95h1v1h-1zM22 96h1v1h-1zM21 97h1v1h-1zM20 98h1v1h-1zM19 99h1v1h-1z"/><path fill="#00e18e" d="M73 33h1v1h-1zM76 33h1v1h-1z"/><path fill="#00e08f" d="M99 20h1v1h-1zM98 21h1v1h-1zM97 22h1v1h-1zM96 23h1v1h-1zM95 24h1v1h-1zM94 25h1v1h-1zM93 26h1v1h-1zM92 27h1v1h-1zM91 28h1v1h-1zM90 29h1v1h-1zM89 30h1v1h-1zM88 31h1v1h-1zM87 32h1v1h-1zM86 33h1v1h-1zM85 34h1v1h-1zM84 35h1v1h-1zM83 36h1v1h-1zM82 37h1v1h-1zM81 38h1v1h-1zM80 39h1v1h-1zM79 40h1v1h-1zM78 41h1v1h-1zM77 42h1v1h-1zM76 43h1v1h-1zM75 44h1v1h-1zM74 45h1v1h-1zM73 46h1v1h-1zM72 47h1v1h-1zM71 48h1v1h-1zM70 49h1v1h-1zM69 50h1v1h-1zM68 51h1v1h-1zM67 52h1v1h-1zM66 53h1v1h-1zM65 54h1v1h-1zM64 55h1v1h-1zM63 56h1v1h-1zM62 57h1v1h-1zM61 58h1v1h-1zM58 61h1v1h-1zM57 62h1v1h-1zM56 63h1v1h-1zM55 64h1v1h-1zM54 65h1v1h-1zM53 66h1v1h-1zM52 67h1v1h-1zM51 68h1v1h-1zM50 69h1v1h-1zM49 70h1v1h-1zM48 71h1v1h-1zM47 72h1v1h-1zM46 73h1v1h-1zM45 74h1v1h-1zM44 75h1v1h-1zM43 76h1v1h-1zM42 77h1v1h-1zM41 78h1v1h-1zM40 79h1v1h-1zM39 80h1v1h-1zM38 81h1v1h-1zM37 82h1v1h-1zM36 83h1v1h-1zM35 84h1v1h-1zM34 85h1v1h-1zM33 86h1v1h-1zM32 87h1v1h-1zM31 88h1v1h-1zM30 89h1v1h-1zM29 90h1v1h-1zM28 91h1v1h-1zM27 92h1v1h-1zM26 93h1v1h-1zM25 94h1v1h-1zM24 95h1v1h-1zM23 96h1v1h-1zM22 97h1v1h-1zM21 98h1v1h-1zM20 99h1v1h-1z"/><path fill="#00dd90" d="M99 21h1v1h-1zM98 22h1v1h-1zM97 23h1v1h-1zM96 24h1v1h-1zM95 25h1v1h-1zM94 26h1v1h-1zM93 27h1v1h-1zM92 28h1v1h-1zM91 29h1v1h-1zM90 30h1v1h-1zM89 31h1v1h-1zM88 32h1v1h-1zM87 33h1v1h-1zM86 34h1v1h-1zM85 35h1v1h-1zM84 36h1v1h-1zM83 37h1v1h-1zM82 38h1v1h-1zM81 39h1v1h-1zM80 40h1v1h-1zM79 41h1v1h-1zM78 42h1v1h-1zM77 43h1v1h-1zM76 44h1v1h-1zM75 45h1v1h-1zM74 46h1v1h-1zM73 47h1v1h-1zM72 48h1v1h-1zM71 49h1v1h-1zM70 50h1v1h-1zM69 51h1v1h-1zM68 52h1v1h-1zM67 53h1v1h-1zM66 54h1v1h-1zM65 55h1v1h-1zM64 56h1v1h-1zM63 57h1v1h-1zM62 58h1v1h-1zM58 62h1v1h-1zM57 63h1v1h-1zM56 64h1v1h-1zM55 65h1v1h-1zM54 66h1v1h-1zM53 67h1v1h-1zM52 68h1v1h-1zM51 69h1v1h-1zM50 70h1v1h-1zM49 71h1v1h-1zM48 72h1v1h-1zM47 73h1v1h-1zM46 74h1v1h-1zM45 75h1v1h-1zM44 76h1v1h-1zM43 77h1v1h-1zM42 78h1v1h-1zM41 79h1v1h-1zM40 80h1v1h-1zM39 81h1v1h-1zM38 82h1v1h-1zM37 83h1v1h-1zM36 84h1v1h-1zM35 85h1v1h-1zM34 86h1v1h-1zM33 87h1v1h-1zM32 88h1v1h-1zM31 89h1v1h-1zM30 90h1v1h-1zM29 91h1v1h-1zM28 92h1v1h-1zM27 93h1v1h-1zM26 94h1v1h-1zM25 95h1v1h-1zM24 96h1v1h-1zM23 97h1v1h-1zM22 98h1v1h-1zM21 99h1v1h-1z"/><path fill="#00db92" d="M99 22h1v1h-1zM98 23h1v1h-1zM97 24h1v1h-1zM96 25h1v1h-1zM95 26h1v1h-1zM94 27h1v1h-1zM93 28h1v1h-1zM92 29h1v1h-1zM91 30h1v1h-1zM90 31h1v1h-1zM89 32h1v1h-1zM88 33h1v1h-1zM87 34h1v1h-1zM86 35h1v1h-1zM85 36h1v1h-1zM84 37h1v1h-1zM83 38h1v1h-1zM82 39h1v1h-1zM81 40h1v1h-1zM80 41h1v1h-1zM79 42h1v1h-1zM78 43h1v1h-1zM77 44h1v1h-1zM76 45h1v1h-1zM75 46h1v1h-1zM74 47h1v1h-1zM73 48h1v1h-1zM72 49h1v1h-1zM71 50h1v1h-1zM70 51h1v1h-1zM69 52h1v1h-1zM68 53h1v1h-1zM67 54h1v1h-1zM66 55h1v1h-1zM65 56h1v1h-1zM64 57h1v1h-1zM63 58h1v1h-1zM62 59h1v1h-1zM59 62h1v1h-1zM58 63h1v1h-1zM57 64h1v1h-1zM56 65h1v1h-1zM55 66h1v1h-1zM54 67h1v1h-1zM53 68h1v1h-1zM52 69h1v1h-1zM51 70h1v1h-1zM50 71h1v1h-1zM49 72h1v1h-1zM48 73h1v1h-1zM47 74h1v1h-1zM46 75h1v1h-1zM45 76h1v1h-1zM44 77h1v1h-1zM43 78h1v1h-1zM42 79h1v1h-1zM41 80h1v1h-1zM40 81h1v1h-1zM39 82h1v1h-1zM38 83h1v1h-1zM37 84h1v1h-1zM36 85h1v1h-1zM35 86h1v1h-1zM34 87h1v1h-1zM33 88h1v1h-1zM32 89h1v1h-1zM31 90h1v1h-1zM30 91h1v1h-1zM29 92h1v1h-1zM28 93h1v1h-1zM27 94h1v1h-1zM26 95h1v1h-1zM25 96h1v1h-1zM24 97h1v1h-1zM23 98h1v1h-1zM22 99h1v1h-1z"/><path fill="#00da92" d="M67 23h1v1h-1zM82 23h1v1h-1zM74 33h2v1h-2z"/><path fill="#00d893" d="M99 23h1v1h-1zM98 24h1v1h-1zM97 25h1v1h-1zM96 26h1v1h-1zM95 27h1v1h-1zM94 28h1v1h-1zM93 29h1v1h-1zM92 30h1v1h-1zM91 31h1v1h-1zM90 32h1v1h-1zM89 33h1v1h-1zM88 34h1v1h-1zM87 35h1v1h-1zM86 36h1v1h-1zM85 37h1v1h-1zM84 38h1v1h-1zM83 39h1v1h-1zM82 40h1v1h-1zM81 41h1v1h-1zM80 42h1v1h-1zM79 43h1v1h-1zM78 44h1v1h-1zM77 45h1v1h-1zM76 46h1v1h-1zM75 47h1v1h-1zM74 48h1v1h-1zM73 49h1v1h-1zM72 50h1v1h-1zM71 51h1v1h-1zM70 52h1v1h-1zM69 53h1v1h-1zM68 54h1v1h-1zM67 55h1v1h-1zM66 56h1v1h-1zM65 57h1v1h-1zM64 58h1v1h-1zM63 59h1v1h-1zM59 63h1v1h-1zM58 64h1v1h-1zM57 65h1v1h-1zM56 66h1v1h-1zM55 67h1v1h-1zM54 68h1v1h-1zM53 69h1v1h-1zM52 70h1v1h-1zM51 71h1v1h-1zM50 72h1v1h-1zM49 73h1v1h-1zM48 74h1v1h-1zM47 75h1v1h-1zM46 76h1v1h-1zM45 77h1v1h-1zM44 78h1v1h-1zM43 79h1v1h-1zM42 80h1v1h-1zM41 81h1v1h-1zM40 82h1v1h-1zM39 83h1v1h-1zM38 84h1v1h-1zM37 85h1v1h-1zM36 86h1v1h-1zM35 87h1v1h-1zM34 88h1v1h-1zM33 89h1v1h-1zM32 90h1v1h-1zM31 91h1v1h-1zM30 92h1v1h-1zM29 93h1v1h-1zM28 94h1v1h-1zM27 95h1v1h-1zM26 96h1v1h-1zM25 97h1v1h-1zM24 98h1v1h-1zM23 99h1v1h-1z"/><path fill="#00d694" d="M68 21h1v1h-1zM81 21h1v1h-1zM99 24h1v1h-1zM98 25h1v1h-1zM97 26h1v1h-1zM96 27h1v1h-1zM95 28h1v1h-1zM94 29h1v1h-1zM93 30h1v1h-1zM92 31h1v1h-1zM91 32h1v1h-1zM90 33h1v1h-1zM89 34h1v1h-1zM88 35h1v1h-1zM87 36h1v1h-1zM86 37h1v1h-1zM85 38h1v1h-1zM84 39h1v1h-1zM83 40h1v1h-1zM82 41h1v1h-1zM81 42h1v1h-1zM80 43h1v1h-1zM79 44h1v1h-1zM78 45h1v1h-1zM77 46h1v1h-1zM76 47h1v1h-1zM75 48h1v1h-1zM74 49h1v1h-1zM73 50h1v1h-1zM72 51h1v1h-1zM71 52h1v1h-1zM70 53h1v1h-1zM69 54h1v1h-1zM68 55h1v1h-1zM67 56h1v1h-1zM66 57h1v1h-1zM65 58h1v1h-1zM64 59h1v1h-1zM63 60h1v1h-1zM60 63h1v1h-1zM59 64h1v1h-1zM58 65h1v1h-1zM57 66h1v1h-1zM56 67h1v1h-1zM55 68h1v1h-1zM54 69h1v1h-1zM53 70h1v1h-1zM52 71h1v1h-1zM51 72h1v1h-1zM50 73h1v1h-1zM49 74h1v1h-1zM48 75h1v1h-1zM47 76h1v1h-1zM46 77h1v1h-1zM45 78h1v1h-1zM44 79h1v1h-1zM43 80h1v1h-1zM42 81h1v1h-1zM41 82h1v1h-1zM40 83h1v1h-1zM39 84h1v1h-1zM38 85h1v1h-1zM37 86h1v1h-1zM36 87h1v1h-1zM35 88h1v1h-1zM34 89h1v1h-1zM33 90h1v1h-1zM32 91h1v1h-1zM31 92h1v1h-1zM30 93h1v1h-1zM29 94h1v1h-1zM28 95h1v1h-1zM27 96h1v1h-1zM26 97h1v1h-1zM25 98h1v1h-1zM24 99h1v1h-1z"/><path fill="#00d594" d="M67 27h1v1h-1zM82 27h1v1h-1z"/><path fill="#00d396" d="M99 25h1v1h-1zM98 26h1v1h-1zM97 27h1v1h-1zM96 28h1v1h-1zM95 29h1v1h-1zM94 30h1v1h-1zM93 31h1v1h-1zM92 32h1v1h-1zM91 33h1v1h-1zM90 34h1v1h-1zM89 35h1v1h-1zM88 36h1v1h-1zM87 37h1v1h-1zM86 38h1v1h-1zM85 39h1v1h-1zM84 40h1v1h-1zM83 41h1v1h-1zM82 42h1v1h-1zM81 43h1v1h-1zM80 44h1v1h-1zM79 45h1v1h-1zM78 46h1v1h-1zM77 47h1v1h-1zM76 48h1v1h-1zM75 49h1v1h-1zM74 50h1v1h-1zM73 51h1v1h-1zM72 52h1v1h-1zM71 53h1v1h-1zM70 54h1v1h-1zM69 55h1v1h-1zM68 56h1v1h-1zM67 57h1v1h-1zM66 58h1v1h-1zM65 59h1v1h-1zM64 60h1v1h-1zM60 64h1v1h-1zM59 65h1v1h-1zM58 66h1v1h-1zM57 67h1v1h-1zM56 68h1v1h-1zM55 69h1v1h-1zM54 70h1v1h-1zM53 71h1v1h-1zM52 72h1v1h-1zM51 73h1v1h-1zM50 74h1v1h-1zM49 75h1v1h-1zM48 76h1v1h-1zM47 77h1v1h-1zM46 78h1v1h-1zM45 79h1v1h-1zM44 80h1v1h-1zM43 81h1v1h-1zM42 82h1v1h-1zM41 83h1v1h-1zM40 84h1v1h-1zM39 85h1v1h-1zM38 86h1v1h-1zM37 87h1v1h-1zM36 88h1v1h-1zM35 89h1v1h-1zM34 90h1v1h-1zM33 91h1v1h-1zM32 92h1v1h-1zM31 93h1v1h-1zM30 94h1v1h-1zM29 95h1v1h-1zM28 96h1v1h-1zM27 97h1v1h-1zM26 98h1v1h-1zM25 99h1v1h-1z"/><path fill="#00d296" d="M70 19h1v1h-1zM79 19h1v1h-1zM71 32h1v1h-1zM78 32h1v1h-1z"/><path fill="#00d196" d="M99 26h1v1h-1zM98 27h1v1h-1zM97 28h1v1h-1zM96 29h1v1h-1zM95 30h1v1h-1zM94 31h1v1h-1zM93 32h1v1h-1zM92 33h1v1h-1zM91 34h1v1h-1zM90 35h1v1h-1zM89 36h1v1h-1zM88 37h1v1h-1zM87 38h1v1h-1zM86 39h1v1h-1zM85 40h1v1h-1zM84 41h1v1h-1zM83 42h1v1h-1zM82 43h1v1h-1zM81 44h1v1h-1zM80 45h1v1h-1zM79 46h1v1h-1zM78 47h1v1h-1zM77 48h1v1h-1zM76 49h1v1h-1zM75 50h1v1h-1zM74 51h1v1h-1zM73 52h1v1h-1zM72 53h1v1h-1zM71 54h1v1h-1zM70 55h1v1h-1zM69 56h1v1h-1zM68 57h1v1h-1zM67 58h1v1h-1zM66 59h1v1h-1zM65 60h1v1h-1zM64 61h1v1h-1zM61 64h1v1h-1zM60 65h1v1h-1zM59 66h1v1h-1zM58 67h1v1h-1zM57 68h1v1h-1zM56 69h1v1h-1zM55 70h1v1h-1zM54 71h1v1h-1zM53 72h1v1h-1zM52 73h1v1h-1zM51 74h1v1h-1zM50 75h1v1h-1zM49 76h1v1h-1zM48 77h1v1h-1zM47 78h1v1h-1zM46 79h1v1h-1zM45 80h1v1h-1zM44 81h1v1h-1zM43 82h1v1h-1zM42 83h1v1h-1zM41 84h1v1h-1zM40 85h1v1h-1zM39 86h1v1h-1zM38 87h1v1h-1zM37 88h1v1h-1zM36 89h1v1h-1zM35 90h1v1h-1zM34 91h1v1h-1zM33 92h1v1h-1zM32 93h1v1h-1zM31 94h1v1h-1zM30 95h1v1h-1zM29 96h1v1h-1zM28 97h1v1h-1zM27 98h1v1h-1zM26 99h1v1h-1z"/><path fill="#00d097" d="M72 18h1v1h-1zM77 18h1v1h-1z"/><path fill="#00cf98" d="M67 24h1v1h-1zM82 24h1v1h-1zM99 27h1v1h-1zM98 28h1v1h-1zM97 29h1v1h-1zM96 30h1v1h-1zM95 31h1v1h-1zM94 32h1v1h-1zM93 33h1v1h-1zM92 34h1v1h-1zM91 35h1v1h-1zM90 36h1v1h-1zM89 37h1v1h-1zM88 38h1v1h-1zM87 39h1v1h-1zM86 40h1v1h-1zM85 41h1v1h-1zM84 42h1v1h-1zM83 43h1v1h-1zM82 44h1v1h-1zM81 45h1v1h-1zM80 46h1v1h-1zM79 47h1v1h-1zM78 48h1v1h-1zM77 49h1v1h-1zM76 50h1v1h-1zM75 51h1v1h-1zM74 52h1v1h-1zM73 53h1v1h-1zM72 54h1v1h-1zM71 55h1v1h-1zM70 56h1v1h-1zM69 57h1v1h-1zM68 58h1v1h-1zM67 59h1v1h-1zM66 60h1v1h-1zM65 61h1v1h-1zM61 65h1v1h-1zM60 66h1v1h-1zM59 67h1v1h-1zM58 68h1v1h-1zM57 69h1v1h-1zM56 70h1v1h-1zM55 71h1v1h-1zM54 72h1v1h-1zM53 73h1v1h-1zM52 74h1v1h-1zM51 75h1v1h-1zM50 76h1v1h-1zM49 77h1v1h-1zM48 78h1v1h-1zM47 79h1v1h-1zM46 80h1v1h-1zM45 81h1v1h-1zM44 82h1v1h-1zM43 83h1v1h-1zM42 84h1v1h-1zM41 85h1v1h-1zM40 86h1v1h-1zM39 87h1v1h-1zM38 88h1v1h-1zM37 89h1v1h-1zM36 90h1v1h-1zM35 91h1v1h-1zM34 92h1v1h-1zM33 93h1v1h-1zM32 94h1v1h-1zM31 95h1v1h-1zM30 96h1v1h-1zM29 97h1v1h-1zM28 98h1v1h-1zM27 99h1v1h-1z"/><path fill="#00ce98" d="M69 20h1v1h-1zM80 20h1v1h-1z"/><path fill="#00cc99" d="M67 26h1v1h-1zM82 26h1v1h-1zM99 28h1v1h-1zM68 29h1v1h-1zM81 29h1v1h-1zM98 29h1v1h-1zM97 30h1v1h-1zM96 31h1v1h-1zM95 32h1v1h-1zM94 33h1v1h-1zM93 34h1v1h-1zM92 35h1v1h-1zM91 36h1v1h-1zM90 37h1v1h-1zM89 38h1v1h-1zM88 39h1v1h-1zM87 40h1v1h-1zM86 41h1v1h-1zM85 42h1v1h-1zM84 43h1v1h-1zM83 44h1v1h-1zM82 45h1v1h-1zM81 46h1v1h-1zM80 47h1v1h-1zM79 48h1v1h-1zM78 49h1v1h-1zM77 50h1v1h-1zM76 51h1v1h-1zM75 52h1v1h-1zM74 53h1v1h-1zM73 54h1v1h-1zM72 55h1v1h-1zM71 56h1v1h-1zM70 57h1v1h-1zM69 58h1v1h-1zM68 59h1v1h-1zM67 60h1v1h-1zM66 61h1v1h-1zM65 62h1v1h-1zM62 65h1v1h-1zM61 66h1v1h-1zM60 67h1v1h-1zM59 68h1v1h-1zM58 69h1v1h-1zM57 70h1v1h-1zM56 71h1v1h-1zM55 72h1v1h-1zM54 73h1v1h-1zM53 74h1v1h-1zM52 75h1v1h-1zM51 76h1v1h-1zM50 77h1v1h-1zM49 78h1v1h-1zM48 79h1v1h-1zM47 80h1v1h-1zM46 81h1v1h-1zM45 82h1v1h-1zM44 83h1v1h-1zM43 84h1v1h-1zM42 85h1v1h-1zM41 86h1v1h-1zM40 87h1v1h-1zM39 88h1v1h-1zM38 89h1v1h-1zM37 90h1v1h-1zM36 91h1v1h-1zM35 92h1v1h-1zM34 93h1v1h-1zM33 94h1v1h-1zM32 95h1v1h-1zM31 96h1v1h-1zM30 97h1v1h-1zM29 98h1v1h-1zM28 99h1v1h-1z"/><path fill="#00ca9a" d="M67 25h1v1h-1zM82 25h1v1h-1zM99 29h1v1h-1zM98 30h1v1h-1zM97 31h1v1h-1zM96 32h1v1h-1zM95 33h1v1h-1zM94 34h1v1h-1zM93 35h1v1h-1zM92 36h1v1h-1zM91 37h1v1h-1zM90 38h1v1h-1zM89 39h1v1h-1zM88 40h1v1h-1zM87 41h1v1h-1zM86 42h1v1h-1zM85 43h1v1h-1zM84 44h1v1h-1zM83 45h1v1h-1zM82 46h1v1h-1zM81 47h1v1h-1zM80 48h1v1h-1zM79 49h1v1h-1zM78 50h1v1h-1zM77 51h1v1h-1zM76 52h1v1h-1zM75 53h1v1h-1zM74 54h1v1h-1zM73 55h1v1h-1zM72 56h1v1h-1zM71 57h1v1h-1zM70 58h1v1h-1zM69 59h1v1h-1zM68 60h1v1h-1zM67 61h1v1h-1zM66 62h1v1h-1zM62 66h1v1h-1zM61 67h1v1h-1zM60 68h1v1h-1zM59 69h1v1h-1zM58 70h1v1h-1zM57 71h1v1h-1zM56 72h1v1h-1zM55 73h1v1h-1zM54 74h1v1h-1zM53 75h1v1h-1zM52 76h1v1h-1zM51 77h1v1h-1zM50 78h1v1h-1zM49 79h1v1h-1zM48 80h1v1h-1zM47 81h1v1h-1zM46 82h1v1h-1zM45 83h1v1h-1zM44 84h1v1h-1zM43 85h1v1h-1zM42 86h1v1h-1zM41 87h1v1h-1zM40 88h1v1h-1zM39 89h1v1h-1zM38 90h1v1h-1zM37 91h1v1h-1zM36 92h1v1h-1zM35 93h1v1h-1zM34 94h1v1h-1zM33 95h1v1h-1zM32 96h1v1h-1zM31 97h1v1h-1zM30 98h1v1h-1zM29 99h1v1h-1z"/><path fill="#00c79c" d="M99 30h1v1h-1zM98 31h1v1h-1zM97 32h1v1h-1zM96 33h1v1h-1zM95 34h1v1h-1zM94 35h1v1h-1zM93 36h1v1h-1zM92 37h1v1h-1zM91 38h1v1h-1zM90 39h1v1h-1zM89 40h1v1h-1zM88 41h1v1h-1zM87 42h1v1h-1zM86 43h1v1h-1zM85 44h1v1h-1zM84 45h1v1h-1zM83 46h1v1h-1zM82 47h1v1h-1zM81 48h1v1h-1zM80 49h1v1h-1zM79 50h1v1h-1zM78 51h1v1h-1zM77 52h1v1h-1zM76 53h1v1h-1zM75 54h1v1h-1zM74 55h1v1h-1zM73 56h1v1h-1zM72 57h1v1h-1zM71 58h1v1h-1zM70 59h1v1h-1zM69 60h1v1h-1zM68 61h1v1h-1zM67 62h1v1h-1zM66 63h1v1h-1zM63 66h1v1h-1zM62 67h1v1h-1zM61 68h1v1h-1zM60 69h1v1h-1zM59 70h1v1h-1zM58 71h1v1h-1zM57 72h1v1h-1zM56 73h1v1h-1zM55 74h1v1h-1zM54 75h1v1h-1zM53 76h1v1h-1zM52 77h1v1h-1zM51 78h1v1h-1zM50 79h1v1h-1zM49 80h1v1h-1zM48 81h1v1h-1zM47 82h1v1h-1zM46 83h1v1h-1zM45 84h1v1h-1zM44 85h1v1h-1zM43 86h1v1h-1zM42 87h1v1h-1zM41 88h1v1h-1zM40 89h1v1h-1zM39 90h1v1h-1zM38 91h1v1h-1zM37 92h1v1h-1zM36 93h1v1h-1zM35 94h1v1h-1zM34 95h1v1h-1zM33 96h1v1h-1zM32 97h1v1h-1zM31 98h1v1h-1zM30 99h1v1h-1z"/><path fill="#00c59c" d="M99 31h1v1h-1zM98 32h1v1h-1zM97 33h1v1h-1zM96 34h1v1h-1zM95 35h1v1h-1zM94 36h1v1h-1zM93 37h1v1h-1zM92 38h1v1h-1zM91 39h1v1h-1zM90 40h1v1h-1zM89 41h1v1h-1zM88 42h1v1h-1zM87 43h1v1h-1zM86 44h1v1h-1zM85 45h1v1h-1zM84 46h1v1h-1zM83 47h1v1h-1zM82 48h1v1h-1zM81 49h1v1h-1zM80 50h1v1h-1zM79 51h1v1h-1zM78 52h1v1h-1zM77 53h1v1h-1zM76 54h1v1h-1zM75 55h1v1h-1zM74 56h1v1h-1zM73 57h1v1h-1zM72 58h1v1h-1zM71 59h1v1h-1zM70 60h1v1h-1zM69 61h1v1h-1zM68 62h1v1h-1zM67 63h1v1h-1zM63 67h1v1h-1zM62 68h1v1h-1zM61 69h1v1h-1zM60 70h1v1h-1zM59 71h1v1h-1zM58 72h1v1h-1zM57 73h1v1h-1zM56 74h1v1h-1zM55 75h1v1h-1zM54 76h1v1h-1zM53 77h1v1h-1zM52 78h1v1h-1zM51 79h1v1h-1zM50 80h1v1h-1zM49 81h1v1h-1zM48 82h1v1h-1zM47 83h1v1h-1zM46 84h1v1h-1zM45 85h1v1h-1zM44 86h1v1h-1zM43 87h1v1h-1zM42 88h1v1h-1zM41 89h1v1h-1zM40 90h1v1h-1zM39 91h1v1h-1zM38 92h1v1h-1zM37 93h1v1h-1zM36 94h1v1h-1zM35 95h1v1h-1zM34 96h1v1h-1zM33 97h1v1h-1zM32 98h1v1h-1zM31 99h1v1h-1z"/><path fill="#00c39e" d="M73 18h1v1h-1zM76 18h1v1h-1zM99 32h1v1h-1zM98 33h1v1h-1zM97 34h1v1h-1zM96 35h1v1h-1zM95 36h1v1h-1zM94 37h1v1h-1zM93 38h1v1h-1zM92 39h1v1h-1zM91 40h1v1h-1zM90 41h1v1h-1zM89 42h1v1h-1zM88 43h1v1h-1zM87 44h1v1h-1zM86 45h1v1h-1zM85 46h1v1h-1zM84 47h1v1h-1zM83 48h1v1h-1zM82 49h1v1h-1zM81 50h1v1h-1zM80 51h1v1h-1zM79 52h1v1h-1zM78 53h1v1h-1zM77 54h1v1h-1zM76 55h1v1h-1zM75 56h1v1h-1zM74 57h1v1h-1zM73 58h1v1h-1zM72 59h1v1h-1zM71 60h1v1h-1zM70 61h1v1h-1zM69 62h1v1h-1zM68 63h1v1h-1zM67 64h1v1h-1zM64 67h1v1h-1zM63 68h1v1h-1zM62 69h1v1h-1zM61 70h1v1h-1zM60 71h1v1h-1zM59 72h1v1h-1zM58 73h1v1h-1zM57 74h1v1h-1zM56 75h1v1h-1zM55 76h1v1h-1zM54 77h1v1h-1zM53 78h1v1h-1zM52 79h1v1h-1zM51 80h1v1h-1zM50 81h1v1h-1zM49 82h1v1h-1zM48 83h1v1h-1zM47 84h1v1h-1zM46 85h1v1h-1zM45 86h1v1h-1zM44 87h1v1h-1zM43 88h1v1h-1zM42 89h1v1h-1zM41 90h1v1h-1zM40 91h1v1h-1zM39 92h1v1h-1zM38 93h1v1h-1zM37 94h1v1h-1zM36 95h1v1h-1zM35 96h1v1h-1zM34 97h1v1h-1zM33 98h1v1h-1zM32 99h1v1h-1z"/><path fill="#00c29e" d="M70 31h1v1h-1zM79 31h1v1h-1z"/><path fill="#00c09f" d="M69 30h1v1h-1zM80 30h1v1h-1zM99 33h1v1h-1zM98 34h1v1h-1zM97 35h1v1h-1zM96 36h1v1h-1zM95 37h1v1h-1zM94 38h1v1h-1zM93 39h1v1h-1zM92 40h1v1h-1zM91 41h1v1h-1zM90 42h1v1h-1zM89 43h1v1h-1zM88 44h1v1h-1zM87 45h1v1h-1zM86 46h1v1h-1zM85 47h1v1h-1zM84 48h1v1h-1zM83 49h1v1h-1zM82 50h1v1h-1zM81 51h1v1h-1zM80 52h1v1h-1zM79 53h1v1h-1zM78 54h1v1h-1zM77 55h1v1h-1zM76 56h1v1h-1zM75 57h1v1h-1zM74 58h1v1h-1zM73 59h1v1h-1zM72 60h1v1h-1zM71 61h1v1h-1zM70 62h1v1h-1zM69 63h1v1h-1zM68 64h1v1h-1zM64 68h1v1h-1zM63 69h1v1h-1zM62 70h1v1h-1zM61 71h1v1h-1zM60 72h1v1h-1zM59 73h1v1h-1zM58 74h1v1h-1zM57 75h1v1h-1zM56 76h1v1h-1zM55 77h1v1h-1zM54 78h1v1h-1zM53 79h1v1h-1zM52 80h1v1h-1zM51 81h1v1h-1zM50 82h1v1h-1zM49 83h1v1h-1zM48 84h1v1h-1zM47 85h1v1h-1zM46 86h1v1h-1zM45 87h1v1h-1zM44 88h1v1h-1zM43 89h1v1h-1zM42 90h1v1h-1zM41 91h1v1h-1zM40 92h1v1h-1zM39 93h1v1h-1zM38 94h1v1h-1zM37 95h1v1h-1zM36 96h1v1h-1zM35 97h1v1h-1zM34 98h1v1h-1zM33 99h1v1h-1z"/><path fill="#00bea0" d="M68 22h1v1h-1zM81 22h1v1h-1zM72 32h1v1h-1zM77 32h1v1h-1zM99 34h1v1h-1zM98 35h1v1h-1zM97 36h1v1h-1zM96 37h1v1h-1zM95 38h1v1h-1zM94 39h1v1h-1zM93 40h1v1h-1zM92 41h1v1h-1zM91 42h1v1h-1zM90 43h1v1h-1zM89 44h1v1h-1zM88 45h1v1h-1zM87 46h1v1h-1zM86 47h1v1h-1zM85 48h1v1h-1zM84 49h1v1h-1zM83 50h1v1h-1zM82 51h1v1h-1zM81 52h1v1h-1zM80 53h1v1h-1zM79 54h1v1h-1zM78 55h1v1h-1zM77 56h1v1h-1zM76 57h1v1h-1zM75 58h1v1h-1zM74 59h1v1h-1zM73 60h1v1h-1zM72 61h1v1h-1zM71 62h1v1h-1zM70 63h1v1h-1zM69 64h1v1h-1zM68 65h1v1h-1zM65 68h1v1h-1zM64 69h1v1h-1zM63 70h1v1h-1zM62 71h1v1h-1zM61 72h1v1h-1zM60 73h1v1h-1zM59 74h1v1h-1zM58 75h1v1h-1zM57 76h1v1h-1zM56 77h1v1h-1zM55 78h1v1h-1zM54 79h1v1h-1zM53 80h1v1h-1zM52 81h1v1h-1zM51 82h1v1h-1zM50 83h1v1h-1zM49 84h1v1h-1zM48 85h1v1h-1zM47 86h1v1h-1zM46 87h1v1h-1zM45 88h1v1h-1zM44 89h1v1h-1zM43 90h1v1h-1zM42 91h1v1h-1zM41 92h1v1h-1zM40 93h1v1h-1zM39 94h1v1h-1zM38 95h1v1h-1zM37 96h1v1h-1zM36 97h1v1h-1zM35 98h1v1h-1zM34 99h1v1h-1z"/><path fill="#00bca1" d="M74 18h2v1h-2z"/><path fill="#00bba2" d="M99 35h1v1h-1zM98 36h1v1h-1zM97 37h1v1h-1zM96 38h1v1h-1zM95 39h1v1h-1zM94 40h1v1h-1zM93 41h1v1h-1zM92 42h1v1h-1zM91 43h1v1h-1zM90 44h1v1h-1zM89 45h1v1h-1zM88 46h1v1h-1zM87 47h1v1h-1zM86 48h1v1h-1zM85 49h1v1h-1zM84 50h1v1h-1zM83 51h1v1h-1zM82 52h1v1h-1zM81 53h1v1h-1zM80 54h1v1h-1zM79 55h1v1h-1zM78 56h1v1h-1zM77 57h1v1h-1zM76 58h1v1h-1zM75 59h1v1h-1zM74 60h1v1h-1zM73 61h1v1h-1zM72 62h1v1h-1zM71 63h1v1h-1zM70 64h1v1h-1zM69 65h1v1h-1zM65 69h1v1h-1zM64 70h1v1h-1zM63 71h1v1h-1zM62 72h1v1h-1zM61 73h1v1h-1zM60 74h1v1h-1zM59 75h1v1h-1zM58 76h1v1h-1zM57 77h1v1h-1zM56 78h1v1h-1zM55 79h1v1h-1zM54 80h1v1h-1zM53 81h1v1h-1zM52 82h1v1h-1zM51 83h1v1h-1zM50 84h1v1h-1zM49 85h1v1h-1zM48 86h1v1h-1zM47 87h1v1h-1zM46 88h1v1h-1zM45 89h1v1h-1zM44 90h1v1h-1zM43 91h1v1h-1zM42 92h1v1h-1zM41 93h1v1h-1zM40 94h1v1h-1zM39 95h1v1h-1zM38 96h1v1h-1zM37 97h1v1h-1zM36 98h1v1h-1zM35 99h1v1h-1z"/><path fill="#00b9a2" d="M99 36h1v1h-1zM98 37h1v1h-1zM97 38h1v1h-1zM96 39h1v1h-1zM95 40h1v1h-1zM94 41h1v1h-1zM93 42h1v1h-1zM92 43h1v1h-1zM91 44h1v1h-1zM90 45h1v1h-1zM89 46h1v1h-1zM88 47h1v1h-1zM87 48h1v1h-1zM86 49h1v1h-1zM85 50h1v1h-1zM84 51h1v1h-1zM83 52h1v1h-1zM82 53h1v1h-1zM81 54h1v1h-1zM80 55h1v1h-1zM79 56h1v1h-1zM78 57h1v1h-1zM77 58h1v1h-1zM76 59h1v1h-1zM75 60h1v1h-1zM74 61h1v1h-1zM73 62h1v1h-1zM72 63h1v1h-1zM71 64h1v1h-1zM70 65h1v1h-1zM69 66h1v1h-1zM66 69h1v1h-1zM65 70h1v1h-1zM64 71h1v1h-1zM63 72h1v1h-1zM62 73h1v1h-1zM61 74h1v1h-1zM60 75h1v1h-1zM59 76h1v1h-1zM58 77h1v1h-1zM57 78h1v1h-1zM56 79h1v1h-1zM55 80h1v1h-1zM54 81h1v1h-1zM53 82h1v1h-1zM52 83h1v1h-1zM51 84h1v1h-1zM50 85h1v1h-1zM49 86h1v1h-1zM48 87h1v1h-1zM47 88h1v1h-1zM46 89h1v1h-1zM45 90h1v1h-1zM44 91h1v1h-1zM43 92h1v1h-1zM42 93h1v1h-1zM41 94h1v1h-1zM40 95h1v1h-1zM39 96h1v1h-1zM38 97h1v1h-1zM37 98h1v1h-1zM36 99h1v1h-1z"/><path fill="#00b7a3" d="M71 19h1v1h-1zM78 19h1v1h-1z"/><path fill="#00b6a4" d="M99 37h1v1h-1zM98 38h1v1h-1zM97 39h1v1h-1zM96 40h1v1h-1zM95 41h1v1h-1zM94 42h1v1h-1zM93 43h1v1h-1zM92 44h1v1h-1zM91 45h1v1h-1zM90 46h1v1h-1zM89 47h1v1h-1zM88 48h1v1h-1zM87 49h1v1h-1zM86 50h1v1h-1zM85 51h1v1h-1zM84 52h1v1h-1zM83 53h1v1h-1zM82 54h1v1h-1zM81 55h1v1h-1zM80 56h1v1h-1zM79 57h1v1h-1zM78 58h1v1h-1zM77 59h1v1h-1zM76 60h1v1h-1zM75 61h1v1h-1zM74 62h1v1h-1zM73 63h1v1h-1zM72 64h1v1h-1zM71 65h1v1h-1zM70 66h1v1h-1zM66 70h1v1h-1zM65 71h1v1h-1zM64 72h1v1h-1zM63 73h1v1h-1zM62 74h1v1h-1zM61 75h1v1h-1zM60 76h1v1h-1zM59 77h1v1h-1zM58 78h1v1h-1zM57 79h1v1h-1zM56 80h1v1h-1zM55 81h1v1h-1zM54 82h1v1h-1zM53 83h1v1h-1zM52 84h1v1h-1zM51 85h1v1h-1zM50 86h1v1h-1zM49 87h1v1h-1zM48 88h1v1h-1zM47 89h1v1h-1zM46 90h1v1h-1zM45 91h1v1h-1zM44 92h1v1h-1zM43 93h1v1h-1zM42 94h1v1h-1zM41 95h1v1h-1zM40 96h1v1h-1zM39 97h1v1h-1zM38 98h1v1h-1zM37 99h1v1h-1z"/><path fill="#00b5a4" d="M68 28h1v1h-1zM81 28h1v1h-1z"/><path fill="#00b4a5" d="M99 38h1v1h-1zM98 39h1v1h-1zM97 40h1v1h-1zM96 41h1v1h-1zM95 42h1v1h-1zM94 43h1v1h-1zM93 44h1v1h-1zM92 45h1v1h-1zM91 46h1v1h-1zM90 47h1v1h-1zM89 48h1v1h-1zM88 49h1v1h-1zM87 50h1v1h-1zM86 51h1v1h-1zM85 52h1v1h-1zM84 53h1v1h-1zM83 54h1v1h-1zM82 55h1v1h-1zM81 56h1v1h-1zM80 57h1v1h-1zM79 58h1v1h-1zM78 59h1v1h-1zM77 60h1v1h-1zM76 61h1v1h-1zM75 62h1v1h-1zM74 63h1v1h-1zM73 64h1v1h-1zM72 65h1v1h-1zM71 66h1v1h-1zM70 67h1v1h-1zM67 70h1v1h-1zM66 71h1v1h-1zM65 72h1v1h-1zM64 73h1v1h-1zM63 74h1v1h-1zM62 75h1v1h-1zM61 76h1v1h-1zM60 77h1v1h-1zM59 78h1v1h-1zM58 79h1v1h-1zM57 80h1v1h-1zM56 81h1v1h-1zM55 82h1v1h-1zM54 83h1v1h-1zM53 84h1v1h-1zM52 85h1v1h-1zM51 86h1v1h-1zM50 87h1v1h-1zM49 88h1v1h-1zM48 89h1v1h-1zM47 90h1v1h-1zM46 91h1v1h-1zM45 92h1v1h-1zM44 93h1v1h-1zM43 94h1v1h-1zM42 95h1v1h-1zM41 96h1v1h-1zM40 97h1v1h-1zM39 98h1v1h-1zM38 99h1v1h-1z"/><path fill="#00b2a6" d="M99 39h1v1h-1zM98 40h1v1h-1zM97 41h1v1h-1zM96 42h1v1h-1zM95 43h1v1h-1zM94 44h1v1h-1zM93 45h1v1h-1zM92 46h1v1h-1zM91 47h1v1h-1zM90 48h1v1h-1zM89 49h1v1h-1zM88 50h1v1h-1zM87 51h1v1h-1zM86 52h1v1h-1zM85 53h1v1h-1zM84 54h1v1h-1zM83 55h1v1h-1zM82 56h1v1h-1zM81 57h1v1h-1zM80 58h1v1h-1zM79 59h1v1h-1zM78 60h1v1h-1zM77 61h1v1h-1zM76 62h1v1h-1zM75 63h1v1h-1zM74 64h1v1h-1zM73 65h1v1h-1zM72 66h1v1h-1zM71 67h1v1h-1zM67 71h1v1h-1zM66 72h1v1h-1zM65 73h1v1h-1zM64 74h1v1h-1zM63 75h1v1h-1zM62 76h1v1h-1zM61 77h1v1h-1zM60 78h1v1h-1zM59 79h1v1h-1zM58 80h1v1h-1zM57 81h1v1h-1zM56 82h1v1h-1zM55 83h1v1h-1zM54 84h1v1h-1zM53 85h1v1h-1zM52 86h1v1h-1zM51 87h1v1h-1zM50 88h1v1h-1zM49 89h1v1h-1zM48 90h1v1h-1zM47 91h1v1h-1zM46 92h1v1h-1zM45 93h1v1h-1zM44 94h1v1h-1zM43 95h1v1h-1zM42 96h1v1h-1zM41 97h1v1h-1zM40 98h1v1h-1zM39 99h1v1h-1z"/><path fill="#00b0a7" d="M73 32h1v1h-1zM76 32h1v1h-1z"/><path fill="#00afa8" d="M99 40h1v1h-1zM98 41h1v1h-1zM97 42h1v1h-1zM96 43h1v1h-1zM95 44h1v1h-1zM94 45h1v1h-1zM93 46h1v1h-1zM92 47h1v1h-1zM91 48h1v1h-1zM90 49h1v1h-1zM89 50h1v1h-1zM88 51h1v1h-1zM87 52h1v1h-1zM86 53h1v1h-1zM85 54h1v1h-1zM84 55h1v1h-1zM83 56h1v1h-1zM82 57h1v1h-1zM81 58h1v1h-1zM80 59h1v1h-1zM79 60h1v1h-1zM78 61h1v1h-1zM77 62h1v1h-1zM76 63h1v1h-1zM75 64h1v1h-1zM74 65h1v1h-1zM73 66h1v1h-1zM72 67h1v1h-1zM71 68h1v1h-1zM68 71h1v1h-1zM67 72h1v1h-1zM66 73h1v1h-1zM65 74h1v1h-1zM64 75h1v1h-1zM63 76h1v1h-1zM62 77h1v1h-1zM61 78h1v1h-1zM60 79h1v1h-1zM59 80h1v1h-1zM58 81h1v1h-1zM57 82h1v1h-1zM56 83h1v1h-1zM55 84h1v1h-1zM54 85h1v1h-1zM53 86h1v1h-1zM52 87h1v1h-1zM51 88h1v1h-1zM50 89h1v1h-1zM49 90h1v1h-1zM48 91h1v1h-1zM47 92h1v1h-1zM46 93h1v1h-1zM45 94h1v1h-1zM44 95h1v1h-1zM43 96h1v1h-1zM42 97h1v1h-1zM41 98h1v1h-1zM40 99h1v1h-1z"/><path fill="#00aea8" d="M69 21h1v1h-1zM80 21h1v1h-1z"/><path fill="#00ada8" d="M99 41h1v1h-1zM98 42h1v1h-1zM97 43h1v1h-1zM96 44h1v1h-1zM95 45h1v1h-1zM94 46h1v1h-1zM93 47h1v1h-1zM92 48h1v1h-1zM91 49h1v1h-1zM90 50h1v1h-1zM89 51h1v1h-1zM88 52h1v1h-1zM87 53h1v1h-1zM86 54h1v1h-1zM85 55h1v1h-1zM84 56h1v1h-1zM83 57h1v1h-1zM82 58h1v1h-1zM81 59h1v1h-1zM80 60h1v1h-1zM79 61h1v1h-1zM78 62h1v1h-1zM77 63h1v1h-1zM76 64h1v1h-1zM75 65h1v1h-1zM74 66h1v1h-1zM73 67h1v1h-1zM72 68h1v1h-1zM68 72h1v1h-1zM67 73h1v1h-1zM66 74h1v1h-1zM65 75h1v1h-1zM64 76h1v1h-1zM63 77h1v1h-1zM62 78h1v1h-1zM61 79h1v1h-1zM60 80h1v1h-1zM59 81h1v1h-1zM58 82h1v1h-1zM57 83h1v1h-1zM56 84h1v1h-1zM55 85h1v1h-1zM54 86h1v1h-1zM53 87h1v1h-1zM52 88h1v1h-1zM51 89h1v1h-1zM50 90h1v1h-1zM49 91h1v1h-1zM48 92h1v1h-1zM47 93h1v1h-1zM46 94h1v1h-1zM45 95h1v1h-1zM44 96h1v1h-1zM43 97h1v1h-1zM42 98h1v1h-1zM41 99h1v1h-1z"/><path fill="#00aca9" d="M70 20h1v1h-1zM79 20h1v1h-1z"/><path fill="#00abaa" d="M68 23h1v1h-1zM81 23h1v1h-1z"/><path fill="#00aaaa" d="M99 42h1v1h-1zM98 43h1v1h-1zM97 44h1v1h-1zM96 45h1v1h-1zM95 46h1v1h-1zM94 47h1v1h-1zM93 48h1v1h-1zM92 49h1v1h-1zM91 50h1v1h-1zM90 51h1v1h-1zM89 52h1v1h-1zM88 53h1v1h-1zM87 54h1v1h-1zM86 55h1v1h-1zM85 56h1v1h-1zM84 57h1v1h-1zM83 58h1v1h-1zM82 59h1v1h-1zM81 60h1v1h-1zM80 61h1v1h-1zM79 62h1v1h-1zM78 63h1v1h-1zM77 64h1v1h-1zM76 65h1v1h-1zM75 66h1v1h-1zM74 67h1v1h-1zM73 68h1v1h-1zM72 69h1v1h-1zM69 72h1v1h-1zM68 73h1v1h-1zM67 74h1v1h-1zM66 75h1v1h-1zM65 76h1v1h-1zM64 77h1v1h-1zM63 78h1v1h-1zM62 79h1v1h-1zM61 80h1v1h-1zM60 81h1v1h-1zM59 82h1v1h-1zM58 83h1v1h-1zM57 84h1v1h-1zM56 85h1v1h-1zM55 86h1v1h-1zM54 87h1v1h-1zM53 88h1v1h-1zM52 89h1v1h-1zM51 90h1v1h-1zM50 91h1v1h-1zM49 92h1v1h-1zM48 93h1v1h-1zM47 94h1v1h-1zM46 95h1v1h-1zM45 96h1v1h-1zM44 97h1v1h-1zM43 98h1v1h-1zM42 99h1v1h-1z"/><path fill="#00a9ab" d="M74 32h2v1h-2z"/><path fill="#00a8ab" d="M99 43h1v1h-1zM98 44h1v1h-1zM97 45h1v1h-1zM96 46h1v1h-1zM95 47h1v1h-1zM94 48h1v1h-1zM93 49h1v1h-1zM92 50h1v1h-1zM91 51h1v1h-1zM90 52h1v1h-1zM89 53h1v1h-1zM88 54h1v1h-1zM87 55h1v1h-1zM86 56h1v1h-1zM85 57h1v1h-1zM84 58h1v1h-1zM83 59h1v1h-1zM82 60h1v1h-1zM81 61h1v1h-1zM80 62h1v1h-1zM79 63h1v1h-1zM78 64h1v1h-1zM77 65h1v1h-1zM76 66h1v1h-1zM75 67h1v1h-1zM74 68h1v1h-1zM73 69h1v1h-1zM69 73h1v1h-1zM68 74h1v1h-1zM67 75h1v1h-1zM66 76h1v1h-1zM65 77h1v1h-1zM64 78h1v1h-1zM63 79h1v1h-1zM62 80h1v1h-1zM61 81h1v1h-1zM60 82h1v1h-1zM59 83h1v1h-1zM58 84h1v1h-1zM57 85h1v1h-1zM56 86h1v1h-1zM55 87h1v1h-1zM54 88h1v1h-1zM53 89h1v1h-1zM52 90h1v1h-1zM51 91h1v1h-1zM50 92h1v1h-1zM49 93h1v1h-1zM48 94h1v1h-1zM47 95h1v1h-1zM46 96h1v1h-1zM45 97h1v1h-1zM44 98h1v1h-1zM43 99h1v1h-1z"/><path fill="#00a7ac" d="M71 31h1v1h-1zM78 31h1v1h-1z"/><path fill="#00a6ac" d="M68 27h1v1h-1zM81 27h1v1h-1zM99 44h1v1h-1zM98 45h1v1h-1zM97 46h1v1h-1zM96 47h1v1h-1zM95 48h1v1h-1zM94 49h1v1h-1zM93 50h1v1h-1zM92 51h1v1h-1zM91 52h1v1h-1zM90 53h1v1h-1zM89 54h1v1h-1zM88 55h1v1h-1zM87 56h1v1h-1zM86 57h1v1h-1zM85 58h1v1h-1zM84 59h1v1h-1zM83 60h1v1h-1zM82 61h1v1h-1zM81 62h1v1h-1zM80 63h1v1h-1zM79 64h1v1h-1zM78 65h1v1h-1zM77 66h1v1h-1zM76 67h1v1h-1zM75 68h1v1h-1zM74 69h1v1h-1zM73 70h1v1h-1zM70 73h1v1h-1zM69 74h1v1h-1zM68 75h1v1h-1zM67 76h1v1h-1zM66 77h1v1h-1zM65 78h1v1h-1zM64 79h1v1h-1zM63 80h1v1h-1zM62 81h1v1h-1zM61 82h1v1h-1zM60 83h1v1h-1zM59 84h1v1h-1zM58 85h1v1h-1zM57 86h1v1h-1zM56 87h1v1h-1zM55 88h1v1h-1zM54 89h1v1h-1zM53 90h1v1h-1zM52 91h1v1h-1zM51 92h1v1h-1zM50 93h1v1h-1zM49 94h1v1h-1zM48 95h1v1h-1zM47 96h1v1h-1zM46 97h1v1h-1zM45 98h1v1h-1zM44 99h1v1h-1z"/><path fill="#00a3ae" d="M72 19h1v1h-1zM77 19h1v1h-1zM69 29h1v1h-1zM80 29h1v1h-1zM99 45h1v1h-1zM98 46h1v1h-1zM97 47h1v1h-1zM96 48h1v1h-1zM95 49h1v1h-1zM94 50h1v1h-1zM93 51h1v1h-1zM92 52h1v1h-1zM91 53h1v1h-1zM90 54h1v1h-1zM89 55h1v1h-1zM88 56h1v1h-1zM87 57h1v1h-1zM86 58h1v1h-1zM85 59h1v1h-1zM84 60h1v1h-1zM83 61h1v1h-1zM82 62h1v1h-1zM81 63h1v1h-1zM80 64h1v1h-1zM79 65h1v1h-1zM78 66h1v1h-1zM77 67h1v1h-1zM76 68h1v1h-1zM75 69h1v1h-1zM74 70h1v1h-1zM70 74h1v1h-1zM69 75h1v1h-1zM68 76h1v1h-1zM67 77h1v1h-1zM66 78h1v1h-1zM65 79h1v1h-1zM64 80h1v1h-1zM63 81h1v1h-1zM62 82h1v1h-1zM61 83h1v1h-1zM60 84h1v1h-1zM59 85h1v1h-1zM58 86h1v1h-1zM57 87h1v1h-1zM56 88h1v1h-1zM55 89h1v1h-1zM54 90h1v1h-1zM53 91h1v1h-1zM52 92h1v1h-1zM51 93h1v1h-1zM50 94h1v1h-1zM49 95h1v1h-1zM48 96h1v1h-1zM47 97h1v1h-1zM46 98h1v1h-1zM45 99h1v1h-1z"/><path fill="#00a1ae" d="M99 46h1v1h-1zM98 47h1v1h-1zM97 48h1v1h-1zM96 49h1v1h-1zM95 50h1v1h-1zM94 51h1v1h-1zM93 52h1v1h-1zM92 53h1v1h-1zM91 54h1v1h-1zM90 55h1v1h-1zM89 56h1v1h-1zM88 57h1v1h-1zM87 58h1v1h-1zM86 59h1v1h-1zM85 60h1v1h-1zM84 61h1v1h-1zM83 62h1v1h-1zM82 63h1v1h-1zM81 64h1v1h-1zM80 65h1v1h-1zM79 66h1v1h-1zM78 67h1v1h-1zM77 68h1v1h-1zM76 69h1v1h-1zM75 70h1v1h-1zM74 71h1v1h-1zM71 74h1v1h-1zM70 75h1v1h-1zM69 76h1v1h-1zM68 77h1v1h-1zM67 78h1v1h-1zM66 79h1v1h-1zM65 80h1v1h-1zM64 81h1v1h-1zM63 82h1v1h-1zM62 83h1v1h-1zM61 84h1v1h-1zM60 85h1v1h-1zM59 86h1v1h-1zM58 87h1v1h-1zM57 88h1v1h-1zM56 89h1v1h-1zM55 90h1v1h-1zM54 91h1v1h-1zM53 92h1v1h-1zM52 93h1v1h-1zM51 94h1v1h-1zM50 95h1v1h-1zM49 96h1v1h-1zM48 97h1v1h-1zM47 98h1v1h-1zM46 99h1v1h-1z"/><path fill="#00a0af" d="M68 24h1v1h-1zM81 24h1v1h-1z"/><path fill="#009fb0" d="M70 30h1v1h-1zM79 30h1v1h-1z"/><path fill="#009eb0" d="M99 47h1v1h-1zM98 48h1v1h-1zM97 49h1v1h-1zM96 50h1v1h-1zM95 51h1v1h-1zM94 52h1v1h-1zM93 53h1v1h-1zM92 54h1v1h-1zM91 55h1v1h-1zM90 56h1v1h-1zM89 57h1v1h-1zM88 58h1v1h-1zM87 59h1v1h-1zM86 60h1v1h-1zM85 61h1v1h-1zM84 62h1v1h-1zM83 63h1v1h-1zM82 64h1v1h-1zM81 65h1v1h-1zM80 66h1v1h-1zM79 67h1v1h-1zM78 68h1v1h-1zM77 69h1v1h-1zM76 70h1v1h-1zM75 71h1v1h-1zM71 75h1v1h-1zM70 76h1v1h-1zM69 77h1v1h-1zM68 78h1v1h-1zM67 79h1v1h-1zM66 80h1v1h-1zM65 81h1v1h-1zM64 82h1v1h-1zM63 83h1v1h-1zM62 84h1v1h-1zM61 85h1v1h-1zM60 86h1v1h-1zM59 87h1v1h-1zM58 88h1v1h-1zM57 89h1v1h-1zM56 90h1v1h-1zM55 91h1v1h-1zM54 92h1v1h-1zM53 93h1v1h-1zM52 94h1v1h-1zM51 95h1v1h-1zM50 96h1v1h-1zM49 97h1v1h-1zM48 98h1v1h-1zM47 99h1v1h-1z"/><path fill="#009db0" d="M68 26h1v1h-1zM81 26h1v1h-1z"/><path fill="#009cb1" d="M99 48h1v1h-1zM98 49h1v1h-1zM97 50h1v1h-1zM96 51h1v1h-1zM95 52h1v1h-1zM94 53h1v1h-1zM93 54h1v1h-1zM92 55h1v1h-1zM91 56h1v1h-1zM90 57h1v1h-1zM89 58h1v1h-1zM88 59h1v1h-1zM87 60h1v1h-1zM86 61h1v1h-1zM85 62h1v1h-1zM84 63h1v1h-1zM83 64h1v1h-1zM82 65h1v1h-1zM81 66h1v1h-1zM80 67h1v1h-1zM79 68h1v1h-1zM78 69h1v1h-1zM77 70h1v1h-1zM76 71h1v1h-1zM75 72h1v1h-1zM72 75h1v1h-1zM71 76h1v1h-1zM70 77h1v1h-1zM69 78h1v1h-1zM68 79h1v1h-1zM67 80h1v1h-1zM66 81h1v1h-1zM65 82h1v1h-1zM64 83h1v1h-1zM63 84h1v1h-1zM62 85h1v1h-1zM61 86h1v1h-1zM60 87h1v1h-1zM59 88h1v1h-1zM58 89h1v1h-1zM57 90h1v1h-1zM56 91h1v1h-1zM55 92h1v1h-1zM54 93h1v1h-1zM53 94h1v1h-1zM52 95h1v1h-1zM51 96h1v1h-1zM50 97h1v1h-1zM49 98h1v1h-1zM48 99h1v1h-1z"/><path fill="#009bb2" d="M68 25h1v1h-1zM81 25h1v1h-1z"/><path fill="#0099b2" d="M99 49h1v1h-1zM98 50h1v1h-1zM97 51h1v1h-1zM96 52h1v1h-1zM95 53h1v1h-1zM94 54h1v1h-1zM93 55h1v1h-1zM92 56h1v1h-1zM91 57h1v1h-1zM90 58h1v1h-1zM89 59h1v1h-1zM88 60h1v1h-1zM87 61h1v1h-1zM86 62h1v1h-1zM85 63h1v1h-1zM84 64h1v1h-1zM83 65h1v1h-1zM82 66h1v1h-1zM81 67h1v1h-1zM80 68h1v1h-1zM79 69h1v1h-1zM78 70h1v1h-1zM77 71h1v1h-1zM76 72h1v1h-1zM72 76h1v1h-1zM71 77h1v1h-1zM70 78h1v1h-1zM69 79h1v1h-1zM68 80h1v1h-1zM67 81h1v1h-1zM66 82h1v1h-1zM65 83h1v1h-1zM64 84h1v1h-1zM63 85h1v1h-1zM62 86h1v1h-1zM61 87h1v1h-1zM60 88h1v1h-1zM59 89h1v1h-1zM58 90h1v1h-1zM57 91h1v1h-1zM56 92h1v1h-1zM55 93h1v1h-1zM54 94h1v1h-1zM53 95h1v1h-1zM52 96h1v1h-1zM51 97h1v1h-1zM50 98h1v1h-1zM49 99h1v1h-1z"/><path fill="#0097b3" d="M99 50h1v1h-1zM98 51h1v1h-1zM97 52h1v1h-1zM96 53h1v1h-1zM95 54h1v1h-1zM94 55h1v1h-1zM93 56h1v1h-1zM92 57h1v1h-1zM91 58h1v1h-1zM90 59h1v1h-1zM89 60h1v1h-1zM88 61h1v1h-1zM87 62h1v1h-1zM86 63h1v1h-1zM85 64h1v1h-1zM84 65h1v1h-1zM83 66h1v1h-1zM82 67h1v1h-1zM81 68h1v1h-1zM80 69h1v1h-1zM79 70h1v1h-1zM78 71h1v1h-1zM77 72h1v1h-1zM76 73h1v1h-1zM73 76h1v1h-1zM72 77h1v1h-1zM71 78h1v1h-1zM70 79h1v1h-1zM69 80h1v1h-1zM68 81h1v1h-1zM67 82h1v1h-1zM66 83h1v1h-1zM65 84h1v1h-1zM64 85h1v1h-1zM63 86h1v1h-1zM62 87h1v1h-1zM61 88h1v1h-1zM60 89h1v1h-1zM59 90h1v1h-1zM58 91h1v1h-1zM57 92h1v1h-1zM56 93h1v1h-1zM55 94h1v1h-1zM54 95h1v1h-1zM53 96h1v1h-1zM52 97h1v1h-1zM51 98h1v1h-1zM50 99h1v1h-1z"/><path fill="#0096b4" d="M73 19h1v1h-1zM76 19h1v1h-1z"/><path fill="#0095b4" d="M69 22h1v1h-1zM80 22h1v1h-1zM99 51h1v1h-1zM98 52h1v1h-1zM97 53h1v1h-1zM96 54h1v1h-1zM95 55h1v1h-1zM94 56h1v1h-1zM93 57h1v1h-1zM92 58h1v1h-1zM91 59h1v1h-1zM90 60h1v1h-1zM89 61h1v1h-1zM88 62h1v1h-1zM87 63h1v1h-1zM86 64h1v1h-1zM85 65h1v1h-1zM84 66h1v1h-1zM83 67h1v1h-1zM82 68h1v1h-1zM81 69h1v1h-1zM80 70h1v1h-1zM79 71h1v1h-1zM78 72h1v1h-1zM77 73h1v1h-1zM73 77h1v1h-1zM72 78h1v1h-1zM71 79h1v1h-1zM70 80h1v1h-1zM69 81h1v1h-1zM68 82h1v1h-1zM67 83h1v1h-1zM66 84h1v1h-1zM65 85h1v1h-1zM64 86h1v1h-1zM63 87h1v1h-1zM62 88h1v1h-1zM61 89h1v1h-1zM60 90h1v1h-1zM59 91h1v1h-1zM58 92h1v1h-1zM57 93h1v1h-1zM56 94h1v1h-1zM55 95h1v1h-1zM54 96h1v1h-1zM53 97h1v1h-1zM52 98h1v1h-1zM51 99h1v1h-1z"/><path fill="#0093b6" d="M72 31h1v1h-1zM77 31h1v1h-1z"/><path fill="#0092b6" d="M99 52h1v1h-1zM98 53h1v1h-1zM97 54h1v1h-1zM96 55h1v1h-1zM95 56h1v1h-1zM94 57h1v1h-1zM93 58h1v1h-1zM92 59h1v1h-1zM91 60h1v1h-1zM90 61h1v1h-1zM89 62h1v1h-1zM88 63h1v1h-1zM87 64h1v1h-1zM86 65h1v1h-1zM85 66h1v1h-1zM84 67h1v1h-1zM83 68h1v1h-1zM82 69h1v1h-1zM81 70h1v1h-1zM80 71h1v1h-1zM79 72h1v1h-1zM78 73h1v1h-1zM77 74h1v1h-1zM74 77h1v1h-1zM73 78h1v1h-1zM72 79h1v1h-1zM71 80h1v1h-1zM70 81h1v1h-1zM69 82h1v1h-1zM68 83h1v1h-1zM67 84h1v1h-1zM66 85h1v1h-1zM65 86h1v1h-1zM64 87h1v1h-1zM63 88h1v1h-1zM62 89h1v1h-1zM61 90h1v1h-1zM60 91h1v1h-1zM59 92h1v1h-1zM58 93h1v1h-1zM57 94h1v1h-1zM56 95h1v1h-1zM55 96h1v1h-1zM54 97h1v1h-1zM53 98h1v1h-1zM52 99h1v1h-1z"/><path fill="#0091b6" d="M71 20h1v1h-1zM78 20h1v1h-1z"/><path fill="#0090b7" d="M99 53h1v1h-1zM98 54h1v1h-1zM97 55h1v1h-1zM96 56h1v1h-1zM95 57h1v1h-1zM94 58h1v1h-1zM93 59h1v1h-1zM92 60h1v1h-1zM91 61h1v1h-1zM90 62h1v1h-1zM89 63h1v1h-1zM88 64h1v1h-1zM87 65h1v1h-1zM86 66h1v1h-1zM85 67h1v1h-1zM84 68h1v1h-1zM83 69h1v1h-1zM82 70h1v1h-1zM81 71h1v1h-1zM80 72h1v1h-1zM79 73h1v1h-1zM78 74h1v1h-1zM74 78h1v1h-1zM73 79h1v1h-1zM72 80h1v1h-1zM71 81h1v1h-1zM70 82h1v1h-1zM69 83h1v1h-1zM68 84h1v1h-1zM67 85h1v1h-1zM66 86h1v1h-1zM65 87h1v1h-1zM64 88h1v1h-1zM63 89h1v1h-1zM62 90h1v1h-1zM61 91h1v1h-1zM60 92h1v1h-1zM59 93h1v1h-1zM58 94h1v1h-1zM57 95h1v1h-1zM56 96h1v1h-1zM55 97h1v1h-1zM54 98h1v1h-1zM53 99h1v1h-1z"/><path fill="#008fb8" d="M74 19h2v1h-2z"/><path fill="#008db8" d="M69 28h1v1h-1zM80 28h1v1h-1zM99 54h1v1h-1zM98 55h1v1h-1zM97 56h1v1h-1zM96 57h1v1h-1zM95 58h1v1h-1zM94 59h1v1h-1zM93 60h1v1h-1zM92 61h1v1h-1zM91 62h1v1h-1zM90 63h1v1h-1zM89 64h1v1h-1zM88 65h1v1h-1zM87 66h1v1h-1zM86 67h1v1h-1zM85 68h1v1h-1zM84 69h1v1h-1zM83 70h1v1h-1zM82 71h1v1h-1zM81 72h1v1h-1zM80 73h1v1h-1zM79 74h1v1h-1zM78 75h1v1h-1zM75 78h1v1h-1zM74 79h1v1h-1zM73 80h1v1h-1zM72 81h1v1h-1zM71 82h1v1h-1zM70 83h1v1h-1zM69 84h1v1h-1zM68 85h1v1h-1zM67 86h1v1h-1zM66 87h1v1h-1zM65 88h1v1h-1zM64 89h1v1h-1zM63 90h1v1h-1zM62 91h1v1h-1zM61 92h1v1h-1zM60 93h1v1h-1zM59 94h1v1h-1zM58 95h1v1h-1zM57 96h1v1h-1zM56 97h1v1h-1zM55 98h1v1h-1zM54 99h1v1h-1z"/><path fill="#008cb9" d="M70 21h1v1h-1zM79 21h1v1h-1z"/><path fill="#008bba" d="M99 55h1v1h-1zM98 56h1v1h-1zM97 57h1v1h-1zM96 58h1v1h-1zM95 59h1v1h-1zM94 60h1v1h-1zM93 61h1v1h-1zM92 62h1v1h-1zM91 63h1v1h-1zM90 64h1v1h-1zM89 65h1v1h-1zM88 66h1v1h-1zM87 67h1v1h-1zM86 68h1v1h-1zM85 69h1v1h-1zM84 70h1v1h-1zM83 71h1v1h-1zM82 72h1v1h-1zM81 73h1v1h-1zM80 74h1v1h-1zM79 75h1v1h-1zM75 79h1v1h-1zM74 80h1v1h-1zM73 81h1v1h-1zM72 82h1v1h-1zM71 83h1v1h-1zM70 84h1v1h-1zM69 85h1v1h-1zM68 86h1v1h-1zM67 87h1v1h-1zM66 88h1v1h-1zM65 89h1v1h-1zM64 90h1v1h-1zM63 91h1v1h-1zM62 92h1v1h-1zM61 93h1v1h-1zM60 94h1v1h-1zM59 95h1v1h-1zM58 96h1v1h-1zM57 97h1v1h-1zM56 98h1v1h-1zM55 99h1v1h-1z"/><path fill="#0089bb" d="M99 56h1v1h-1zM98 57h1v1h-1zM97 58h1v1h-1zM96 59h1v1h-1zM95 60h1v1h-1zM94 61h1v1h-1zM93 62h1v1h-1zM92 63h1v1h-1zM91 64h1v1h-1zM90 65h1v1h-1zM89 66h1v1h-1zM88 67h1v1h-1zM87 68h1v1h-1zM86 69h1v1h-1zM85 70h1v1h-1zM84 71h1v1h-1zM83 72h1v1h-1zM82 73h1v1h-1zM81 74h1v1h-1zM80 75h1v1h-1zM79 76h1v1h-1zM76 79h1v1h-1zM75 80h1v1h-1zM74 81h1v1h-1zM73 82h1v1h-1zM72 83h1v1h-1zM71 84h1v1h-1zM70 85h1v1h-1zM69 86h1v1h-1zM68 87h1v1h-1zM67 88h1v1h-1zM66 89h1v1h-1zM65 90h1v1h-1zM64 91h1v1h-1zM63 92h1v1h-1zM62 93h1v1h-1zM61 94h1v1h-1zM60 95h1v1h-1zM59 96h1v1h-1zM58 97h1v1h-1zM57 98h1v1h-1zM56 99h1v1h-1z"/><path fill="#0086bc" d="M73 31h1v1h-1zM76 31h1v1h-1zM99 57h1v1h-1zM98 58h1v1h-1zM97 59h1v1h-1zM96 60h1v1h-1zM95 61h1v1h-1zM94 62h1v1h-1zM93 63h1v1h-1zM92 64h1v1h-1zM91 65h1v1h-1zM90 66h1v1h-1zM89 67h1v1h-1zM88 68h1v1h-1zM87 69h1v1h-1zM86 70h1v1h-1zM85 71h1v1h-1zM84 72h1v1h-1zM83 73h1v1h-1zM82 74h1v1h-1zM81 75h1v1h-1zM80 76h1v1h-1zM76 80h1v1h-1zM75 81h1v1h-1zM74 82h1v1h-1zM73 83h1v1h-1zM72 84h1v1h-1zM71 85h1v1h-1zM70 86h1v1h-1zM69 87h1v1h-1zM68 88h1v1h-1zM67 89h1v1h-1zM66 90h1v1h-1zM65 91h1v1h-1zM64 92h1v1h-1zM63 93h1v1h-1zM62 94h1v1h-1zM61 95h1v1h-1zM60 96h1v1h-1zM59 97h1v1h-1zM58 98h1v1h-1zM57 99h1v1h-1z"/><path fill="#0084bd" d="M71 30h1v1h-1zM78 30h1v1h-1zM99 58h1v1h-1zM98 59h1v1h-1zM97 60h1v1h-1zM96 61h1v1h-1zM95 62h1v1h-1zM94 63h1v1h-1zM93 64h1v1h-1zM92 65h1v1h-1zM91 66h1v1h-1zM90 67h1v1h-1zM89 68h1v1h-1zM88 69h1v1h-1zM87 70h1v1h-1zM86 71h1v1h-1zM85 72h1v1h-1zM84 73h1v1h-1zM83 74h1v1h-1zM82 75h1v1h-1zM81 76h1v1h-1zM80 77h1v1h-1zM77 80h1v1h-1zM76 81h1v1h-1zM75 82h1v1h-1zM74 83h1v1h-1zM73 84h1v1h-1zM72 85h1v1h-1zM71 86h1v1h-1zM70 87h1v1h-1zM69 88h1v1h-1zM68 89h1v1h-1zM67 90h1v1h-1zM66 91h1v1h-1zM65 92h1v1h-1zM64 93h1v1h-1zM63 94h1v1h-1zM62 95h1v1h-1zM61 96h1v1h-1zM60 97h1v1h-1zM59 98h1v1h-1zM58 99h1v1h-1z"/><path fill="#0083be" d="M69 23h1v1h-1zM80 23h1v1h-1z"/><path fill="#0082be" d="M70 29h1v1h-1zM79 29h1v1h-1z"/><path fill="#0081be" d="M99 59h1v1h-1zM98 60h1v1h-1zM97 61h1v1h-1zM96 62h1v1h-1zM95 63h1v1h-1zM94 64h1v1h-1zM93 65h1v1h-1zM92 66h1v1h-1zM91 67h1v1h-1zM90 68h1v1h-1zM89 69h1v1h-1zM88 70h1v1h-1zM87 71h1v1h-1zM86 72h1v1h-1zM85 73h1v1h-1zM84 74h1v1h-1zM83 75h1v1h-1zM82 76h1v1h-1zM81 77h1v1h-1zM77 81h1v1h-1zM76 82h1v1h-1zM75 83h1v1h-1zM74 84h1v1h-1zM73 85h1v1h-1zM72 86h1v1h-1zM71 87h1v1h-1zM70 88h1v1h-1zM69 89h1v1h-1zM68 90h1v1h-1zM67 91h1v1h-1zM66 92h1v1h-1zM65 93h1v1h-1zM64 94h1v1h-1zM63 95h1v1h-1zM62 96h1v1h-1zM61 97h1v1h-1zM60 98h1v1h-1zM59 99h1v1h-1z"/><path fill="#007fc0" d="M74 31h2v1h-2zM99 60h1v1h-1zM98 61h1v1h-1zM97 62h1v1h-1zM96 63h1v1h-1zM95 64h1v1h-1zM94 65h1v1h-1zM93 66h1v1h-1zM92 67h1v1h-1zM91 68h1v1h-1zM90 69h1v1h-1zM89 70h1v1h-1zM88 71h1v1h-1zM87 72h1v1h-1zM86 73h1v1h-1zM85 74h1v1h-1zM84 75h1v1h-1zM83 76h1v1h-1zM82 77h1v1h-1zM81 78h1v1h-1zM78 81h1v1h-1zM77 82h1v1h-1zM76 83h1v1h-1zM75 84h1v1h-1zM74 85h1v1h-1zM73 86h1v1h-1zM72 87h1v1h-1zM71 88h1v1h-1zM70 89h1v1h-1zM69 90h1v1h-1zM68 91h1v1h-1zM67 92h1v1h-1zM66 93h1v1h-1zM65 94h1v1h-1zM64 95h1v1h-1zM63 96h1v1h-1zM62 97h1v1h-1zM61 98h1v1h-1zM60 99h1v1h-1z"/><path fill="#007ec0" d="M69 27h1v1h-1zM80 27h1v1h-1z"/><path fill="#007dc0" d="M72 20h1v1h-1zM77 20h1v1h-1z"/><path fill="#007cc1" d="M99 61h1v1h-1zM98 62h1v1h-1zM97 63h1v1h-1zM96 64h1v1h-1zM95 65h1v1h-1zM94 66h1v1h-1zM93 67h1v1h-1zM92 68h1v1h-1zM91 69h1v1h-1zM90 70h1v1h-1zM89 71h1v1h-1zM88 72h1v1h-1zM87 73h1v1h-1zM86 74h1v1h-1zM85 75h1v1h-1zM84 76h1v1h-1zM83 77h1v1h-1zM82 78h1v1h-1zM78 82h1v1h-1zM77 83h1v1h-1zM76 84h1v1h-1zM75 85h1v1h-1zM74 86h1v1h-1zM73 87h1v1h-1zM72 88h1v1h-1zM71 89h1v1h-1zM70 90h1v1h-1zM69 91h1v1h-1zM68 92h1v1h-1zM67 93h1v1h-1zM66 94h1v1h-1zM65 95h1v1h-1zM64 96h1v1h-1zM63 97h1v1h-1zM62 98h1v1h-1zM61 99h1v1h-1z"/><path fill="#007ac2" d="M99 62h1v1h-1zM98 63h1v1h-1zM97 64h1v1h-1zM96 65h1v1h-1zM95 66h1v1h-1zM94 67h1v1h-1zM93 68h1v1h-1zM92 69h1v1h-1zM91 70h1v1h-1zM90 71h1v1h-1zM89 72h1v1h-1zM88 73h1v1h-1zM87 74h1v1h-1zM86 75h1v1h-1zM85 76h1v1h-1zM84 77h1v1h-1zM83 78h1v1h-1zM82 79h1v1h-1zM79 82h1v1h-1zM78 83h1v1h-1zM77 84h1v1h-1zM76 85h1v1h-1zM75 86h1v1h-1zM74 87h1v1h-1zM73 88h1v1h-1zM72 89h1v1h-1zM71 90h1v1h-1zM70 91h1v1h-1zM69 92h1v1h-1zM68 93h1v1h-1zM67 94h1v1h-1zM66 95h1v1h-1zM65 96h1v1h-1zM64 97h1v1h-1zM63 98h1v1h-1zM62 99h1v1h-1z"/><path fill="#0078c3" d="M69 24h1v1h-1zM80 24h1v1h-1zM99 63h1v1h-1zM98 64h1v1h-1zM97 65h1v1h-1zM96 66h1v1h-1zM95 67h1v1h-1zM94 68h1v1h-1zM93 69h1v1h-1zM92 70h1v1h-1zM91 71h1v1h-1zM90 72h1v1h-1zM89 73h1v1h-1zM88 74h1v1h-1zM87 75h1v1h-1zM86 76h1v1h-1zM85 77h1v1h-1zM84 78h1v1h-1zM83 79h1v1h-1zM79 83h1v1h-1zM78 84h1v1h-1zM77 85h1v1h-1zM76 86h1v1h-1zM75 87h1v1h-1zM74 88h1v1h-1zM73 89h1v1h-1zM72 90h1v1h-1zM71 91h1v1h-1zM70 92h1v1h-1zM69 93h1v1h-1zM68 94h1v1h-1zM67 95h1v1h-1zM66 96h1v1h-1zM65 97h1v1h-1zM64 98h1v1h-1zM63 99h1v1h-1z"/><path fill="#0075c4" d="M69 26h1v1h-1zM80 26h1v1h-1zM99 64h1v1h-1zM98 65h1v1h-1zM97 66h1v1h-1zM96 67h1v1h-1zM95 68h1v1h-1zM94 69h1v1h-1zM93 70h1v1h-1zM92 71h1v1h-1zM91 72h1v1h-1zM90 73h1v1h-1zM89 74h1v1h-1zM88 75h1v1h-1zM87 76h1v1h-1zM86 77h1v1h-1zM85 78h1v1h-1zM84 79h1v1h-1zM83 80h1v1h-1zM80 83h1v1h-1zM79 84h1v1h-1zM78 85h1v1h-1zM77 86h1v1h-1zM76 87h1v1h-1zM75 88h1v1h-1zM74 89h1v1h-1zM73 90h1v1h-1zM72 91h1v1h-1zM71 92h1v1h-1zM70 93h1v1h-1zM69 94h1v1h-1zM68 95h1v1h-1zM67 96h1v1h-1zM66 97h1v1h-1zM65 98h1v1h-1zM64 99h1v1h-1z"/><path fill="#0074c5" d="M70 22h1v1h-1zM79 22h1v1h-1z"/><path fill="#0073c6" d="M69 25h1v1h-1zM80 25h1v1h-1zM99 65h1v1h-1zM98 66h1v1h-1zM97 67h1v1h-1zM96 68h1v1h-1zM95 69h1v1h-1zM94 70h1v1h-1zM93 71h1v1h-1zM92 72h1v1h-1zM91 73h1v1h-1zM90 74h1v1h-1zM89 75h1v1h-1zM88 76h1v1h-1zM87 77h1v1h-1zM86 78h1v1h-1zM85 79h1v1h-1zM84 80h1v1h-1zM80 84h1v1h-1zM79 85h1v1h-1zM78 86h1v1h-1zM77 87h1v1h-1zM76 88h1v1h-1zM75 89h1v1h-1zM74 90h1v1h-1zM73 91h1v1h-1zM72 92h1v1h-1zM71 93h1v1h-1zM70 94h1v1h-1zM69 95h1v1h-1zM68 96h1v1h-1zM67 97h1v1h-1zM66 98h1v1h-1zM65 99h1v1h-1z"/><path fill="#0072c6" d="M71 21h1v1h-1zM78 21h1v1h-1z"/><path fill="#0070c7" d="M73 20h1v1h-1zM76 20h1v1h-1zM72 30h1v1h-1zM77 30h1v1h-1zM99 66h1v1h-1zM98 67h1v1h-1zM97 68h1v1h-1zM96 69h1v1h-1zM95 70h1v1h-1zM94 71h1v1h-1zM93 72h1v1h-1zM92 73h1v1h-1zM91 74h1v1h-1zM90 75h1v1h-1zM89 76h1v1h-1zM88 77h1v1h-1zM87 78h1v1h-1zM86 79h1v1h-1zM85 80h1v1h-1zM84 81h1v1h-1zM81 84h1v1h-1zM80 85h1v1h-1zM79 86h1v1h-1zM78 87h1v1h-1zM77 88h1v1h-1zM76 89h1v1h-1zM75 90h1v1h-1zM74 91h1v1h-1zM73 92h1v1h-1zM72 93h1v1h-1zM71 94h1v1h-1zM70 95h1v1h-1zM69 96h1v1h-1zM68 97h1v1h-1zM67 98h1v1h-1zM66 99h1v1h-1z"/><path fill="#006ec8" d="M99 67h1v1h-1zM98 68h1v1h-1zM97 69h1v1h-1zM96 70h1v1h-1zM95 71h1v1h-1zM94 72h1v1h-1zM93 73h1v1h-1zM92 74h1v1h-1zM91 75h1v1h-1zM90 76h1v1h-1zM89 77h1v1h-1zM88 78h1v1h-1zM87 79h1v1h-1zM86 80h1v1h-1zM85 81h1v1h-1zM81 85h1v1h-1zM80 86h1v1h-1zM79 87h1v1h-1zM78 88h1v1h-1zM77 89h1v1h-1zM76 90h1v1h-1zM75 91h1v1h-1zM74 92h1v1h-1zM73 93h1v1h-1zM72 94h1v1h-1zM71 95h1v1h-1zM70 96h1v1h-1zM69 97h1v1h-1zM68 98h1v1h-1zM67 99h1v1h-1z"/><path fill="#006cc9" d="M18 18h1v1h-1zM32 18h1v1h-1zM70 28h1v1h-1zM79 28h1v1h-1zM18 32h1v1h-1zM32 32h1v1h-1zM99 68h1v1h-1zM98 69h1v1h-1zM97 70h1v1h-1zM96 71h1v1h-1zM95 72h1v1h-1zM94 73h1v1h-1zM93 74h1v1h-1zM92 75h1v1h-1zM91 76h1v1h-1zM90 77h1v1h-1zM89 78h1v1h-1zM88 79h1v1h-1zM87 80h1v1h-1zM86 81h1v1h-1zM85 82h1v1h-1zM82 85h1v1h-1zM81 86h1v1h-1zM80 87h1v1h-1zM79 88h1v1h-1zM78 89h1v1h-1zM77 90h1v1h-1zM76 91h1v1h-1zM75 92h1v1h-1zM74 93h1v1h-1zM73 94h1v1h-1zM72 95h1v1h-1zM71 96h1v1h-1zM70 97h1v1h-1zM69 98h1v1h-1zM68 99h1v1h-1z"/><path fill="#006bca" d="M21 16h1v1h-1zM29 16h1v1h-1zM16 21h1v1h-1zM34 21h1v1h-1zM16 29h1v1h-1zM34 29h1v1h-1zM21 34h1v1h-1zM29 34h1v1h-1z"/><path fill="#0069cb" d="M74 20h2v1h-2zM99 69h1v1h-1zM98 70h1v1h-1zM97 71h1v1h-1zM96 72h1v1h-1zM95 73h1v1h-1zM94 74h1v1h-1zM93 75h1v1h-1zM92 76h1v1h-1zM91 77h1v1h-1zM90 78h1v1h-1zM89 79h1v1h-1zM88 80h1v1h-1zM87 81h1v1h-1zM86 82h1v1h-1zM82 86h1v1h-1zM81 87h1v1h-1zM80 88h1v1h-1zM79 89h1v1h-1zM78 90h1v1h-1zM77 91h1v1h-1zM76 92h1v1h-1zM75 93h1v1h-1zM74 94h1v1h-1zM73 95h1v1h-1zM72 96h1v1h-1zM71 97h1v1h-1zM70 98h1v1h-1zM69 99h1v1h-1z"/><path fill="#0067cc" d="M71 29h1v1h-1zM78 29h1v1h-1zM99 70h1v1h-1zM98 71h1v1h-1zM97 72h1v1h-1zM96 73h1v1h-1zM95 74h1v1h-1zM94 75h1v1h-1zM93 76h1v1h-1zM92 77h1v1h-1zM91 78h1v1h-1zM90 79h1v1h-1zM89 80h1v1h-1zM88 81h1v1h-1zM87 82h1v1h-1zM86 83h1v1h-1zM83 86h1v1h-1zM82 87h1v1h-1zM81 88h1v1h-1zM80 89h1v1h-1zM79 90h1v1h-1zM78 91h1v1h-1zM77 92h1v1h-1zM76 93h1v1h-1zM75 94h1v1h-1zM74 95h1v1h-1zM73 96h1v1h-1zM72 97h1v1h-1zM71 98h1v1h-1zM70 99h1v1h-1z"/><path fill="#0064cd" d="M99 71h1v1h-1zM98 72h1v1h-1zM97 73h1v1h-1zM96 74h1v1h-1zM95 75h1v1h-1zM94 76h1v1h-1zM93 77h1v1h-1zM92 78h1v1h-1zM91 79h1v1h-1zM90 80h1v1h-1zM89 81h1v1h-1zM88 82h1v1h-1zM87 83h1v1h-1zM83 87h1v1h-1zM82 88h1v1h-1zM81 89h1v1h-1zM80 90h1v1h-1zM79 91h1v1h-1zM78 92h1v1h-1zM77 93h1v1h-1zM76 94h1v1h-1zM75 95h1v1h-1zM74 96h1v1h-1zM73 97h1v1h-1zM72 98h1v1h-1zM71 99h1v1h-1z"/><path fill="#0063ce" d="M22 16h1v1h-1zM28 16h1v1h-1zM16 22h1v1h-1zM34 22h1v1h-1zM16 28h1v1h-1zM34 28h1v1h-1zM22 34h1v1h-1zM28 34h1v1h-1z"/><path fill="#0062ce" d="M20 17h1v1h-1zM30 17h1v1h-1zM17 20h1v1h-1zM33 20h1v1h-1zM70 23h1v1h-1zM79 23h1v1h-1zM17 30h1v1h-1zM33 30h1v1h-1zM73 30h1v1h-1zM76 30h1v1h-1zM33 31h1v1h-1zM33 32h2v1h-2zM20 33h1v1h-1zM30 33h6v1h-6zM32 34h5v1h-5zM33 35h5v1h-5zM34 36h5v1h-5zM35 37h5v1h-5zM36 38h5v1h-5zM37 39h5v1h-5zM38 40h5v1h-5zM39 41h5v1h-5zM40 42h5v1h-5zM41 43h5v1h-5zM42 44h5v1h-5zM43 45h5v1h-5zM44 46h5v1h-5zM45 47h5v1h-5zM46 48h5v1h-5zM47 49h5v1h-5zM48 50h5v1h-5zM49 51h5v1h-5zM50 52h5v1h-5zM51 53h5v1h-5zM52 54h5v1h-5zM53 55h5v1h-5zM54 56h5v1h-5zM55 57h5v1h-5zM56 58h5v1h-5zM57 59h5v1h-5zM58 60h5v1h-5zM59 61h5v1h-5zM60 62h5v1h-5zM61 63h5v1h-5zM62 64h5v1h-5zM63 65h5v1h-5zM64 66h5v1h-5zM65 67h5v1h-5zM66 68h5v1h-5zM67 69h5v1h-5zM68 70h5v1h-5zM69 71h5v1h-5zM70 72h5v1h-5zM99 72h1v1h-1zM71 73h5v1h-5zM98 73h1v1h-1zM72 74h5v1h-5zM97 74h1v1h-1zM73 75h5v1h-5zM96 75h1v1h-1zM74 76h5v1h-5zM95 76h1v1h-1zM75 77h5v1h-5zM94 77h1v1h-1zM76 78h5v1h-5zM93 78h1v1h-1zM77 79h5v1h-5zM92 79h1v1h-1zM78 80h5v1h-5zM91 80h1v1h-1zM79 81h5v1h-5zM90 81h1v1h-1zM80 82h5v1h-5zM89 82h1v1h-1zM81 83h5v1h-5zM88 83h1v1h-1zM82 84h6v1h-6zM83 85h4v1h-4zM84 86h2v1h-2zM84 87h1v1h-1zM83 88h1v1h-1zM82 89h1v1h-1zM81 90h1v1h-1zM80 91h1v1h-1zM79 92h1v1h-1zM78 93h1v1h-1zM77 94h1v1h-1zM76 95h1v1h-1zM75 96h1v1h-1zM74 97h1v1h-1zM73 98h1v1h-1zM72 99h1v1h-1z"/><path fill="#005fd0" d="M99 73h1v1h-1zM98 74h1v1h-1zM97 75h1v1h-1zM96 76h1v1h-1zM95 77h1v1h-1zM94 78h1v1h-1zM93 79h1v1h-1zM92 80h1v1h-1zM91 81h1v1h-1zM90 82h1v1h-1zM89 83h1v1h-1zM88 84h1v1h-1zM87 85h1v1h-1zM86 86h1v1h-1zM85 87h1v1h-1zM84 88h1v1h-1zM83 89h1v1h-1zM82 90h1v1h-1zM81 91h1v1h-1zM80 92h1v1h-1zM79 93h1v1h-1zM78 94h1v1h-1zM77 95h1v1h-1zM76 96h1v1h-1zM75 97h1v1h-1zM74 98h1v1h-1zM73 99h1v1h-1z"/><path fill="#005dd0" d="M23 16h1v1h-1zM27 16h1v1h-1zM19 18h1v1h-1zM31 18h1v1h-1zM18 19h1v1h-1zM32 19h1v1h-1zM72 21h1v1h-1zM77 21h1v1h-1zM16 23h1v1h-1zM34 23h1v1h-1zM16 27h1v1h-1zM34 27h1v1h-1zM18 31h1v1h-1zM32 31h1v1h-1zM19 32h1v1h-1zM31 32h1v1h-1zM23 34h1v1h-1zM27 34h1v1h-1zM99 74h1v1h-1zM98 75h1v1h-1zM97 76h1v1h-1zM96 77h1v1h-1zM95 78h1v1h-1zM94 79h1v1h-1zM93 80h1v1h-1zM92 81h1v1h-1zM91 82h1v1h-1zM90 83h1v1h-1zM89 84h1v1h-1zM88 85h1v1h-1zM87 86h1v1h-1zM86 87h1v1h-1zM85 88h1v1h-1zM84 89h1v1h-1zM83 90h1v1h-1zM82 91h1v1h-1zM81 92h1v1h-1zM80 93h1v1h-1zM79 94h1v1h-1zM78 95h1v1h-1zM77 96h1v1h-1zM76 97h1v1h-1zM75 98h1v1h-1zM74 99h1v1h-1z"/><path fill="#005cd1" d="M70 27h1v1h-1zM79 27h1v1h-1z"/><path fill="#005bd2" d="M74 30h2v1h-2zM99 75h1v1h-1zM98 76h1v1h-1zM97 77h1v1h-1zM96 78h1v1h-1zM95 79h1v1h-1zM94 80h1v1h-1zM93 81h1v1h-1zM92 82h1v1h-1zM91 83h1v1h-1zM90 84h1v1h-1zM89 85h1v1h-1zM88 86h1v1h-1zM87 87h1v1h-1zM86 88h1v1h-1zM85 89h1v1h-1zM84 90h1v1h-1zM83 91h1v1h-1zM82 92h1v1h-1zM81 93h1v1h-1zM80 94h1v1h-1zM79 95h1v1h-1zM78 96h1v1h-1zM77 97h1v1h-1zM76 98h1v1h-1zM75 99h1v1h-1z"/><path fill="#005ad2" d="M24 16h1v1h-1zM26 16h1v1h-1zM16 24h1v1h-1zM34 24h1v1h-1zM16 26h1v1h-1zM34 26h1v1h-1zM24 34h1v1h-1zM26 34h1v1h-1z"/><path fill="#0059d2" d="M25 16h1v1h-1zM71 22h1v1h-1zM78 22h1v1h-1zM16 25h1v1h-1zM34 25h1v1h-1zM25 34h1v1h-1z"/><path fill="#0058d3" d="M21 17h1v1h-1zM29 17h1v1h-1zM17 21h1v1h-1zM33 21h1v1h-1zM17 29h1v1h-1zM33 29h1v1h-1zM21 33h1v1h-1zM29 33h1v1h-1zM99 76h1v1h-1zM98 77h1v1h-1zM97 78h1v1h-1zM96 79h1v1h-1zM95 80h1v1h-1zM94 81h1v1h-1zM93 82h1v1h-1zM92 83h1v1h-1zM91 84h1v1h-1zM90 85h1v1h-1zM89 86h1v1h-1zM88 87h1v1h-1zM87 88h1v1h-1zM86 89h1v1h-1zM85 90h1v1h-1zM84 91h1v1h-1zM83 92h1v1h-1zM82 93h1v1h-1zM81 94h1v1h-1zM80 95h1v1h-1zM79 96h1v1h-1zM78 97h1v1h-1zM77 98h1v1h-1zM76 99h1v1h-1z"/><path fill="#0056d4" d="M70 24h1v1h-1zM79 24h1v1h-1zM99 77h1v1h-1zM98 78h1v1h-1zM97 79h1v1h-1zM96 80h1v1h-1zM95 81h1v1h-1zM94 82h1v1h-1zM93 83h1v1h-1zM92 84h1v1h-1zM91 85h1v1h-1zM90 86h1v1h-1zM89 87h1v1h-1zM88 88h1v1h-1zM87 89h1v1h-1zM86 90h1v1h-1zM85 91h1v1h-1zM84 92h1v1h-1zM83 93h1v1h-1zM82 94h1v1h-1zM81 95h1v1h-1zM80 96h1v1h-1zM79 97h1v1h-1zM78 98h1v1h-1zM77 99h1v1h-1z"/><path fill="#0053d6" d="M70 26h1v1h-1zM79 26h1v1h-1zM72 29h1v1h-1zM77 29h1v1h-1zM99 78h1v1h-1zM98 79h1v1h-1zM97 80h1v1h-1zM96 81h1v1h-1zM95 82h1v1h-1zM94 83h1v1h-1zM93 84h1v1h-1zM92 85h1v1h-1zM91 86h1v1h-1zM90 87h1v1h-1zM89 88h1v1h-1zM88 89h1v1h-1zM87 90h1v1h-1zM86 91h1v1h-1zM85 92h1v1h-1zM84 93h1v1h-1zM83 94h1v1h-1zM82 95h1v1h-1zM81 96h1v1h-1zM80 97h1v1h-1zM79 98h1v1h-1zM78 99h1v1h-1z"/><path fill="#0051d6" d="M20 18h1v1h-1zM30 18h1v1h-1zM18 20h1v1h-1zM32 20h1v1h-1zM70 25h1v1h-1zM79 25h1v1h-1zM71 28h1v1h-1zM78 28h1v1h-1zM18 30h1v1h-1zM32 30h1v1h-1zM20 32h1v1h-1zM30 32h1v1h-1zM99 79h1v1h-1zM98 80h1v1h-1zM97 81h1v1h-1zM96 82h1v1h-1zM95 83h1v1h-1zM94 84h1v1h-1zM93 85h1v1h-1zM92 86h1v1h-1zM91 87h1v1h-1zM90 88h1v1h-1zM89 89h1v1h-1zM88 90h1v1h-1zM87 91h1v1h-1zM86 92h1v1h-1zM85 93h1v1h-1zM84 94h1v1h-1zM83 95h1v1h-1zM82 96h1v1h-1zM81 97h1v1h-1zM80 98h1v1h-1zM79 99h1v1h-1z"/><path fill="#0050d7" d="M22 17h1v1h-1zM28 17h1v1h-1zM73 21h1v1h-1zM76 21h1v1h-1zM17 22h1v1h-1zM33 22h1v1h-1zM17 28h1v1h-1zM33 28h1v1h-1zM22 33h1v1h-1zM28 33h1v1h-1z"/><path fill="#004fd8" d="M19 19h1v1h-1zM31 19h1v1h-1zM19 31h1v1h-1zM31 31h1v1h-1zM99 80h1v1h-1zM98 81h1v1h-1zM97 82h1v1h-1zM96 83h1v1h-1zM95 84h1v1h-1zM94 85h1v1h-1zM93 86h1v1h-1zM92 87h1v1h-1zM91 88h1v1h-1zM90 89h1v1h-1zM89 90h1v1h-1zM88 91h1v1h-1zM87 92h1v1h-1zM86 93h1v1h-1zM85 94h1v1h-1zM84 95h1v1h-1zM83 96h1v1h-1zM82 97h1v1h-1zM81 98h1v1h-1zM80 99h1v1h-1z"/><path fill="#004cd9" d="M99 81h1v1h-1zM98 82h1v1h-1zM97 83h1v1h-1zM96 84h1v1h-1zM95 85h1v1h-1zM94 86h1v1h-1zM93 87h1v1h-1zM92 88h1v1h-1zM91 89h1v1h-1zM90 90h1v1h-1zM89 91h1v1h-1zM88 92h1v1h-1zM87 93h1v1h-1zM86 94h1v1h-1zM85 95h1v1h-1zM84 96h1v1h-1zM83 97h1v1h-1zM82 98h1v1h-1zM81 99h1v1h-1z"/><path fill="#004bda" d="M23 17h1v1h-1zM27 17h1v1h-1zM17 23h1v1h-1zM33 23h1v1h-1zM17 27h1v1h-1zM33 27h1v1h-1zM23 33h1v1h-1zM27 33h1v1h-1z"/><path fill="#004ada" d="M99 82h1v1h-1zM98 83h1v1h-1zM97 84h1v1h-1zM96 85h1v1h-1zM95 86h1v1h-1zM94 87h1v1h-1zM93 88h1v1h-1zM92 89h1v1h-1zM91 90h1v1h-1zM90 91h1v1h-1zM89 92h1v1h-1zM88 93h1v1h-1zM87 94h1v1h-1zM86 95h1v1h-1zM85 96h1v1h-1zM84 97h1v1h-1zM83 98h1v1h-1zM82 99h1v1h-1z"/><path fill="#0049db" d="M74 21h2v1h-2z"/><path fill="#0047dc" d="M24 17h1v1h-1zM26 17h1v1h-1zM21 18h1v1h-1zM29 18h1v1h-1zM18 21h1v1h-1zM32 21h1v1h-1zM71 23h1v1h-1zM78 23h1v1h-1zM17 24h1v1h-1zM33 24h1v1h-1zM17 26h1v1h-1zM33 26h1v1h-1zM18 29h1v1h-1zM32 29h1v1h-1zM21 32h1v1h-1zM29 32h1v1h-1zM24 33h1v1h-1zM26 33h1v1h-1zM99 83h1v1h-1zM98 84h1v1h-1zM97 85h1v1h-1zM96 86h1v1h-1zM95 87h1v1h-1zM94 88h1v1h-1zM93 89h1v1h-1zM92 90h1v1h-1zM91 91h1v1h-1zM90 92h1v1h-1zM89 93h1v1h-1zM88 94h1v1h-1zM87 95h1v1h-1zM86 96h1v1h-1zM85 97h1v1h-1zM84 98h1v1h-1zM83 99h1v1h-1z"/><path fill="#0046dc" d="M25 17h1v1h-1zM17 25h1v1h-1zM33 25h1v1h-1zM25 33h1v1h-1z"/><path fill="#0045dc" d="M72 22h1v1h-1zM77 22h1v1h-1zM73 29h1v1h-1zM76 29h1v1h-1zM99 84h1v1h-1zM98 85h1v1h-1zM97 86h1v1h-1zM96 87h1v1h-1zM95 88h1v1h-1zM94 89h1v1h-1zM93 90h1v1h-1zM92 91h1v1h-1zM91 92h1v1h-1zM90 93h1v1h-1zM89 94h1v1h-1zM88 95h1v1h-1zM87 96h1v1h-1zM86 97h1v1h-1zM85 98h1v1h-1zM84 99h1v1h-1z"/><path fill="#0043de" d="M20 19h1v1h-1zM30 19h1v1h-1zM19 20h1v1h-1zM31 20h1v1h-1zM19 30h1v1h-1zM31 30h1v1h-1zM20 31h1v1h-1zM30 31h1v1h-1z"/><path fill="#0042de" d="M99 85h1v1h-1zM98 86h1v1h-1zM97 87h1v1h-1zM96 88h1v1h-1zM95 89h1v1h-1zM94 90h1v1h-1zM93 91h1v1h-1zM92 92h1v1h-1zM91 93h1v1h-1zM90 94h1v1h-1zM89 95h1v1h-1zM88 96h1v1h-1zM87 97h1v1h-1zM86 98h1v1h-1zM85 99h1v1h-1z"/><path fill="#0041de" d="M71 27h1v1h-1zM78 27h1v1h-1z"/><path fill="#0040df" d="M22 18h1v1h-1zM28 18h1v1h-1zM18 22h1v1h-1zM32 22h1v1h-1zM18 28h1v1h-1zM32 28h1v1h-1zM22 32h1v1h-1zM28 32h1v1h-1zM99 86h1v1h-1zM98 87h1v1h-1zM97 88h1v1h-1zM96 89h1v1h-1zM95 90h1v1h-1zM94 91h1v1h-1zM93 92h1v1h-1zM92 93h1v1h-1zM91 94h1v1h-1zM90 95h1v1h-1zM89 96h1v1h-1zM88 97h1v1h-1zM87 98h1v1h-1zM86 99h1v1h-1z"/><path fill="#003fe0" d="M74 29h2v1h-2z"/><path fill="#003ee0" d="M99 87h1v1h-1zM98 88h1v1h-1zM97 89h1v1h-1zM96 90h1v1h-1zM95 91h1v1h-1zM94 92h1v1h-1zM93 93h1v1h-1zM92 94h1v1h-1zM91 95h1v1h-1zM90 96h1v1h-1zM89 97h1v1h-1zM88 98h1v1h-1zM87 99h1v1h-1z"/><path fill="#003de0" d="M72 28h1v1h-1zM77 28h1v1h-1z"/><path fill="#003be2" d="M71 24h1v1h-1zM78 24h1v1h-1zM99 88h1v1h-1zM98 89h1v1h-1zM97 90h1v1h-1zM96 91h1v1h-1zM95 92h1v1h-1zM94 93h1v1h-1zM93 94h1v1h-1zM92 95h1v1h-1zM91 96h1v1h-1zM90 97h1v1h-1zM89 98h1v1h-1zM88 99h1v1h-1z"/><path fill="#003ae2" d="M23 18h1v1h-1zM27 18h1v1h-1zM18 23h1v1h-1zM32 23h1v1h-1zM18 27h1v1h-1zM32 27h1v1h-1zM23 32h1v1h-1zM27 32h1v1h-1z"/><path fill="#0039e2" d="M21 19h1v1h-1zM29 19h1v1h-1zM19 21h1v1h-1zM31 21h1v1h-1zM71 26h1v1h-1zM78 26h1v1h-1zM19 29h1v1h-1zM31 29h1v1h-1zM21 31h1v1h-1zM29 31h1v1h-1zM99 89h1v1h-1zM98 90h1v1h-1zM97 91h1v1h-1zM96 92h1v1h-1zM95 93h1v1h-1zM94 94h1v1h-1zM93 95h1v1h-1zM92 96h1v1h-1zM91 97h1v1h-1zM90 98h1v1h-1zM89 99h1v1h-1z"/><path fill="#0037e3" d="M24 18h1v1h-1zM26 18h1v1h-1zM20 20h1v1h-1zM30 20h1v1h-1zM73 22h1v1h-1zM76 22h1v1h-1zM18 24h1v1h-1zM32 24h1v1h-1zM71 25h1v1h-1zM78 25h1v1h-1zM18 26h1v1h-1zM32 26h1v1h-1zM20 30h1v1h-1zM30 30h1v1h-1zM24 32h1v1h-1zM26 32h1v1h-1z"/><path fill="#0036e4" d="M25 18h1v1h-1zM18 25h1v1h-1zM32 25h1v1h-1zM25 32h1v1h-1zM99 90h1v1h-1zM98 91h1v1h-1zM97 92h1v1h-1zM96 93h1v1h-1zM95 94h1v1h-1zM94 95h1v1h-1zM93 96h1v1h-1zM92 97h1v1h-1zM91 98h1v1h-1zM90 99h1v1h-1z"/><path fill="#0034e5" d="M99 91h1v1h-1zM98 92h1v1h-1zM97 93h1v1h-1zM96 94h1v1h-1zM95 95h1v1h-1zM94 96h1v1h-1zM93 97h1v1h-1zM92 98h1v1h-1zM91 99h1v1h-1z"/><path fill="#0033e6" d="M72 23h1v1h-1zM77 23h1v1h-1z"/><path fill="#0032e6" d="M99 92h1v1h-1zM98 93h1v1h-1zM97 94h1v1h-1zM96 95h1v1h-1zM95 96h1v1h-1zM94 97h1v1h-1zM93 98h1v1h-1zM92 99h1v1h-1z"/><path fill="#0031e6" d="M22 19h1v1h-1zM28 19h1v1h-1zM19 22h1v1h-1zM31 22h1v1h-1zM74 22h2v1h-2zM19 28h1v1h-1zM31 28h1v1h-1zM22 31h1v1h-1zM28 31h1v1h-1z"/><path fill="#002fe8" d="M73 28h1v1h-1zM76 28h1v1h-1zM99 93h1v1h-1zM98 94h1v1h-1zM97 95h1v1h-1zM96 96h1v1h-1zM95 97h1v1h-1zM94 98h1v1h-1zM93 99h1v1h-1z"/><path fill="#002de8" d="M21 20h1v1h-1zM29 20h1v1h-1zM20 21h1v1h-1zM30 21h1v1h-1zM72 27h1v1h-1zM77 27h1v1h-1zM20 29h1v1h-1zM30 29h1v1h-1zM21 30h1v1h-1zM29 30h1v1h-1zM99 94h1v1h-1zM98 95h1v1h-1zM97 96h1v1h-1zM96 97h1v1h-1zM95 98h1v1h-1zM94 99h1v1h-1z"/><path fill="#002ce9" d="M23 19h1v1h-1zM27 19h1v1h-1zM19 23h1v1h-1zM31 23h1v1h-1zM19 27h1v1h-1zM31 27h1v1h-1zM23 31h1v1h-1zM27 31h1v1h-1z"/><path fill="#002aea" d="M99 95h1v1h-1zM98 96h1v1h-1zM97 97h1v1h-1zM96 98h1v1h-1zM95 99h1v1h-1z"/><path fill="#0029eb" d="M24 19h1v1h-1zM26 19h1v1h-1zM19 24h1v1h-1zM31 24h1v1h-1zM19 26h1v1h-1zM31 26h1v1h-1zM24 31h1v1h-1zM26 31h1v1h-1z"/><path fill="#0028eb" d="M25 19h1v1h-1zM19 25h1v1h-1zM31 25h1v1h-1zM74 28h2v1h-2zM25 31h1v1h-1zM99 96h1v1h-1zM98 97h1v1h-1zM97 98h1v1h-1zM96 99h1v1h-1z"/><path fill="#0027ec" d="M72 24h1v1h-1zM77 24h1v1h-1z"/><path fill="#0025ec" d="M22 20h1v1h-1zM28 20h1v1h-1zM20 22h1v1h-1zM30 22h1v1h-1zM73 23h1v1h-1zM76 23h1v1h-1zM20 28h1v1h-1zM30 28h1v1h-1zM22 30h1v1h-1zM28 30h1v1h-1zM99 97h1v1h-1zM98 98h1v1h-1zM97 99h1v1h-1z"/><path fill="#0024ed" d="M72 26h1v1h-1zM77 26h1v1h-1z"/><path fill="#0023ee" d="M21 21h1v1h-1zM29 21h1v1h-1zM21 29h1v1h-1zM29 29h1v1h-1zM99 98h1v1h-1zM98 99h1v1h-1z"/><path fill="#0022ee" d="M72 25h1v1h-1zM77 25h1v1h-1z"/><path fill="#0021ee" d="M99 99h1v1h-1z"/><path fill="#0020ef" d="M23 20h1v1h-1zM27 20h1v1h-1zM20 23h1v1h-1zM30 23h1v1h-1zM20 27h1v1h-1zM30 27h1v1h-1zM73 27h1v1h-1zM76 27h1v1h-1zM23 30h1v1h-1zM27 30h1v1h-1z"/><path fill="#001ef0" d="M74 23h2v1h-2z"/><path fill="#001df0" d="M24 20h1v1h-1zM26 20h1v1h-1zM20 24h1v1h-1zM30 24h1v1h-1zM20 26h1v1h-1zM30 26h1v1h-1zM24 30h1v1h-1zM26 30h1v1h-1z"/><path fill="#001bf2" d="M25 20h1v1h-1zM22 21h1v1h-1zM28 21h1v1h-1zM21 22h1v1h-1zM29 22h1v1h-1zM20 25h1v1h-1zM30 25h1v1h-1zM21 28h1v1h-1zM29 28h1v1h-1zM22 29h1v1h-1zM28 29h1v1h-1zM25 30h1v1h-1z"/><path fill="#001af2" d="M73 24h1v1h-1zM76 24h1v1h-1z"/><path fill="#0019f2" d="M74 27h2v1h-2z"/><path fill="#0017f3" d="M73 26h1v1h-1zM76 26h1v1h-1z"/><path fill="#0016f4" d="M23 21h1v1h-1zM27 21h1v1h-1zM21 23h1v1h-1zM29 23h1v1h-1zM21 27h1v1h-1zM29 27h1v1h-1zM23 29h1v1h-1zM27 29h1v1h-1z"/><path fill="#0015f4" d="M73 25h1v1h-1zM76 25h1v1h-1z"/><path fill="#0014f5" d="M22 22h1v1h-1zM28 22h1v1h-1zM22 28h1v1h-1zM28 28h1v1h-1z"/><path fill="#0013f6" d="M24 21h1v1h-1zM26 21h1v1h-1zM21 24h1v1h-1zM29 24h1v1h-1zM74 24h2v1h-2zM21 26h1v1h-1zM29 26h1v1h-1zM24 29h1v1h-1zM26 29h1v1h-1z"/><path fill="#0012f6" d="M25 21h1v1h-1zM21 25h1v1h-1zM29 25h1v1h-1zM25 29h1v1h-1z"/><path fill="#0010f7" d="M74 26h2v1h-2z"/><path fill="#000ef8" d="M23 22h1v1h-1zM27 22h1v1h-1zM22 23h1v1h-1zM28 23h1v1h-1zM74 25h2v1h-2zM22 27h1v1h-1zM28 27h1v1h-1zM23 28h1v1h-1zM27 28h1v1h-1z"/><path fill="#000bfa" d="M24 22h1v1h-1zM26 22h1v1h-1zM22 24h1v1h-1zM28 24h1v1h-1zM22 26h1v1h-1zM28 26h1v1h-1zM24 28h1v1h-1zM26 28h1v1h-1z"/><path fill="#000afa" d="M25 22h1v1h-1zM22 25h1v1h-1zM28 25h1v1h-1zM25 28h1v1h-1z"/><path fill="#0009fb" d="M23 23h1v1h-1zM27 23h1v1h-1zM23 27h1v1h-1zM27 27h1v1h-1z"/><path fill="#0005fc" d="M24 23h1v1h-1zM26 23h1v1h-1zM23 24h1v1h-1zM27 24h1v1h-1zM23 26h1v1h-1zM27 26h1v1h-1zM24 27h1v1h-1zM26 27h1v1h-1z"/><path fill="#0004fd" d="M25 23h1v1h-1zM23 25h1v1h-1zM27 25h1v1h-1zM25 27h1v1h-1z"/><path fill="#0002fe" d="M24 24h1v1h-1zM26 24h1v1h-1zM24 26h1v1h-1zM26 26h1v1h-1z"/><path fill="#0001fe" d="M25 24h1v1h-1zM24 25h1v1h-1zM26 25h1v1h-1zM25 26h1v1h-1z"/><path fill="#0000ff" d="M25 25h1v1h-1z"/>
</g></g>
<path d="M105.75 2321.6v10.65M227.46 2321.6v10.65M349.16 2321.6v10.65M470.87 2321.6v10.65M592.58 2321.6v10.65M105.75 1719.4h-10.65M105.75 1841.06h-10.65M105.75 1962.71h-10.65M105.75 2084.37h-10.65M105.75 2206.03h-10.65" stroke="#000" stroke-width="2.3" fill="none"/>
<rect x="105.75" y="1719.4" width="602.45" height="602.2" fill="none" stroke="#000" stroke-width="2.3"/>
<text x="105.75" y="2361.9" font-family='"DejaVu Sans","Liberation Sans",sans-serif' font-size="28.2" text-anchor="middle" fill="#000">0</text>
<text x="227.46" y="2361.9" font-family='"DejaVu Sans","Liberation Sans",sans-serif' font-size="28.2" text-anchor="middle" fill="#000">20</text>
<text x="349.16" y="2361.9" font-family='"DejaVu Sans","Liberation Sans",sans-serif' font-size="28.2" text-anchor="middle" fill="#000">40</text>
<text x="470.87" y="2361.9" font-family='"DejaVu Sans","Liberation Sans",sans-serif' font-size="28.2" text-anchor="middle" fill="#000">60</text>
<text x="592.58" y="2361.9" font-family='"DejaVu Sans","Liberation Sans",sans-serif' font-size="28.2" text-anchor="middle" fill="#000">80</text>
<text x="85.55" y="1729.7" font-family='"DejaVu Sans","Liberation Sans",sans-serif' font-size="28.2" text-anchor="end" fill="#000">0</text>
<text x="85.55" y="1851.36" font-family='"DejaVu Sans","Liberation Sans",sans-serif' font-size="28.2" text-anchor="end" fill="#000">20</text>
<text x="85.55" y="1973.01" font-family='"DejaVu Sans","Liberation Sans",sans-serif' font-size="28.2" text-anchor="end" fill="#000">40</text>
<text x="85.55" y="2094.67" font-family='"DejaVu Sans","Liberation Sans",sans-serif' font-size="28.2" text-anchor="end" fill="#000">60</text>
<text x="85.55" y="2216.33" font-family='"DejaVu Sans","Liberation Sans",sans-serif' font-size="28.2" text-anchor="end" fill="#000">80</text>
<text x="406.98" y="2401.6" font-family='"DejaVu Sans","Liberation Sans",sans-serif' font-size="28.2" text-anchor="middle" fill="#000">Pixel Col</text>
<text transform="translate(31.75,2020.5) rotate(-90)" font-family='"DejaVu Sans","Liberation Sans",sans-serif' font-size="28.2" text-anchor="middle" fill="#000">Pixel Row</text>
<text x="406.98" y="1663.4" font-family='"DejaVu Sans","Liberation Sans",sans-serif' font-size="34.1" text-anchor="middle" fill="#000">6 [m] Coastal Inundation Applied</text>
<text x="406.98" y="1701.6" font-family='"DejaVu Sans","Liberation Sans",sans-serif' font-size="34.1" text-anchor="middle" fill="#000">Ocean Connectivity Enforced</text>
<rect x="781.4" y="1719.4" width="30.9" height="602.2" fill="url(#wg)" stroke="#000" stroke-width="1.9"/>
<text x="832.3" y="2332" font-family='"DejaVu Sans","Liberation Sans",sans-serif' font-size="28.2" text-anchor="start" fill="#000">0</text>
<text x="832.3" y="2217.84" font-family='"DejaVu Sans","Liberation Sans",sans-serif' font-size="28.2" text-anchor="start" fill="#000">2</text>
<text x="832.3" y="2103.68" font-family='"DejaVu Sans","Liberation Sans",sans-serif' font-size="28.2" text-anchor="start" fill="#000">4</text>
<text x="832.3" y="1989.52" font-family='"DejaVu Sans","Liberation Sans",sans-serif' font-size="28.2" text-anchor="start" fill="#000">6</text>
<text x="832.3" y="1875.36" font-family='"DejaVu Sans","Liberation Sans",sans-serif' font-size="28.2" text-anchor="start" fill="#000">8</text>
<text x="832.3" y="1761.19" font-family='"DejaVu Sans","Liberation Sans",sans-serif' font-size="28.2" text-anchor="start" fill="#000">10</text>
<path d="M812.3 2321.6h10.65M812.3 2207.44h10.65M812.3 2093.28h10.65M812.3 1979.12h10.65M812.3 1864.96h10.65M812.3 1750.79h10.65" stroke="#000" stroke-width="2.3" fill="none"/>
<text transform="translate(899,2020.5) rotate(-90)" font-family='"DejaVu Sans","Liberation Sans",sans-serif' font-size="28.2" text-anchor="middle" fill="#000">Inundation [m]</text>
<text x="13.9" y="1651" font-family='"Liberation Sans","DejaVu Sans",sans-serif' font-size="34" text-anchor="start" font-weight="bold" fill="#000">C</text>
<g transform="translate(1025.3,1719.4) scale(6.02300,6.02200)" shape-rendering="crispEdges">
<path fill="#000" d="M99 7h1v1h-1zM98 8h2v1h-2zM97 9h3v1h-3zM96 10h4v1h-4zM95 11h5v1h-5zM94 12h6v1h-6zM93 13h7v1h-7zM92 14h8v1h-8zM91 15h9v1h-9zM21 16h9v1h-9zM90 16h10v1h-10zM20 17h11v1h-11zM70 17h9v1h-9zM89 17h11v1h-11zM18 18h15v1h-15zM69 18h11v1h-11zM88 18h12v1h-12zM18 19h15v1h-15zM68 19h13v1h-13zM87 19h13v1h-13zM17 20h17v1h-17zM67 20h15v1h-15zM86 20h14v1h-14zM16 21h19v1h-19zM66 21h17v1h-17zM85 21h15v1h-15zM16 22h19v1h-19zM66 22h17v1h-17zM84 22h16v1h-16zM16 23h19v1h-19zM66 23h34v1h-34zM16 24h19v1h-19zM66 24h34v1h-34zM16 25h19v1h-19zM66 25h34v1h-34zM16 26h19v1h-19zM66 26h34v1h-34zM16 27h19v1h-19zM66 27h34v1h-34zM16 28h19v1h-19zM66 28h34v1h-34zM16 29h19v1h-19zM66 29h34v1h-34zM17 30h17v1h-17zM67 30h33v1h-33zM18 31h16v1h-16zM68 31h32v1h-32zM18 32h17v1h-17zM69 32h31v1h-31zM20 33h16v1h-16zM70 33h30v1h-30zM21 34h9v1h-9zM32 34h5v1h-5zM72 34h28v1h-28zM33 35h5v1h-5zM71 35h29v1h-29zM34 36h5v1h-5zM70 36h30v1h-30zM35 37h5v1h-5zM69 37h31v1h-31zM36 38h5v1h-5zM68 38h32v1h-32zM37 39h5v1h-5zM67 39h33v1h-33zM38 40h5v1h-5zM66 40h34v1h-34zM39 41h5v1h-5zM65 41h35v1h-35zM40 42h5v1h-5zM64 42h36v1h-36zM41 43h5v1h-5zM63 43h37v1h-37zM42 44h5v1h-5zM62 44h38v1h-38zM43 45h5v1h-5zM61 45h39v1h-39zM44 46h5v1h-5zM60 46h40v1h-40zM45 47h5v1h-5zM59 47h41v1h-41zM46 48h5v1h-5zM58 48h42v1h-42zM47 49h5v1h-5zM57 49h43v1h-43zM48 50h5v1h-5zM56 50h44v1h-44zM49 51h5v1h-5zM55 51h45v1h-45zM50 52h50v1h-50zM51 53h49v1h-49zM52 54h48v1h-48zM51 55h49v1h-49zM50 56h50v1h-50zM49 57h51v1h-51zM48 58h52v1h-52zM47 59h53v1h-53zM46 60h54v1h-54zM45 61h55v1h-55zM44 62h56v1h-56zM43 63h57v1h-57zM42 64h58v1h-58zM41 65h59v1h-59zM40 66h60v1h-60zM39 67h61v1h-61zM38 68h62v1h-62zM37 69h63v1h-63zM36 70h64v1h-64zM35 71h65v1h-65zM34 72h66v1h-66zM33 73h67v1h-67zM32 74h68v1h-68zM31 75h69v1h-69zM30 76h70v1h-70zM29 77h71v1h-71zM28 78h72v1h-72zM27 79h73v1h-73zM26 80h74v1h-74zM25 81h75v1h-75zM24 82h76v1h-76zM23 83h77v1h-77zM22 84h78v1h-78zM21 85h79v1h-79zM20 86h80v1h-80zM19 87h81v1h-81zM18 88h82v1h-82zM17 89h83v1h-83zM16 90h84v1h-84zM15 91h85v1h-85zM14 92h86v1h-86zM13 93h87v1h-87zM12 94h88v1h-88zM11 95h89v1h-89zM10 96h90v1h-90zM9 97h91v1h-91zM8 98h92v1h-92zM7 99h93v1h-93z"/>
</g>
<path d="M1028.31 2321.6v10.65M1148.77 2321.6v10.65M1269.23 2321.6v10.65M1389.69 2321.6v10.65M1510.15 2321.6v10.65M1025.3 1722.41h-10.65M1025.3 1842.85h-10.65M1025.3 1963.29h-10.65M1025.3 2083.73h-10.65M1025.3 2204.17h-10.65" stroke="#000" stroke-width="2.3" fill="none"/>
<rect x="1025.3" y="1719.4" width="602.3" height="602.2" fill="none" stroke="#000" stroke-width="2.3"/>
<text x="1028.31" y="2361.9" font-family='"DejaVu Sans","Liberation Sans",sans-serif' font-size="28.2" text-anchor="middle" fill="#000">0</text>
<text x="1148.77" y="2361.9" font-family='"DejaVu Sans","Liberation Sans",sans-serif' font-size="28.2" text-anchor="middle" fill="#000">20</text>
<text x="1269.23" y="2361.9" font-family='"DejaVu Sans","Liberation Sans",sans-serif' font-size="28.2" text-anchor="middle" fill="#000">40</text>
<text x="1389.69" y="2361.9" font-family='"DejaVu Sans","Liberation Sans",sans-serif' font-size="28.2" text-anchor="middle" fill="#000">60</text>
<text x="1510.15" y="2361.9" font-family='"DejaVu Sans","Liberation Sans",sans-serif' font-size="28.2" text-anchor="middle" fill="#000">80</text>
<text x="1005.1" y="1732.71" font-family='"DejaVu Sans","Liberation Sans",sans-serif' font-size="28.2" text-anchor="end" fill="#000">0</text>
<text x="1005.1" y="1853.15" font-family='"DejaVu Sans","Liberation Sans",sans-serif' font-size="28.2" text-anchor="end" fill="#000">20</text>
<text x="1005.1" y="1973.59" font-family='"DejaVu Sans","Liberation Sans",sans-serif' font-size="28.2" text-anchor="end" fill="#000">40</text>
<text x="1005.1" y="2094.03" font-family='"DejaVu Sans","Liberation Sans",sans-serif' font-size="28.2" text-anchor="end" fill="#000">60</text>
<text x="1005.1" y="2214.47" font-family='"DejaVu Sans","Liberation Sans",sans-serif' font-size="28.2" text-anchor="end" fill="#000">80</text>
<text x="1326.45" y="2401.6" font-family='"DejaVu Sans","Liberation Sans",sans-serif' font-size="28.2" text-anchor="middle" fill="#000">Pixel Col</text>
<text transform="translate(951,2022) rotate(-90)" font-family='"DejaVu Sans","Liberation Sans",sans-serif' font-size="28.2" text-anchor="middle" fill="#000">Pixel Row</text>
<text x="1326.45" y="1701.6" font-family='"DejaVu Sans","Liberation Sans",sans-serif' font-size="34.1" text-anchor="middle" fill="#000">Elevation Condition</text>
<rect x="1699.4" y="1719.4" width="31" height="301.1" fill="#000"/>
<rect x="1699.4" y="1719.4" width="31" height="602.2" fill="none" stroke="#000" stroke-width="2.3"/>
<text transform="translate(1762.3,1881.7) rotate(-90)" font-family='"DejaVu Sans","Liberation Sans",sans-serif' font-size="28.2" text-anchor="middle" fill="#000">Satisfied</text>
<text transform="translate(1762.3,2177.4) rotate(-90)" font-family='"DejaVu Sans","Liberation Sans",sans-serif' font-size="28.2" text-anchor="middle" fill="#000">Not Satisfied</text>
<text x="947.7" y="1667.2" font-family='"Liberation Sans","DejaVu Sans",sans-serif' font-size="34" text-anchor="start" font-weight="bold" fill="#000">F</text>
</svg>
</body></html>
